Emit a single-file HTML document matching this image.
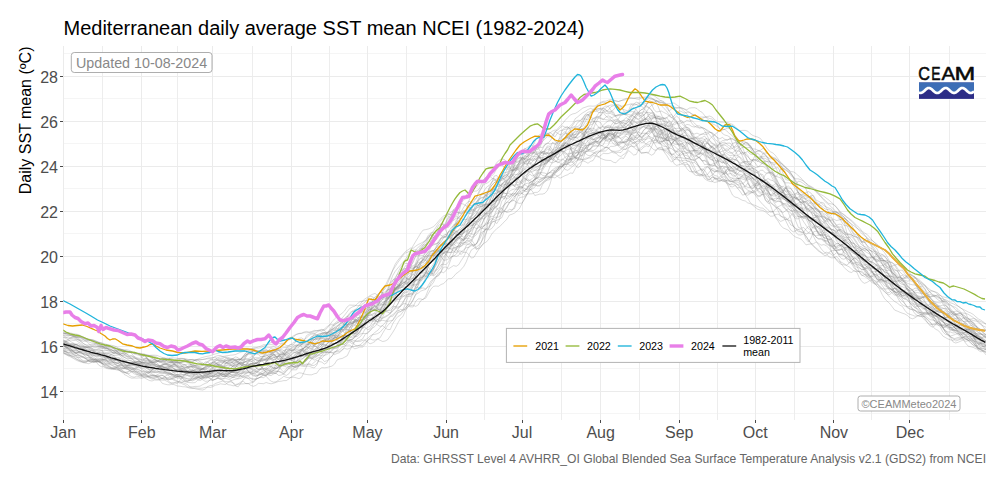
<!DOCTYPE html>
<html><head><meta charset="utf-8"><title>Mediterranean daily average SST mean NCEI (1982-2024)</title>
<style>html,body{margin:0;padding:0;background:#fff}svg{display:block}</style></head>
<body>
<svg width="1000" height="480" viewBox="0 0 1000 480" font-family="'Liberation Sans', Arial, sans-serif">
<rect width="1000" height="480" fill="#fff"/>
<g fill="none" shape-rendering="crispEdges">
<path d="M63.25 413.5H986.0" stroke="#f5f5f5" stroke-width="1"/>
<path d="M63.25 368.5H986.0" stroke="#f5f5f5" stroke-width="1"/>
<path d="M63.25 323.5H986.0" stroke="#f5f5f5" stroke-width="1"/>
<path d="M63.25 278.5H986.0" stroke="#f5f5f5" stroke-width="1"/>
<path d="M63.25 233.5H986.0" stroke="#f5f5f5" stroke-width="1"/>
<path d="M63.25 188.5H986.0" stroke="#f5f5f5" stroke-width="1"/>
<path d="M63.25 143.5H986.0" stroke="#f5f5f5" stroke-width="1"/>
<path d="M63.25 98.5H986.0" stroke="#f5f5f5" stroke-width="1"/>
<path d="M63.25 53.5H986.0" stroke="#f5f5f5" stroke-width="1"/>
<path d="M102.5 46.0V420.0" stroke="#ededed" stroke-width="1"/>
<path d="M177.5 46.0V420.0" stroke="#ededed" stroke-width="1"/>
<path d="M252.5 46.0V420.0" stroke="#ededed" stroke-width="1"/>
<path d="M329.5 46.0V420.0" stroke="#ededed" stroke-width="1"/>
<path d="M406.5 46.0V420.0" stroke="#ededed" stroke-width="1"/>
<path d="M484.5 46.0V420.0" stroke="#ededed" stroke-width="1"/>
<path d="M561.5 46.0V420.0" stroke="#ededed" stroke-width="1"/>
<path d="M639.5 46.0V420.0" stroke="#ededed" stroke-width="1"/>
<path d="M717.5 46.0V420.0" stroke="#ededed" stroke-width="1"/>
<path d="M794.5 46.0V420.0" stroke="#ededed" stroke-width="1"/>
<path d="M871.5 46.0V420.0" stroke="#ededed" stroke-width="1"/>
<path d="M949.5 46.0V420.0" stroke="#ededed" stroke-width="1"/>
<path d="M63.25 391.5H986.0" stroke="#ebebeb" stroke-width="1"/>
<path d="M63.25 346.5H986.0" stroke="#ebebeb" stroke-width="1"/>
<path d="M63.25 301.5H986.0" stroke="#ebebeb" stroke-width="1"/>
<path d="M63.25 256.5H986.0" stroke="#ebebeb" stroke-width="1"/>
<path d="M63.25 211.5H986.0" stroke="#ebebeb" stroke-width="1"/>
<path d="M63.25 166.5H986.0" stroke="#ebebeb" stroke-width="1"/>
<path d="M63.25 121.5H986.0" stroke="#ebebeb" stroke-width="1"/>
<path d="M63.25 76.5H986.0" stroke="#ebebeb" stroke-width="1"/>
<path d="M63.5 46.0V420.0" stroke="#ebebeb" stroke-width="1"/>
<path d="M141.5 46.0V420.0" stroke="#ebebeb" stroke-width="1"/>
<path d="M212.5 46.0V420.0" stroke="#ebebeb" stroke-width="1"/>
<path d="M291.5 46.0V420.0" stroke="#ebebeb" stroke-width="1"/>
<path d="M367.5 46.0V420.0" stroke="#ebebeb" stroke-width="1"/>
<path d="M446.5 46.0V420.0" stroke="#ebebeb" stroke-width="1"/>
<path d="M522.5 46.0V420.0" stroke="#ebebeb" stroke-width="1"/>
<path d="M600.5 46.0V420.0" stroke="#ebebeb" stroke-width="1"/>
<path d="M679.5 46.0V420.0" stroke="#ebebeb" stroke-width="1"/>
<path d="M755.5 46.0V420.0" stroke="#ebebeb" stroke-width="1"/>
<path d="M833.5 46.0V420.0" stroke="#ebebeb" stroke-width="1"/>
<path d="M909.5 46.0V420.0" stroke="#ebebeb" stroke-width="1"/>
</g>
<clipPath id="c"><rect x="63.25" y="46.0" width="922.75" height="374.0"/></clipPath>
<g clip-path="url(#c)" fill="none" stroke-linejoin="round" stroke-linecap="butt">
<g stroke="#7f7f7f" stroke-opacity="0.31" stroke-width="0.95">
<path d="M63.2 350.4 L65.8 351.4 L68.3 352.4 L70.9 352.6 L73.4 353.4 L75.9 353.4 L78.5 352.9 L81 353.8 L83.5 353.7 L86.1 354.3 L88.6 356.4 L91.1 357.9 L93.7 359.2 L96.2 360.2 L98.7 361.4 L101.3 361.3 L103.8 361.9 L106.3 364.1 L108.9 364.5 L111.4 364.9 L114 366.1 L116.5 367.5 L119 369.4 L121.6 370.4 L124.1 371.9 L126.6 372.9 L129.2 375.1 L131.7 376.7 L134.2 377.2 L136.8 376.1 L139.3 376.7 L141.8 376.8 L144.4 376.8 L146.9 377.2 L149.4 376.3 L152 375.1 L154.5 376.1 L157 376.3 L159.6 376.7 L162.1 378.1 L164.7 376.7 L167.2 375 L169.7 374.1 L172.3 373.1 L174.8 372.1 L177.3 372 L179.9 370 L182.4 369.2 L184.9 368.5 L187.5 366.7 L190 364.9 L192.5 364.1 L195.1 365.6 L197.6 367.8 L200.1 368.9 L202.7 370.9 L205.2 371.3 L207.7 371.3 L210.3 371.4 L212.8 371.4 L215.4 369.7 L217.9 370.1 L220.4 370.6 L223 370.2 L225.5 370.1 L228 370.5 L230.6 371.2 L233.1 370.9 L235.6 369.8 L238.2 368.6 L240.7 368.5 L243.2 368.2 L245.8 367.4 L248.3 365.9 L250.8 363.6 L253.4 363.4 L255.9 363.4 L258.4 361.9 L261 359.7 L263.5 360 L266.1 358.6 L268.6 356.8 L271.1 359.4 L273.7 362.2 L276.2 364 L278.7 362.6 L281.3 358.2 L283.8 354.9 L286.3 352.5 L288.9 353.2 L291.4 356.4 L293.9 359.2 L296.5 357.6 L299 356.1 L301.5 356.6 L304.1 356.2 L306.6 355.9 L309.1 354 L311.7 351.9 L314.2 352.4 L316.8 352.2 L319.3 351.4 L321.8 352.4 L324.4 350.3 L326.9 347.9 L329.4 344.7 L332 343.6 L334.5 343.5 L337 343.2 L339.6 342.3 L342.1 343.7 L344.6 344.2 L347.2 342.1 L349.7 339.7 L352.2 339.6 L354.8 336.3 L357.3 334.2 L359.8 332.9 L362.4 327.6 L364.9 321.7 L367.5 319.4 L370 320 L372.5 320.4 L375.1 319.3 L377.6 315.8 L380.1 309.8 L382.7 306.8 L385.2 304.7 L387.7 300.4 L390.3 296.2 L392.8 292 L395.3 288 L397.9 286.7 L400.4 283.3 L402.9 277.7 L405.5 274.3 L408 271.5 L410.5 267.2 L413.1 267.1 L415.6 267.4 L418.2 264.6 L420.7 263.6 L423.2 262.6 L425.8 259.4 L428.3 256.5 L430.8 255.4 L433.4 255.8 L435.9 254.2 L438.4 250.7 L441 250 L443.5 248.9 L446 243 L448.6 238.9 L451.1 230.6 L453.6 224.7 L456.2 223.7 L458.7 224.6 L461.2 221 L463.8 218.1 L466.3 215 L468.9 212.9 L471.4 208.5 L473.9 203.8 L476.5 201.9 L479 200 L481.5 197.9 L484.1 196.4 L486.6 195.4 L489.1 191 L491.7 189.7 L494.2 193.9 L496.7 193.4 L499.3 190.8 L501.8 190.8 L504.3 193.2 L506.9 193.8 L509.4 191.3 L511.9 189.8 L514.5 189 L517 189.4 L519.5 189.1 L522.1 187.7 L524.6 184.2 L527.2 183.3 L529.7 183.1 L532.2 181.6 L534.8 179.1 L537.3 177.5 L539.8 177.3 L542.4 178.6 L544.9 177.8 L547.4 177 L550 178.1 L552.5 174.2 L555 172.7 L557.6 171.2 L560.1 168.2 L562.6 166.7 L565.2 164.3 L567.7 163.9 L570.2 165.6 L572.8 164.5 L575.3 161.5 L577.9 160.2 L580.4 158.4 L582.9 160 L585.5 159.5 L588 158.3 L590.5 156.2 L593.1 153.7 L595.6 153.6 L598.1 156.6 L600.7 158.4 L603.2 159.4 L605.7 160.2 L608.3 160.4 L610.8 160.5 L613.3 162.2 L615.9 162.8 L618.4 159.9 L621 157.9 L623.5 158.5 L626 154.4 L628.6 150.6 L631.1 152.6 L633.6 155 L636.2 154.5 L638.7 149.6 L641.2 147.6 L643.8 145.7 L646.3 143.7 L648.8 141.7 L651.4 140.8 L653.9 142.7 L656.4 142.5 L659 136.8 L661.5 132.6 L664 131.5 L666.6 130.7 L669.1 131.6 L671.7 136.9 L674.2 140.3 L676.7 143.6 L679.3 145.6 L681.8 147.1 L684.3 146.2 L686.9 142.9 L689.4 139.7 L691.9 138.6 L694.5 140 L697 141.9 L699.5 141.1 L702.1 140.4 L704.6 144.7 L707.1 152.8 L709.7 156.2 L712.2 153.5 L714.7 151.8 L717.3 152.6 L719.8 152.1 L722.4 151.2 L724.9 150.4 L727.4 152 L730 153.1 L732.5 153.3 L735 156.7 L737.6 160.5 L740.1 162.9 L742.6 162.1 L745.2 161.5 L747.7 161.6 L750.2 161.5 L752.8 159.8 L755.3 159.9 L757.8 159.4 L760.4 157 L762.9 158.1 L765.4 161.3 L768 161.6 L770.5 161.7 L773.1 163.5 L775.6 167.3 L778.1 172.5 L780.7 176.5 L783.2 178.7 L785.7 184.5 L788.3 192.8 L790.8 198.6 L793.3 205.4 L795.9 210 L798.4 211.7 L800.9 212.8 L803.5 214.1 L806 216.3 L808.5 217.3 L811.1 218.1 L813.6 218.2 L816.1 217 L818.7 216.9 L821.2 216.5 L823.8 216.9 L826.3 217.3 L828.8 219.3 L831.4 222.5 L833.9 225.1 L836.4 227.2 L839 227.1 L841.5 226.8 L844 231.5 L846.6 233.1 L849.1 234.7 L851.6 235.1 L854.2 236.4 L856.7 237.1 L859.2 238.1 L861.8 242.4 L864.3 246.8 L866.8 249.7 L869.4 252.4 L871.9 256.6 L874.5 260.2 L877 261.9 L879.5 260.1 L882.1 260.2 L884.6 260.9 L887.1 261.7 L889.7 266.9 L892.2 273.8 L894.7 277.2 L897.3 278.3 L899.8 276.4 L902.3 275.3 L904.9 277.8 L907.4 276.2 L909.9 274.6 L912.5 275.8 L915 277.3 L917.5 278.6 L920.1 280.4 L922.6 283.1 L925.2 285.7 L927.7 289.8 L930.2 292.2 L932.8 294.6 L935.3 295.5 L937.8 296.4 L940.4 298.9 L942.9 301.8 L945.4 305.5 L948 308.3 L950.5 311.3 L953 313.5 L955.6 316 L958.1 318 L960.6 320.9 L963.2 325 L965.7 327.7 L968.2 329.3 L970.8 331.1 L973.3 336 L975.9 341.1 L978.4 344.1 L980.9 345.8 L983.5 346.9 L986 347.6"/>
<path d="M63.2 344 L65.8 345.4 L68.3 345.6 L70.9 345.4 L73.4 344.9 L75.9 344 L78.5 345.6 L81 347 L83.5 347.6 L86.1 347.3 L88.6 347.9 L91.1 349.3 L93.7 350.4 L96.2 352 L98.7 352.8 L101.3 352.2 L103.8 352.7 L106.3 354.4 L108.9 355.3 L111.4 356.1 L114 357.1 L116.5 359.3 L119 361.2 L121.6 364.3 L124.1 367.5 L126.6 367.5 L129.2 366.6 L131.7 366.4 L134.2 368.8 L136.8 370.6 L139.3 372.2 L141.8 375.1 L144.4 375.3 L146.9 375.9 L149.4 378 L152 379.2 L154.5 378.5 L157 377 L159.6 377 L162.1 378.6 L164.7 379.4 L167.2 378.6 L169.7 378.8 L172.3 379.4 L174.8 380.7 L177.3 381.7 L179.9 381.4 L182.4 382.5 L184.9 383.4 L187.5 384.6 L190 386.8 L192.5 386.8 L195.1 386.4 L197.6 386.4 L200.1 386.1 L202.7 384.6 L205.2 383.4 L207.7 382.4 L210.3 379.6 L212.8 377.6 L215.4 374.2 L217.9 372.9 L220.4 374.1 L223 376.3 L225.5 376.4 L228 374.7 L230.6 372.5 L233.1 370.9 L235.6 369.5 L238.2 369.2 L240.7 370.3 L243.2 371.8 L245.8 372.2 L248.3 370.7 L250.8 371.1 L253.4 371.7 L255.9 372 L258.4 371.9 L261 373 L263.5 375 L266.1 374.9 L268.6 374.7 L271.1 373.3 L273.7 372.6 L276.2 373.7 L278.7 369.6 L281.3 365.5 L283.8 365.5 L286.3 367.2 L288.9 367.1 L291.4 365.4 L293.9 364.6 L296.5 362.1 L299 359.2 L301.5 358.8 L304.1 357.7 L306.6 354.8 L309.1 353 L311.7 350.7 L314.2 346.4 L316.8 343.8 L319.3 342.8 L321.8 341.8 L324.4 341 L326.9 340.3 L329.4 338.7 L332 339.1 L334.5 337 L337 334.3 L339.6 331.7 L342.1 328.5 L344.6 324.4 L347.2 321.5 L349.7 319.1 L352.2 317.5 L354.8 316.5 L357.3 314.8 L359.8 315.3 L362.4 311.2 L364.9 304.8 L367.5 303.9 L370 302.3 L372.5 302.7 L375.1 300 L377.6 295.5 L380.1 291.8 L382.7 292.9 L385.2 295.6 L387.7 295.9 L390.3 293.8 L392.8 292 L395.3 289.5 L397.9 287.9 L400.4 285.8 L402.9 283.1 L405.5 281.9 L408 282.5 L410.5 280.9 L413.1 281.9 L415.6 280.4 L418.2 279.2 L420.7 277.4 L423.2 276.5 L425.8 275.9 L428.3 274.3 L430.8 273.3 L433.4 273.5 L435.9 270.5 L438.4 268.9 L441 264.7 L443.5 264.2 L446 264.7 L448.6 261.9 L451.1 256.7 L453.6 256.2 L456.2 254.3 L458.7 250.8 L461.2 251.2 L463.8 252.4 L466.3 252.3 L468.9 254.6 L471.4 258.1 L473.9 257.3 L476.5 252.9 L479 249.1 L481.5 245.5 L484.1 243.3 L486.6 241.8 L489.1 238.7 L491.7 234.1 L494.2 231.3 L496.7 228.7 L499.3 226.8 L501.8 224.5 L504.3 221.7 L506.9 219.3 L509.4 215 L511.9 214.3 L514.5 213.1 L517 210.9 L519.5 208.5 L522.1 203.3 L524.6 198.3 L527.2 193.6 L529.7 189.1 L532.2 190.9 L534.8 195.5 L537.3 194.8 L539.8 194.1 L542.4 194.1 L544.9 193.3 L547.4 190.4 L550 184.2 L552.5 175.3 L555 169.4 L557.6 167.8 L560.1 166.5 L562.6 166.6 L565.2 162.8 L567.7 159.8 L570.2 159.3 L572.8 156.9 L575.3 156.7 L577.9 154.8 L580.4 148.5 L582.9 138.2 L585.5 131.5 L588 126.9 L590.5 124.8 L593.1 123.9 L595.6 117.7 L598.1 117 L600.7 118.6 L603.2 119.8 L605.7 117.2 L608.3 115.9 L610.8 116.8 L613.3 119.9 L615.9 121 L618.4 121.1 L621 124.8 L623.5 126.9 L626 123.8 L628.6 121.9 L631.1 122.6 L633.6 126.8 L636.2 130.8 L638.7 135 L641.2 136.9 L643.8 135.3 L646.3 133.2 L648.8 135.9 L651.4 139.3 L653.9 142.8 L656.4 147 L659 149.9 L661.5 149.3 L664 149.2 L666.6 149 L669.1 148.4 L671.7 143.9 L674.2 139.9 L676.7 141 L679.3 140.8 L681.8 141.7 L684.3 146.9 L686.9 150.8 L689.4 150.7 L691.9 153.4 L694.5 158.2 L697 163.6 L699.5 168.2 L702.1 169.7 L704.6 174 L707.1 179.3 L709.7 179.8 L712.2 177 L714.7 177.4 L717.3 179.5 L719.8 180.6 L722.4 179.4 L724.9 179.9 L727.4 183.7 L730 186.5 L732.5 186.9 L735 185.5 L737.6 187.9 L740.1 186.9 L742.6 188.8 L745.2 194.1 L747.7 193 L750.2 193 L752.8 192.7 L755.3 191.8 L757.8 189.8 L760.4 187.6 L762.9 185.7 L765.4 187.3 L768 194.1 L770.5 202.3 L773.1 204.4 L775.6 207.5 L778.1 208.2 L780.7 209.8 L783.2 215.1 L785.7 220.7 L788.3 226.1 L790.8 230.2 L793.3 231.9 L795.9 230.5 L798.4 229.7 L800.9 232.7 L803.5 232.4 L806 228.7 L808.5 226.3 L811.1 229.1 L813.6 236.5 L816.1 241.4 L818.7 243.5 L821.2 245.2 L823.8 244.6 L826.3 245.6 L828.8 248.2 L831.4 251.3 L833.9 256.1 L836.4 260.1 L839 262.9 L841.5 264.5 L844 264.8 L846.6 265.5 L849.1 266.8 L851.6 269 L854.2 271.2 L856.7 271.7 L859.2 271.1 L861.8 272.5 L864.3 274.1 L866.8 276.6 L869.4 278.6 L871.9 279.9 L874.5 283.1 L877 285.5 L879.5 288 L882.1 289.4 L884.6 292 L887.1 293.9 L889.7 294.6 L892.2 292.3 L894.7 291.6 L897.3 294.1 L899.8 295.4 L902.3 293.3 L904.9 293.3 L907.4 295 L909.9 297.6 L912.5 299.2 L915 299.6 L917.5 300.8 L920.1 303.2 L922.6 305.7 L925.2 309.2 L927.7 313.8 L930.2 314.8 L932.8 317.3 L935.3 318.4 L937.8 320.1 L940.4 323.4 L942.9 327.7 L945.4 330.3 L948 333.5 L950.5 337.4 L953 341.9 L955.6 343 L958.1 342.3 L960.6 341.2 L963.2 340.1 L965.7 341.4 L968.2 340.6 L970.8 340.2 L973.3 342.9 L975.9 346.4 L978.4 348.6 L980.9 350 L983.5 351.8 L986 354.9"/>
<path d="M63.2 342.4 L65.8 342.8 L68.3 344.1 L70.9 345.4 L73.4 347.6 L75.9 349.6 L78.5 351.3 L81 352.5 L83.5 353.8 L86.1 354.4 L88.6 355.7 L91.1 357.1 L93.7 359 L96.2 360.4 L98.7 361.1 L101.3 360.7 L103.8 359.1 L106.3 357.7 L108.9 358 L111.4 358.8 L114 360.1 L116.5 360.7 L119 362 L121.6 364.5 L124.1 366.1 L126.6 367.3 L129.2 370 L131.7 371.8 L134.2 372.2 L136.8 374.2 L139.3 375.3 L141.8 376.2 L144.4 376 L146.9 376.3 L149.4 377 L152 376.7 L154.5 376.6 L157 374.7 L159.6 373.6 L162.1 373.8 L164.7 373.4 L167.2 374.6 L169.7 376.5 L172.3 377 L174.8 377.5 L177.3 377 L179.9 375.6 L182.4 374.6 L184.9 374.6 L187.5 375.5 L190 376 L192.5 376.2 L195.1 377.4 L197.6 377.8 L200.1 376.2 L202.7 375.2 L205.2 374.1 L207.7 374.7 L210.3 376 L212.8 376.9 L215.4 376.6 L217.9 377.5 L220.4 378.6 L223 378.8 L225.5 377.1 L228 375.4 L230.6 376.8 L233.1 377.6 L235.6 376.2 L238.2 375.5 L240.7 375.7 L243.2 376.1 L245.8 376.5 L248.3 375.7 L250.8 374.2 L253.4 375.9 L255.9 376.2 L258.4 374.9 L261 374.1 L263.5 374.8 L266.1 376.1 L268.6 379.2 L271.1 381.2 L273.7 382.2 L276.2 381.7 L278.7 380 L281.3 378.4 L283.8 376.3 L286.3 377.3 L288.9 377.7 L291.4 377.5 L293.9 377.2 L296.5 377.9 L299 378.7 L301.5 377.3 L304.1 372 L306.6 366.4 L309.1 362.1 L311.7 359.2 L314.2 357.2 L316.8 356.1 L319.3 355.4 L321.8 356 L324.4 355.3 L326.9 354.6 L329.4 353.1 L332 349.3 L334.5 346.9 L337 345.6 L339.6 342.2 L342.1 337.7 L344.6 335.2 L347.2 335.2 L349.7 335.2 L352.2 331.8 L354.8 330.4 L357.3 331.4 L359.8 327.6 L362.4 323.5 L364.9 318.9 L367.5 316.3 L370 315.2 L372.5 313.9 L375.1 313.6 L377.6 312.9 L380.1 310.4 L382.7 305.8 L385.2 301.3 L387.7 299.2 L390.3 295.1 L392.8 292.2 L395.3 289.3 L397.9 286.2 L400.4 285.2 L402.9 283.4 L405.5 281.6 L408 280.8 L410.5 278.3 L413.1 278 L415.6 279.9 L418.2 279.7 L420.7 276.6 L423.2 274.8 L425.8 276.4 L428.3 277.3 L430.8 275.2 L433.4 271.7 L435.9 270 L438.4 266 L441 260.8 L443.5 256.8 L446 253.8 L448.6 249.2 L451.1 244.9 L453.6 238.6 L456.2 234.6 L458.7 234.4 L461.2 234.2 L463.8 233.1 L466.3 231.4 L468.9 232.3 L471.4 231.1 L473.9 227 L476.5 223.7 L479 226.3 L481.5 228.1 L484.1 229 L486.6 229.7 L489.1 228.4 L491.7 223 L494.2 221 L496.7 223.6 L499.3 219.8 L501.8 212.8 L504.3 205.5 L506.9 202 L509.4 202.6 L511.9 200 L514.5 196.5 L517 193.5 L519.5 193.2 L522.1 193.6 L524.6 191.1 L527.2 187.3 L529.7 185.1 L532.2 184.4 L534.8 185 L537.3 183.1 L539.8 182.3 L542.4 180 L544.9 178.2 L547.4 177 L550 176 L552.5 174 L555 172.4 L557.6 170 L560.1 165.8 L562.6 164.7 L565.2 164.1 L567.7 161.2 L570.2 159 L572.8 158.6 L575.3 157.2 L577.9 157.7 L580.4 159.5 L582.9 159.6 L585.5 158.2 L588 157.9 L590.5 158 L593.1 155.6 L595.6 155.9 L598.1 157 L600.7 155.7 L603.2 153.2 L605.7 153.6 L608.3 153.6 L610.8 152.6 L613.3 151.6 L615.9 153 L618.4 155.8 L621 156.5 L623.5 154.5 L626 153 L628.6 148.1 L631.1 145.4 L633.6 146.8 L636.2 145.7 L638.7 142.8 L641.2 140.9 L643.8 138.7 L646.3 137.3 L648.8 135.4 L651.4 132.2 L653.9 128.3 L656.4 128.9 L659 130.3 L661.5 130.3 L664 129.7 L666.6 128.3 L669.1 128.7 L671.7 130.2 L674.2 130.6 L676.7 131.2 L679.3 131.7 L681.8 130 L684.3 130.4 L686.9 135.2 L689.4 138.9 L691.9 143.1 L694.5 149.5 L697 151.3 L699.5 152.1 L702.1 153.5 L704.6 156.1 L707.1 161.5 L709.7 165.9 L712.2 170.2 L714.7 171.7 L717.3 171.1 L719.8 171.7 L722.4 172.5 L724.9 174.7 L727.4 178.2 L730 181 L732.5 181.2 L735 180.7 L737.6 180.6 L740.1 181 L742.6 182.6 L745.2 187.7 L747.7 190.3 L750.2 191.1 L752.8 192.3 L755.3 195.2 L757.8 198.6 L760.4 201.8 L762.9 204.7 L765.4 206.9 L768 209.8 L770.5 212.1 L773.1 212 L775.6 208.9 L778.1 206.7 L780.7 205.5 L783.2 204 L785.7 206 L788.3 208.6 L790.8 210.7 L793.3 210.7 L795.9 210 L798.4 211.1 L800.9 213 L803.5 215.3 L806 217.7 L808.5 220.4 L811.1 221.4 L813.6 224.8 L816.1 229.6 L818.7 233.6 L821.2 234.9 L823.8 235.1 L826.3 236.5 L828.8 236 L831.4 238.6 L833.9 243.8 L836.4 250.3 L839 256 L841.5 258.6 L844 259.3 L846.6 257.5 L849.1 255.6 L851.6 258.5 L854.2 261.2 L856.7 265.2 L859.2 271.7 L861.8 275.1 L864.3 276.4 L866.8 278 L869.4 280.1 L871.9 282.4 L874.5 284 L877 284.2 L879.5 285.8 L882.1 288.4 L884.6 289.1 L887.1 288.8 L889.7 288.1 L892.2 290.2 L894.7 291.8 L897.3 292.8 L899.8 293.8 L902.3 295 L904.9 297.8 L907.4 299.8 L909.9 303 L912.5 305 L915 307.4 L917.5 306 L920.1 304.4 L922.6 304.4 L925.2 304.5 L927.7 305.6 L930.2 304 L932.8 302.9 L935.3 303 L937.8 304.9 L940.4 306.8 L942.9 308 L945.4 309.2 L948 311.6 L950.5 312.2 L953 312.1 L955.6 311.2 L958.1 311.3 L960.6 313.1 L963.2 315.4 L965.7 316.6 L968.2 318.5 L970.8 320.5 L973.3 323 L975.9 326.1 L978.4 327.6 L980.9 330.3 L983.5 333.1 L986 334.7"/>
<path d="M63.2 345.8 L65.8 347.1 L68.3 349.5 L70.9 350.7 L73.4 350.8 L75.9 350.3 L78.5 349.5 L81 349.5 L83.5 349.5 L86.1 350.7 L88.6 352.7 L91.1 355.3 L93.7 357.3 L96.2 359.2 L98.7 361.4 L101.3 362.8 L103.8 362.9 L106.3 363.4 L108.9 363.4 L111.4 362.8 L114 362.8 L116.5 363 L119 364.1 L121.6 365.6 L124.1 366.7 L126.6 367 L129.2 367.6 L131.7 368 L134.2 368.8 L136.8 369.2 L139.3 370.4 L141.8 371.2 L144.4 371.2 L146.9 372.3 L149.4 372.5 L152 371.8 L154.5 372 L157 371.9 L159.6 372.1 L162.1 372.9 L164.7 372.9 L167.2 373.1 L169.7 373.9 L172.3 374.6 L174.8 374.3 L177.3 374.6 L179.9 376 L182.4 377.3 L184.9 374.5 L187.5 373.1 L190 372.6 L192.5 373.8 L195.1 374.4 L197.6 373.6 L200.1 374.8 L202.7 376.5 L205.2 377 L207.7 377.1 L210.3 376.5 L212.8 376.4 L215.4 374.8 L217.9 374.9 L220.4 374.4 L223 371.7 L225.5 370.5 L228 371.7 L230.6 374.7 L233.1 375.8 L235.6 375.6 L238.2 376.5 L240.7 376.9 L243.2 375.7 L245.8 373.3 L248.3 372 L250.8 372.4 L253.4 373.6 L255.9 373.4 L258.4 370.4 L261 369 L263.5 368.7 L266.1 367.8 L268.6 365.8 L271.1 366.5 L273.7 368.1 L276.2 368.6 L278.7 367 L281.3 364 L283.8 363 L286.3 364 L288.9 364 L291.4 365.4 L293.9 366.6 L296.5 366.1 L299 365.4 L301.5 363.9 L304.1 361.4 L306.6 359.4 L309.1 357.9 L311.7 358.4 L314.2 356.9 L316.8 354.1 L319.3 351.3 L321.8 350.8 L324.4 350.1 L326.9 349 L329.4 346.5 L332 341.5 L334.5 336.9 L337 337 L339.6 337.8 L342.1 337.1 L344.6 335.4 L347.2 332.7 L349.7 329 L352.2 331 L354.8 327.9 L357.3 324.2 L359.8 320.4 L362.4 319.6 L364.9 316.6 L367.5 312.1 L370 309.7 L372.5 308.7 L375.1 310 L377.6 309.4 L380.1 309.7 L382.7 310.5 L385.2 311.8 L387.7 310.7 L390.3 310.4 L392.8 308.3 L395.3 306.5 L397.9 307.1 L400.4 306.1 L402.9 303.9 L405.5 303.6 L408 304.9 L410.5 305.7 L413.1 305.1 L415.6 306.4 L418.2 305 L420.7 300.7 L423.2 299 L425.8 298.1 L428.3 293.6 L430.8 289.3 L433.4 286.4 L435.9 286 L438.4 286.3 L441 284.5 L443.5 283.6 L446 281.2 L448.6 278.7 L451.1 278.8 L453.6 276.6 L456.2 273.5 L458.7 271.9 L461.2 269.4 L463.8 266.4 L466.3 261.7 L468.9 255 L471.4 249.9 L473.9 248.4 L476.5 247 L479 245 L481.5 241.5 L484.1 237.1 L486.6 231.9 L489.1 227.4 L491.7 220.9 L494.2 215.4 L496.7 209.4 L499.3 207.7 L501.8 208.7 L504.3 211.2 L506.9 211.6 L509.4 209.3 L511.9 209.7 L514.5 208.5 L517 201.9 L519.5 197.6 L522.1 197.1 L524.6 196.7 L527.2 194.5 L529.7 190.6 L532.2 187.4 L534.8 183.2 L537.3 181 L539.8 182 L542.4 180.5 L544.9 178.2 L547.4 173.2 L550 172.6 L552.5 172.9 L555 171.5 L557.6 169.3 L560.1 168.2 L562.6 166.1 L565.2 161.3 L567.7 157.8 L570.2 153.5 L572.8 152.4 L575.3 149 L577.9 144.5 L580.4 140.2 L582.9 134 L585.5 131.6 L588 132.2 L590.5 133.3 L593.1 132.7 L595.6 131.9 L598.1 131.4 L600.7 133.1 L603.2 135.1 L605.7 136.1 L608.3 133.7 L610.8 129.8 L613.3 126.1 L615.9 121.7 L618.4 118.9 L621 115 L623.5 114.5 L626 114.5 L628.6 117.1 L631.1 116.5 L633.6 114.3 L636.2 113.9 L638.7 115.9 L641.2 117.8 L643.8 120.4 L646.3 123.1 L648.8 124.1 L651.4 123.1 L653.9 121.1 L656.4 121.9 L659 127.5 L661.5 130.8 L664 129.5 L666.6 133.6 L669.1 137.6 L671.7 139.2 L674.2 139.6 L676.7 142.7 L679.3 144.6 L681.8 145.9 L684.3 147.9 L686.9 149.7 L689.4 151.9 L691.9 154.7 L694.5 156.7 L697 155.5 L699.5 153.7 L702.1 149.9 L704.6 147.8 L707.1 149.5 L709.7 149.6 L712.2 146.1 L714.7 145.6 L717.3 148.2 L719.8 152.7 L722.4 155.6 L724.9 159.1 L727.4 163.2 L730 166.8 L732.5 168.4 L735 167.6 L737.6 165.6 L740.1 164.1 L742.6 167.7 L745.2 176.3 L747.7 182.8 L750.2 186.5 L752.8 185.9 L755.3 183.3 L757.8 183.7 L760.4 188.8 L762.9 192.6 L765.4 196.8 L768 200.2 L770.5 205.3 L773.1 212.4 L775.6 217.9 L778.1 221.1 L780.7 225.5 L783.2 227.9 L785.7 229 L788.3 230.1 L790.8 233 L793.3 235.4 L795.9 237.2 L798.4 238 L800.9 239 L803.5 241.7 L806 244.9 L808.5 244.3 L811.1 243.9 L813.6 243.7 L816.1 241.9 L818.7 244.9 L821.2 248.8 L823.8 251.8 L826.3 253.5 L828.8 256.8 L831.4 257.8 L833.9 257.8 L836.4 256.7 L839 259 L841.5 264.2 L844 267.3 L846.6 269.9 L849.1 271.8 L851.6 272.5 L854.2 270.5 L856.7 271.9 L859.2 277.6 L861.8 281.5 L864.3 283.3 L866.8 282.5 L869.4 280.8 L871.9 280.6 L874.5 283.5 L877 286 L879.5 288.9 L882.1 294.4 L884.6 298.7 L887.1 301.2 L889.7 303.5 L892.2 306.8 L894.7 310.1 L897.3 311.1 L899.8 312.2 L902.3 313.2 L904.9 314 L907.4 315.5 L909.9 317.9 L912.5 318.8 L915 317.8 L917.5 316.1 L920.1 314.7 L922.6 314 L925.2 317.4 L927.7 320.3 L930.2 322.7 L932.8 324.8 L935.3 324.5 L937.8 324.9 L940.4 326.9 L942.9 332 L945.4 334.3 L948 334.9 L950.5 335.9 L953 335.3 L955.6 334.3 L958.1 333.6 L960.6 334.7 L963.2 333.1 L965.7 332.8 L968.2 334.2 L970.8 336.1 L973.3 337.9 L975.9 338.4 L978.4 339.1 L980.9 343 L983.5 346.3 L986 346.1"/>
<path d="M63.2 345.3 L65.8 345.6 L68.3 344.9 L70.9 343.5 L73.4 343.5 L75.9 344.5 L78.5 345.7 L81 346.1 L83.5 346.8 L86.1 349.3 L88.6 351.6 L91.1 352.8 L93.7 352.4 L96.2 352.7 L98.7 351.8 L101.3 350.5 L103.8 350.5 L106.3 350.6 L108.9 350.6 L111.4 349.7 L114 350.6 L116.5 350.4 L119 349.2 L121.6 349.8 L124.1 350.6 L126.6 351.6 L129.2 351.5 L131.7 352.3 L134.2 353.1 L136.8 353.6 L139.3 354.6 L141.8 357.3 L144.4 360.2 L146.9 362.1 L149.4 363 L152 361.9 L154.5 363 L157 365.1 L159.6 366.6 L162.1 367.8 L164.7 368 L167.2 368.6 L169.7 366.7 L172.3 365.2 L174.8 363.9 L177.3 363.5 L179.9 363.6 L182.4 366.5 L184.9 367.8 L187.5 367.9 L190 366.6 L192.5 366.2 L195.1 366.5 L197.6 368.1 L200.1 369.5 L202.7 369 L205.2 366.4 L207.7 364.9 L210.3 362.9 L212.8 362.7 L215.4 363.4 L217.9 363.7 L220.4 364.8 L223 366.6 L225.5 367.1 L228 367.4 L230.6 367.9 L233.1 366.2 L235.6 364.8 L238.2 364.6 L240.7 364.8 L243.2 365.9 L245.8 365.1 L248.3 364.1 L250.8 363.6 L253.4 364 L255.9 362.5 L258.4 360.4 L261 360.1 L263.5 357.1 L266.1 353.4 L268.6 351.3 L271.1 351.3 L273.7 350.6 L276.2 348.5 L278.7 346.2 L281.3 344.2 L283.8 343.5 L286.3 345.6 L288.9 345.5 L291.4 344.4 L293.9 345.1 L296.5 345.3 L299 345.1 L301.5 346.2 L304.1 352.2 L306.6 357.3 L309.1 358.1 L311.7 358.4 L314.2 360.1 L316.8 358.7 L319.3 357.3 L321.8 358.7 L324.4 361.5 L326.9 360.8 L329.4 359.1 L332 356 L334.5 351.9 L337 351.8 L339.6 351.6 L342.1 349.8 L344.6 348.4 L347.2 349.2 L349.7 348.3 L352.2 346.6 L354.8 346.4 L357.3 345.8 L359.8 345.1 L362.4 343 L364.9 340.2 L367.5 341.8 L370 343.9 L372.5 342.9 L375.1 341.4 L377.6 338.9 L380.1 340.3 L382.7 341.5 L385.2 341 L387.7 339.7 L390.3 336 L392.8 332.3 L395.3 328.1 L397.9 323 L400.4 318.6 L402.9 316.6 L405.5 310.4 L408 306.3 L410.5 306.8 L413.1 307 L415.6 301.4 L418.2 298.9 L420.7 298.9 L423.2 299.8 L425.8 296 L428.3 289.8 L430.8 283.5 L433.4 279.5 L435.9 276.8 L438.4 273.2 L441 271.8 L443.5 272.7 L446 270.7 L448.6 265.6 L451.1 258.9 L453.6 253.5 L456.2 249 L458.7 244.5 L461.2 241.7 L463.8 238.5 L466.3 234.4 L468.9 233.1 L471.4 229 L473.9 221.9 L476.5 217.4 L479 213.5 L481.5 209.4 L484.1 206.3 L486.6 201.3 L489.1 198.9 L491.7 200.8 L494.2 200.7 L496.7 193.8 L499.3 185 L501.8 177.2 L504.3 172.6 L506.9 172.3 L509.4 170.7 L511.9 170 L514.5 170.4 L517 170.6 L519.5 165.8 L522.1 161.8 L524.6 158.2 L527.2 157 L529.7 154.2 L532.2 152.9 L534.8 152.5 L537.3 155.2 L539.8 156.6 L542.4 155.1 L544.9 152.9 L547.4 156 L550 159.2 L552.5 159.5 L555 156.5 L557.6 154.8 L560.1 149 L562.6 144.8 L565.2 145.3 L567.7 145.1 L570.2 146.1 L572.8 148.5 L575.3 146.7 L577.9 145.6 L580.4 147.7 L582.9 147.5 L585.5 146 L588 145.3 L590.5 144.1 L593.1 143.4 L595.6 141.1 L598.1 141.6 L600.7 137.1 L603.2 130.4 L605.7 126.4 L608.3 125.3 L610.8 126.4 L613.3 127.6 L615.9 126.6 L618.4 128.4 L621 130.4 L623.5 130.9 L626 132 L628.6 128 L631.1 124.8 L633.6 123 L636.2 122.3 L638.7 121.8 L641.2 120.6 L643.8 120.1 L646.3 118.5 L648.8 114.5 L651.4 115.8 L653.9 116.9 L656.4 118.2 L659 116 L661.5 117.4 L664 118.7 L666.6 118.2 L669.1 115.2 L671.7 114.6 L674.2 118 L676.7 121.5 L679.3 127.3 L681.8 132 L684.3 137.9 L686.9 139.6 L689.4 138.2 L691.9 138.9 L694.5 143.5 L697 143.1 L699.5 143.9 L702.1 145.7 L704.6 148.3 L707.1 151.1 L709.7 151.8 L712.2 153.5 L714.7 159 L717.3 161.9 L719.8 159.8 L722.4 156.4 L724.9 152.3 L727.4 154 L730 155.8 L732.5 155.1 L735 155.5 L737.6 155.9 L740.1 153.4 L742.6 152.7 L745.2 152.6 L747.7 155.2 L750.2 160 L752.8 160.1 L755.3 160.5 L757.8 161.1 L760.4 162.6 L762.9 163.7 L765.4 165.2 L768 169.5 L770.5 172.7 L773.1 173.7 L775.6 179.2 L778.1 185.7 L780.7 188.3 L783.2 191.2 L785.7 195.6 L788.3 201.3 L790.8 203.8 L793.3 206.9 L795.9 209.3 L798.4 213.6 L800.9 216.1 L803.5 217.1 L806 216.2 L808.5 220.3 L811.1 226.9 L813.6 228 L816.1 229.5 L818.7 233.9 L821.2 235.8 L823.8 234.7 L826.3 234.5 L828.8 237.1 L831.4 241.4 L833.9 246 L836.4 246.2 L839 245.1 L841.5 245.5 L844 247.6 L846.6 252.2 L849.1 256.4 L851.6 261.3 L854.2 266.1 L856.7 270.9 L859.2 271.5 L861.8 271.3 L864.3 273.6 L866.8 276.6 L869.4 274 L871.9 271.6 L874.5 274.4 L877 279.9 L879.5 279.7 L882.1 279.4 L884.6 281.7 L887.1 280.6 L889.7 283.1 L892.2 287.7 L894.7 291.5 L897.3 292.7 L899.8 293 L902.3 292.4 L904.9 294 L907.4 295.7 L909.9 296.3 L912.5 298.8 L915 302.2 L917.5 304 L920.1 303.8 L922.6 303.9 L925.2 307 L927.7 312.6 L930.2 316.8 L932.8 319.2 L935.3 321.5 L937.8 325 L940.4 325.5 L942.9 325.2 L945.4 326.4 L948 328.7 L950.5 329.6 L953 330.2 L955.6 328.4 L958.1 327.6 L960.6 331.5 L963.2 332.7 L965.7 332.1 L968.2 334.1 L970.8 337.2 L973.3 340.4 L975.9 344 L978.4 347.5 L980.9 348.4 L983.5 348.5 L986 349.2"/>
<path d="M63.2 351.4 L65.8 351.8 L68.3 353.3 L70.9 353.6 L73.4 354 L75.9 355.9 L78.5 358.9 L81 360.6 L83.5 361.2 L86.1 361 L88.6 360.7 L91.1 360.5 L93.7 360.3 L96.2 359.6 L98.7 359.6 L101.3 359.3 L103.8 359.6 L106.3 360.8 L108.9 360.9 L111.4 359.3 L114 357.7 L116.5 357.3 L119 357.6 L121.6 359 L124.1 360.7 L126.6 362.5 L129.2 363.2 L131.7 363.6 L134.2 364.7 L136.8 365.2 L139.3 367.1 L141.8 369.4 L144.4 371 L146.9 371.6 L149.4 371.8 L152 370 L154.5 368.4 L157 368.5 L159.6 369.2 L162.1 369.6 L164.7 371.1 L167.2 372.9 L169.7 374.3 L172.3 375 L174.8 376.8 L177.3 378.2 L179.9 378.1 L182.4 378.2 L184.9 379.4 L187.5 380.7 L190 380.7 L192.5 379.7 L195.1 378.6 L197.6 379.5 L200.1 380.6 L202.7 379 L205.2 376.5 L207.7 375.3 L210.3 373.9 L212.8 371.9 L215.4 367.8 L217.9 366 L220.4 366.6 L223 367.5 L225.5 369 L228 370.4 L230.6 372.1 L233.1 372.6 L235.6 372.2 L238.2 372.2 L240.7 373.3 L243.2 373.7 L245.8 373.7 L248.3 372.8 L250.8 372.9 L253.4 372.9 L255.9 371.6 L258.4 369.1 L261 368.4 L263.5 365.3 L266.1 361.2 L268.6 358.8 L271.1 356.2 L273.7 355 L276.2 356.4 L278.7 356.9 L281.3 356.6 L283.8 354.7 L286.3 354 L288.9 353.2 L291.4 351.9 L293.9 352 L296.5 353.1 L299 352.9 L301.5 353 L304.1 354.7 L306.6 355.2 L309.1 355.5 L311.7 356.2 L314.2 356 L316.8 355.6 L319.3 354.4 L321.8 353.3 L324.4 352 L326.9 353 L329.4 352.2 L332 352.4 L334.5 354.6 L337 353.5 L339.6 352.7 L342.1 350.2 L344.6 346.9 L347.2 343.3 L349.7 342 L352.2 343.8 L354.8 341.1 L357.3 338.6 L359.8 337.2 L362.4 334.1 L364.9 329.1 L367.5 327.6 L370 326.3 L372.5 321.6 L375.1 321 L377.6 322.3 L380.1 321.7 L382.7 317.8 L385.2 316.3 L387.7 315.1 L390.3 312.9 L392.8 311.3 L395.3 308.7 L397.9 303.4 L400.4 299.1 L402.9 294.6 L405.5 292.8 L408 290.9 L410.5 288.9 L413.1 284.5 L415.6 284.3 L418.2 284.4 L420.7 281.5 L423.2 276.5 L425.8 272.3 L428.3 273.6 L430.8 275.2 L433.4 275.1 L435.9 269.9 L438.4 265.1 L441 258.4 L443.5 253 L446 252.2 L448.6 249.8 L451.1 245.6 L453.6 243.6 L456.2 246.6 L458.7 246.3 L461.2 245.9 L463.8 244.4 L466.3 243.9 L468.9 244.3 L471.4 244 L473.9 245.6 L476.5 243.7 L479 240.5 L481.5 235.3 L484.1 230.4 L486.6 228.7 L489.1 230 L491.7 228.5 L494.2 225.4 L496.7 217.8 L499.3 211.6 L501.8 207.4 L504.3 204.6 L506.9 202.3 L509.4 200 L511.9 196.9 L514.5 193.4 L517 194.4 L519.5 195.8 L522.1 192.7 L524.6 190.1 L527.2 189.1 L529.7 185 L532.2 183.5 L534.8 183.6 L537.3 186 L539.8 186.1 L542.4 183.4 L544.9 181.3 L547.4 180.2 L550 179.5 L552.5 175.3 L555 174.6 L557.6 176.5 L560.1 178.2 L562.6 176.9 L565.2 175.6 L567.7 174.7 L570.2 173 L572.8 173.3 L575.3 168.7 L577.9 164.7 L580.4 162.1 L582.9 160.8 L585.5 161.8 L588 163.3 L590.5 161.4 L593.1 160.5 L595.6 156.2 L598.1 152.6 L600.7 150.2 L603.2 150.1 L605.7 147.2 L608.3 148 L610.8 150.6 L613.3 151.2 L615.9 151.4 L618.4 150.9 L621 149.8 L623.5 146.9 L626 143.2 L628.6 138.2 L631.1 135 L633.6 133 L636.2 132.5 L638.7 135.1 L641.2 137.5 L643.8 139.8 L646.3 139.4 L648.8 137.9 L651.4 139.6 L653.9 140.8 L656.4 139.9 L659 141.1 L661.5 141.5 L664 140.5 L666.6 140.5 L669.1 140.2 L671.7 140.3 L674.2 138.9 L676.7 137.2 L679.3 137 L681.8 137.2 L684.3 138.3 L686.9 139.8 L689.4 140.9 L691.9 145.6 L694.5 152.1 L697 156.4 L699.5 158.2 L702.1 161.1 L704.6 160.7 L707.1 162.9 L709.7 168.3 L712.2 174.4 L714.7 179.2 L717.3 180.1 L719.8 181.5 L722.4 180.2 L724.9 180.7 L727.4 183.1 L730 184.6 L732.5 182.9 L735 182.6 L737.6 184.5 L740.1 188 L742.6 190.5 L745.2 194.4 L747.7 198.3 L750.2 202.5 L752.8 204.6 L755.3 205.5 L757.8 206.6 L760.4 207.9 L762.9 208.2 L765.4 210.2 L768 212.6 L770.5 211.2 L773.1 211.6 L775.6 216.5 L778.1 219.7 L780.7 221.4 L783.2 220.4 L785.7 219 L788.3 220.1 L790.8 220.8 L793.3 225.7 L795.9 232.5 L798.4 234.8 L800.9 235 L803.5 233.8 L806 236.1 L808.5 240.2 L811.1 244.1 L813.6 246.7 L816.1 248.9 L818.7 251.3 L821.2 252.6 L823.8 253.8 L826.3 252.2 L828.8 253 L831.4 254.2 L833.9 257.3 L836.4 258.9 L839 261.7 L841.5 262.3 L844 263.7 L846.6 265.1 L849.1 263.3 L851.6 260.2 L854.2 258.2 L856.7 257.8 L859.2 258.4 L861.8 261.8 L864.3 264.8 L866.8 266.7 L869.4 269.4 L871.9 272.9 L874.5 274.8 L877 274.1 L879.5 274.2 L882.1 277.3 L884.6 282.5 L887.1 287.3 L889.7 290.6 L892.2 293.2 L894.7 295.1 L897.3 294.7 L899.8 294 L902.3 295.6 L904.9 295.9 L907.4 297.1 L909.9 298.5 L912.5 299.5 L915 302 L917.5 303.9 L920.1 305.3 L922.6 307.9 L925.2 309.1 L927.7 310.8 L930.2 312.3 L932.8 313.2 L935.3 314.9 L937.8 317.5 L940.4 320.2 L942.9 322.3 L945.4 323.1 L948 324.1 L950.5 327.4 L953 330.9 L955.6 330.7 L958.1 331.3 L960.6 333.9 L963.2 336 L965.7 338 L968.2 340.7 L970.8 343.3 L973.3 344.9 L975.9 345.5 L978.4 345.2 L980.9 342.7 L983.5 341.5 L986 342.2"/>
<path d="M63.2 344.7 L65.8 346.7 L68.3 348.4 L70.9 350.8 L73.4 350.7 L75.9 351.2 L78.5 352.1 L81 351.6 L83.5 352.6 L86.1 351.8 L88.6 351.6 L91.1 352.9 L93.7 354.4 L96.2 354.4 L98.7 354.7 L101.3 355.3 L103.8 356.4 L106.3 359.8 L108.9 363.3 L111.4 365.2 L114 366.6 L116.5 367.4 L119 365.9 L121.6 365.1 L124.1 365.2 L126.6 366.2 L129.2 365.7 L131.7 365.1 L134.2 364.5 L136.8 364 L139.3 363.5 L141.8 362.9 L144.4 363.7 L146.9 364.8 L149.4 364.4 L152 364.7 L154.5 364.5 L157 364.5 L159.6 365.8 L162.1 366.4 L164.7 367.3 L167.2 368.2 L169.7 370.6 L172.3 370.9 L174.8 369.5 L177.3 369.6 L179.9 369.2 L182.4 371 L184.9 373.1 L187.5 373.6 L190 372.4 L192.5 371.2 L195.1 369.9 L197.6 368.5 L200.1 368.6 L202.7 368.2 L205.2 367.4 L207.7 366.4 L210.3 366.1 L212.8 368.4 L215.4 369.8 L217.9 371.3 L220.4 371.9 L223 368.4 L225.5 364 L228 361.5 L230.6 360.5 L233.1 360.5 L235.6 361.4 L238.2 361.3 L240.7 363 L243.2 362.5 L245.8 361.7 L248.3 364 L250.8 365.1 L253.4 364.9 L255.9 367.7 L258.4 369.6 L261 369.6 L263.5 370 L266.1 372.1 L268.6 375.1 L271.1 375.6 L273.7 373.8 L276.2 372.4 L278.7 370 L281.3 366.6 L283.8 363.6 L286.3 364.9 L288.9 366.8 L291.4 366.8 L293.9 366.3 L296.5 364.6 L299 363.7 L301.5 364.1 L304.1 363.3 L306.6 360.1 L309.1 356.9 L311.7 355.1 L314.2 352.6 L316.8 352.9 L319.3 351.1 L321.8 347.7 L324.4 346 L326.9 344.2 L329.4 341.8 L332 339.2 L334.5 337.8 L337 337.9 L339.6 336.8 L342.1 336.4 L344.6 338.2 L347.2 339.6 L349.7 340.7 L352.2 341.1 L354.8 340.4 L357.3 341.3 L359.8 340.2 L362.4 339.2 L364.9 334.8 L367.5 332.2 L370 330.6 L372.5 328.2 L375.1 326.3 L377.6 322.8 L380.1 316.5 L382.7 311.9 L385.2 311.6 L387.7 312.1 L390.3 313.2 L392.8 310.2 L395.3 307.8 L397.9 308.2 L400.4 306.7 L402.9 303.7 L405.5 296.9 L408 293.6 L410.5 294.9 L413.1 293.1 L415.6 287.6 L418.2 282.2 L420.7 278.7 L423.2 277.1 L425.8 273.8 L428.3 266.1 L430.8 262.1 L433.4 261.2 L435.9 258.9 L438.4 255.4 L441 253.3 L443.5 249.2 L446 246.2 L448.6 245.5 L451.1 243.1 L453.6 239 L456.2 234.1 L458.7 229.7 L461.2 226.7 L463.8 222.5 L466.3 219.1 L468.9 214.7 L471.4 210.1 L473.9 203.8 L476.5 204.6 L479 206.2 L481.5 206.2 L484.1 205.1 L486.6 204.1 L489.1 204.9 L491.7 200.7 L494.2 195.3 L496.7 192.8 L499.3 192 L501.8 189.6 L504.3 185.7 L506.9 179.9 L509.4 178.1 L511.9 176.3 L514.5 174.4 L517 174.9 L519.5 170.9 L522.1 166.1 L524.6 161.4 L527.2 160.1 L529.7 159 L532.2 156.3 L534.8 156.5 L537.3 156.3 L539.8 157.8 L542.4 157.7 L544.9 158.5 L547.4 160.1 L550 162.1 L552.5 162.9 L555 161.8 L557.6 160.1 L560.1 153 L562.6 148.9 L565.2 148.1 L567.7 146.1 L570.2 143.8 L572.8 140.6 L575.3 137.1 L577.9 137.4 L580.4 136.4 L582.9 132.4 L585.5 131.4 L588 134.5 L590.5 136.9 L593.1 139.2 L595.6 139.3 L598.1 137.9 L600.7 135.8 L603.2 134.9 L605.7 136.4 L608.3 138.4 L610.8 140.1 L613.3 143.8 L615.9 145.1 L618.4 145.6 L621 143.6 L623.5 142.2 L626 139.2 L628.6 139.3 L631.1 138.3 L633.6 137.9 L636.2 137.5 L638.7 139.8 L641.2 142.6 L643.8 142.2 L646.3 138.7 L648.8 136.1 L651.4 137.4 L653.9 138.7 L656.4 141.2 L659 142.8 L661.5 144.5 L664 146.4 L666.6 146.6 L669.1 150.2 L671.7 156 L674.2 159.8 L676.7 159.1 L679.3 160.8 L681.8 163.7 L684.3 165.2 L686.9 164.2 L689.4 165.1 L691.9 172 L694.5 174.7 L697 175.7 L699.5 174.9 L702.1 174.7 L704.6 176 L707.1 178.7 L709.7 179.4 L712.2 177 L714.7 178.2 L717.3 179 L719.8 176.8 L722.4 175.1 L724.9 174 L727.4 171.5 L730 169.3 L732.5 166.4 L735 167.2 L737.6 169.7 L740.1 170.8 L742.6 168.3 L745.2 168.4 L747.7 171.6 L750.2 175.2 L752.8 178 L755.3 177.9 L757.8 178.1 L760.4 179.2 L762.9 181.5 L765.4 182.4 L768 185.9 L770.5 189.4 L773.1 193.4 L775.6 194.6 L778.1 196.5 L780.7 197 L783.2 199.2 L785.7 199.8 L788.3 201.7 L790.8 204.9 L793.3 209.3 L795.9 214.5 L798.4 216.5 L800.9 217.1 L803.5 221.5 L806 225.3 L808.5 228.8 L811.1 229.7 L813.6 233.7 L816.1 237.2 L818.7 239.1 L821.2 238.9 L823.8 240.2 L826.3 241.3 L828.8 242 L831.4 244.1 L833.9 248.6 L836.4 248.2 L839 247.1 L841.5 244.8 L844 245.2 L846.6 249.6 L849.1 250.1 L851.6 250 L854.2 250.7 L856.7 250.3 L859.2 250.9 L861.8 255.3 L864.3 261.2 L866.8 265.3 L869.4 266.9 L871.9 271.4 L874.5 276.1 L877 279.1 L879.5 281.8 L882.1 285.5 L884.6 288.9 L887.1 292.8 L889.7 292.3 L892.2 289.9 L894.7 288.2 L897.3 290.9 L899.8 296 L902.3 299.2 L904.9 303.6 L907.4 306.8 L909.9 308.8 L912.5 309.9 L915 310.1 L917.5 312.7 L920.1 314.5 L922.6 314.6 L925.2 314.1 L927.7 313.2 L930.2 312.7 L932.8 315.2 L935.3 318.9 L937.8 322.4 L940.4 325.1 L942.9 327.7 L945.4 331.9 L948 335.6 L950.5 336.9 L953 337.9 L955.6 339.3 L958.1 338.9 L960.6 338.8 L963.2 339.3 L965.7 339 L968.2 340 L970.8 342.7 L973.3 345.4 L975.9 347.1 L978.4 348.5 L980.9 349.1 L983.5 348.8 L986 349.6"/>
<path d="M63.2 350.4 L65.8 350.7 L68.3 350.4 L70.9 351.1 L73.4 352.1 L75.9 352.5 L78.5 352.6 L81 352.3 L83.5 354.3 L86.1 357.3 L88.6 357.6 L91.1 357.5 L93.7 358.8 L96.2 359.3 L98.7 359 L101.3 359 L103.8 359.9 L106.3 358.8 L108.9 356.8 L111.4 357.2 L114 358.5 L116.5 358.7 L119 358.2 L121.6 360.1 L124.1 363.4 L126.6 366 L129.2 367.8 L131.7 369.6 L134.2 370.5 L136.8 372 L139.3 373.5 L141.8 374 L144.4 372.8 L146.9 374.9 L149.4 376.8 L152 378.1 L154.5 379.1 L157 379.3 L159.6 379.7 L162.1 378.4 L164.7 378.7 L167.2 379.8 L169.7 379.5 L172.3 378.1 L174.8 375.9 L177.3 374.6 L179.9 374.4 L182.4 372.4 L184.9 371.6 L187.5 370.9 L190 369.6 L192.5 370.6 L195.1 372.6 L197.6 373.3 L200.1 371.9 L202.7 373.5 L205.2 375.5 L207.7 375.3 L210.3 372 L212.8 370.4 L215.4 370.8 L217.9 371 L220.4 368.6 L223 368 L225.5 368.3 L228 367.8 L230.6 365 L233.1 365.2 L235.6 367.1 L238.2 365.7 L240.7 364.7 L243.2 365.4 L245.8 367.8 L248.3 371.5 L250.8 372.6 L253.4 370 L255.9 369.5 L258.4 365.4 L261 359.4 L263.5 355.1 L266.1 352.9 L268.6 350.2 L271.1 348.2 L273.7 349.5 L276.2 350.5 L278.7 353.7 L281.3 357.6 L283.8 358.5 L286.3 358.6 L288.9 358.9 L291.4 358 L293.9 355.4 L296.5 352.9 L299 353 L301.5 355.4 L304.1 355.4 L306.6 354.9 L309.1 354.7 L311.7 354.5 L314.2 352.9 L316.8 352.6 L319.3 350 L321.8 347.9 L324.4 349.2 L326.9 349 L329.4 348.5 L332 349 L334.5 348.6 L337 347.9 L339.6 345.1 L342.1 342.5 L344.6 339.9 L347.2 338.1 L349.7 333.5 L352.2 326.5 L354.8 320.1 L357.3 319.9 L359.8 325.2 L362.4 328.1 L364.9 324.2 L367.5 316 L370 311.3 L372.5 307.5 L375.1 306.9 L377.6 306.2 L380.1 300.6 L382.7 295.8 L385.2 293.3 L387.7 289.8 L390.3 288.8 L392.8 289.6 L395.3 288.1 L397.9 286.6 L400.4 287.9 L402.9 287 L405.5 283.3 L408 283.2 L410.5 282.9 L413.1 281.3 L415.6 276.6 L418.2 271.9 L420.7 268.6 L423.2 266.3 L425.8 266.8 L428.3 271.1 L430.8 272.4 L433.4 270.6 L435.9 264.9 L438.4 260.9 L441 256.6 L443.5 253 L446 254.3 L448.6 257.9 L451.1 253.1 L453.6 246.7 L456.2 248.4 L458.7 245.3 L461.2 239.7 L463.8 238.9 L466.3 238.4 L468.9 238.4 L471.4 239.9 L473.9 243.2 L476.5 248.5 L479 248.8 L481.5 246.3 L484.1 242.4 L486.6 231.1 L489.1 216.7 L491.7 208.3 L494.2 205.9 L496.7 206.5 L499.3 202.3 L501.8 195.7 L504.3 190.6 L506.9 185.1 L509.4 181.7 L511.9 183.9 L514.5 186.7 L517 181.5 L519.5 176.2 L522.1 171.1 L524.6 169.3 L527.2 170.9 L529.7 167.1 L532.2 165.5 L534.8 163.8 L537.3 160.2 L539.8 157.3 L542.4 158.1 L544.9 156.5 L547.4 157.3 L550 157.1 L552.5 156.4 L555 152.7 L557.6 150.6 L560.1 150 L562.6 150.8 L565.2 154.1 L567.7 154 L570.2 153.1 L572.8 154.2 L575.3 153.4 L577.9 151 L580.4 147.6 L582.9 144.9 L585.5 139.5 L588 133.9 L590.5 133.7 L593.1 133.3 L595.6 132.9 L598.1 135 L600.7 136.8 L603.2 138.2 L605.7 136.3 L608.3 133.5 L610.8 133.9 L613.3 136.8 L615.9 141.1 L618.4 146 L621 148.8 L623.5 149.1 L626 149.4 L628.6 144.3 L631.1 139.9 L633.6 139.1 L636.2 139.7 L638.7 137 L641.2 134 L643.8 129.8 L646.3 127.9 L648.8 128 L651.4 130 L653.9 130 L656.4 128.9 L659 126.9 L661.5 124.5 L664 128.8 L666.6 139.3 L669.1 150.3 L671.7 154.9 L674.2 157.3 L676.7 157.8 L679.3 154.4 L681.8 152.1 L684.3 155.2 L686.9 155.6 L689.4 157.9 L691.9 159.9 L694.5 159.9 L697 158 L699.5 157.1 L702.1 160.9 L704.6 160.3 L707.1 161.4 L709.7 164.8 L712.2 165.4 L714.7 165.5 L717.3 166.9 L719.8 168 L722.4 166.1 L724.9 166.6 L727.4 166.9 L730 168.5 L732.5 170.8 L735 174.1 L737.6 169.2 L740.1 163.9 L742.6 162.8 L745.2 161.5 L747.7 162.8 L750.2 164 L752.8 167.6 L755.3 174.8 L757.8 180 L760.4 185 L762.9 192.3 L765.4 200.3 L768 202.1 L770.5 198.9 L773.1 199.4 L775.6 202.6 L778.1 200.9 L780.7 202.1 L783.2 203.9 L785.7 203.5 L788.3 205 L790.8 208.4 L793.3 214.2 L795.9 221.4 L798.4 227.4 L800.9 228.3 L803.5 227.5 L806 230.1 L808.5 233 L811.1 233.8 L813.6 234 L816.1 237.3 L818.7 238.7 L821.2 238.8 L823.8 241.3 L826.3 240.4 L828.8 239.8 L831.4 238.8 L833.9 236.3 L836.4 238.5 L839 241.6 L841.5 244 L844 247.9 L846.6 252.6 L849.1 256.2 L851.6 261.6 L854.2 265.1 L856.7 267.1 L859.2 268 L861.8 269.4 L864.3 269.4 L866.8 266.5 L869.4 265.6 L871.9 265.1 L874.5 268.2 L877 268.6 L879.5 267.8 L882.1 272.8 L884.6 277.7 L887.1 277.5 L889.7 276.3 L892.2 276.4 L894.7 277.5 L897.3 280.1 L899.8 281.2 L902.3 282.2 L904.9 285.6 L907.4 290 L909.9 291.1 L912.5 296.5 L915 302.6 L917.5 306.2 L920.1 306.6 L922.6 308.9 L925.2 308.9 L927.7 307.1 L930.2 307 L932.8 309.5 L935.3 313 L937.8 317.4 L940.4 318.7 L942.9 321.5 L945.4 323.2 L948 324.3 L950.5 327.5 L953 328.4 L955.6 327 L958.1 326.5 L960.6 324.9 L963.2 323.5 L965.7 323.1 L968.2 326.2 L970.8 329.1 L973.3 332.1 L975.9 335.4 L978.4 339.5 L980.9 341.2 L983.5 341.3 L986 340.6"/>
<path d="M63.2 345.1 L65.8 346.2 L68.3 348.7 L70.9 350.2 L73.4 351.3 L75.9 352.9 L78.5 355.2 L81 356.2 L83.5 357.4 L86.1 358.9 L88.6 359.9 L91.1 360.5 L93.7 361.8 L96.2 361.6 L98.7 361.9 L101.3 363 L103.8 363.4 L106.3 364.8 L108.9 366.7 L111.4 368.1 L114 368.4 L116.5 368.7 L119 369.9 L121.6 371.9 L124.1 374.4 L126.6 375.6 L129.2 377.2 L131.7 378.2 L134.2 378 L136.8 378.1 L139.3 377.9 L141.8 378.3 L144.4 377.4 L146.9 376.8 L149.4 377.1 L152 377.6 L154.5 377.5 L157 376.4 L159.6 376.1 L162.1 375.4 L164.7 376.2 L167.2 379.3 L169.7 382.3 L172.3 384 L174.8 382.6 L177.3 382.1 L179.9 383.1 L182.4 382.2 L184.9 380.5 L187.5 381.6 L190 380.2 L192.5 377.2 L195.1 372.7 L197.6 371.1 L200.1 372.2 L202.7 372.4 L205.2 372 L207.7 372.3 L210.3 372.6 L212.8 372.2 L215.4 371.1 L217.9 370.9 L220.4 369.5 L223 370.2 L225.5 372.4 L228 370.5 L230.6 368.9 L233.1 365.8 L235.6 364.1 L238.2 363.7 L240.7 362.7 L243.2 364 L245.8 365.2 L248.3 367.4 L250.8 368.3 L253.4 367.4 L255.9 366.2 L258.4 363.5 L261 361 L263.5 359.3 L266.1 359.1 L268.6 358.9 L271.1 359.6 L273.7 360.3 L276.2 363.4 L278.7 365.2 L281.3 363.5 L283.8 361.6 L286.3 360.7 L288.9 358.9 L291.4 358.1 L293.9 357.5 L296.5 357.1 L299 356.7 L301.5 355.3 L304.1 354 L306.6 352.5 L309.1 350.1 L311.7 348 L314.2 344.7 L316.8 341.3 L319.3 339.9 L321.8 341.1 L324.4 339.9 L326.9 341.5 L329.4 342.7 L332 340.9 L334.5 337.3 L337 334.9 L339.6 336.4 L342.1 336.9 L344.6 335.3 L347.2 332.7 L349.7 328.4 L352.2 324.1 L354.8 320.5 L357.3 319.1 L359.8 316.2 L362.4 315.3 L364.9 317 L367.5 314.3 L370 313.6 L372.5 315.5 L375.1 320.5 L377.6 321.5 L380.1 318.4 L382.7 313.5 L385.2 310.6 L387.7 310.7 L390.3 308.6 L392.8 306 L395.3 306.8 L397.9 304.4 L400.4 297.9 L402.9 292.6 L405.5 292 L408 292.3 L410.5 290.1 L413.1 286.6 L415.6 280.5 L418.2 274.4 L420.7 272.6 L423.2 273.3 L425.8 271.9 L428.3 271.9 L430.8 272.8 L433.4 269.2 L435.9 260.1 L438.4 250.3 L441 245.5 L443.5 244.8 L446 243.9 L448.6 244.4 L451.1 240 L453.6 234.2 L456.2 231 L458.7 232.3 L461.2 232.4 L463.8 230 L466.3 226.8 L468.9 226.1 L471.4 225.5 L473.9 224.1 L476.5 222.4 L479 218.2 L481.5 211.3 L484.1 207 L486.6 205.2 L489.1 202.9 L491.7 202.1 L494.2 201.3 L496.7 199 L499.3 197 L501.8 195.5 L504.3 190.7 L506.9 184.8 L509.4 183.2 L511.9 183.6 L514.5 180.4 L517 176.5 L519.5 173.4 L522.1 171.9 L524.6 168.9 L527.2 167.6 L529.7 167.8 L532.2 168.2 L534.8 168.1 L537.3 166.7 L539.8 165.4 L542.4 165 L544.9 163.4 L547.4 162.9 L550 159.8 L552.5 155.6 L555 156.7 L557.6 157.6 L560.1 155.9 L562.6 153.8 L565.2 150.9 L567.7 149.3 L570.2 149 L572.8 148.8 L575.3 149.1 L577.9 146.4 L580.4 141.1 L582.9 136.2 L585.5 134.6 L588 131.6 L590.5 131.2 L593.1 129.8 L595.6 123 L598.1 118.4 L600.7 117.8 L603.2 119 L605.7 119.7 L608.3 120 L610.8 119.6 L613.3 122.2 L615.9 124 L618.4 122.9 L621 122.9 L623.5 122.5 L626 123.8 L628.6 125.6 L631.1 127.2 L633.6 131.1 L636.2 129.5 L638.7 128.1 L641.2 126.9 L643.8 126.5 L646.3 128.2 L648.8 129.4 L651.4 130.9 L653.9 135 L656.4 139.6 L659 142.6 L661.5 141.4 L664 141.2 L666.6 144.4 L669.1 148 L671.7 148.6 L674.2 151.2 L676.7 151.1 L679.3 148.2 L681.8 150 L684.3 156.2 L686.9 161.2 L689.4 161.4 L691.9 165.7 L694.5 170.9 L697 172.6 L699.5 173.7 L702.1 174.9 L704.6 178.7 L707.1 180.4 L709.7 181.4 L712.2 181.8 L714.7 178.2 L717.3 178.3 L719.8 179 L722.4 176.8 L724.9 176.8 L727.4 182.9 L730 184.9 L732.5 184.5 L735 184.9 L737.6 188.3 L740.1 191.4 L742.6 195.2 L745.2 194.2 L747.7 191.7 L750.2 191.7 L752.8 192.6 L755.3 189.8 L757.8 184.9 L760.4 184.3 L762.9 186 L765.4 186.4 L768 187.5 L770.5 187.9 L773.1 189.4 L775.6 192.8 L778.1 194.3 L780.7 195.6 L783.2 197.1 L785.7 200.6 L788.3 204.5 L790.8 206.7 L793.3 209.4 L795.9 211.6 L798.4 212.6 L800.9 216.1 L803.5 218 L806 216.7 L808.5 219.4 L811.1 222.1 L813.6 224.2 L816.1 229.4 L818.7 235.4 L821.2 235.4 L823.8 232.2 L826.3 232.3 L828.8 235.4 L831.4 239.5 L833.9 244.6 L836.4 248.1 L839 250.4 L841.5 249.4 L844 250.1 L846.6 251.8 L849.1 253.2 L851.6 256.8 L854.2 260 L856.7 262.3 L859.2 265.1 L861.8 266.6 L864.3 267.6 L866.8 271.2 L869.4 277.1 L871.9 279.2 L874.5 280.9 L877 282.8 L879.5 286.6 L882.1 288.8 L884.6 291.3 L887.1 294 L889.7 297.1 L892.2 299.3 L894.7 301.5 L897.3 303.1 L899.8 305.1 L902.3 306.3 L904.9 310.4 L907.4 313.3 L909.9 314.3 L912.5 315.2 L915 316.3 L917.5 315.7 L920.1 316.1 L922.6 316 L925.2 317.4 L927.7 319.6 L930.2 321.9 L932.8 326.4 L935.3 329.1 L937.8 330.3 L940.4 332.7 L942.9 336.1 L945.4 337.5 L948 339 L950.5 339.8 L953 340.5 L955.6 338.3 L958.1 337.4 L960.6 337.9 L963.2 337.1 L965.7 337.1 L968.2 338.5 L970.8 339.2 L973.3 340.7 L975.9 341.9 L978.4 344.2 L980.9 348.5 L983.5 351.3 L986 352.7"/>
<path d="M63.2 348.6 L65.8 349.3 L68.3 346.9 L70.9 344.1 L73.4 344 L75.9 346.4 L78.5 347.8 L81 348.8 L83.5 350.9 L86.1 352.4 L88.6 354.3 L91.1 354.4 L93.7 355.1 L96.2 356.1 L98.7 355.5 L101.3 354.7 L103.8 354 L106.3 356.5 L108.9 358.4 L111.4 359.3 L114 361.2 L116.5 362.8 L119 363.9 L121.6 365.4 L124.1 366.9 L126.6 369.1 L129.2 368.7 L131.7 368.1 L134.2 370.3 L136.8 372.2 L139.3 373.7 L141.8 375.7 L144.4 377.7 L146.9 379.2 L149.4 380.5 L152 381 L154.5 380 L157 380.1 L159.6 379.9 L162.1 380.1 L164.7 380.2 L167.2 381.4 L169.7 383.1 L172.3 382.7 L174.8 382.9 L177.3 383.5 L179.9 380.4 L182.4 377.3 L184.9 377.8 L187.5 379.1 L190 380.1 L192.5 380.9 L195.1 379.7 L197.6 377.7 L200.1 376.6 L202.7 377 L205.2 377.4 L207.7 377.4 L210.3 378.8 L212.8 380.4 L215.4 379 L217.9 378.3 L220.4 379.3 L223 379 L225.5 378.4 L228 379.1 L230.6 380 L233.1 383.1 L235.6 386.1 L238.2 386.8 L240.7 383.4 L243.2 379.8 L245.8 377.7 L248.3 378.6 L250.8 381 L253.4 381.8 L255.9 379.8 L258.4 377.7 L261 377.4 L263.5 377.7 L266.1 375.8 L268.6 372.8 L271.1 369.4 L273.7 368.7 L276.2 368.6 L278.7 367.9 L281.3 366.2 L283.8 365.2 L286.3 364.1 L288.9 364 L291.4 365.4 L293.9 361.2 L296.5 355.8 L299 354.3 L301.5 354 L304.1 351.7 L306.6 347.6 L309.1 347.4 L311.7 343 L314.2 339.2 L316.8 337.2 L319.3 337.1 L321.8 338.6 L324.4 339.2 L326.9 338.9 L329.4 338.3 L332 336.9 L334.5 336.4 L337 331 L339.6 325.4 L342.1 325 L344.6 324.4 L347.2 324.6 L349.7 324 L352.2 322.1 L354.8 321.2 L357.3 321.2 L359.8 320.4 L362.4 320.5 L364.9 318.9 L367.5 315.4 L370 310.4 L372.5 305.8 L375.1 300.6 L377.6 297.1 L380.1 296.2 L382.7 295.3 L385.2 296.5 L387.7 294.6 L390.3 288.4 L392.8 285.2 L395.3 278.7 L397.9 272.5 L400.4 267.5 L402.9 264.4 L405.5 263.4 L408 263.7 L410.5 260.9 L413.1 254.1 L415.6 251.5 L418.2 251.1 L420.7 249.2 L423.2 244.8 L425.8 245 L428.3 242.1 L430.8 238.8 L433.4 237.4 L435.9 234.2 L438.4 233.8 L441 235.1 L443.5 237.1 L446 237 L448.6 236.9 L451.1 236.3 L453.6 234.5 L456.2 232.2 L458.7 234.5 L461.2 234.6 L463.8 230.8 L466.3 225.2 L468.9 221.5 L471.4 216.6 L473.9 214 L476.5 212 L479 208.8 L481.5 204.3 L484.1 201.1 L486.6 196.5 L489.1 188.1 L491.7 181.8 L494.2 180.3 L496.7 180.3 L499.3 176.7 L501.8 176.6 L504.3 180.1 L506.9 180.7 L509.4 179.1 L511.9 175.3 L514.5 169.2 L517 165.7 L519.5 161.6 L522.1 157.6 L524.6 159.4 L527.2 163.3 L529.7 163.9 L532.2 162.1 L534.8 158 L537.3 158.1 L539.8 155.4 L542.4 151.5 L544.9 151.8 L547.4 152.9 L550 155.8 L552.5 159.8 L555 161.4 L557.6 161.8 L560.1 162.9 L562.6 165.1 L565.2 162.9 L567.7 156.8 L570.2 149.8 L572.8 145.3 L575.3 145 L577.9 144 L580.4 145.1 L582.9 145 L585.5 145.1 L588 145 L590.5 144.8 L593.1 144.4 L595.6 142 L598.1 143.1 L600.7 141.5 L603.2 139.4 L605.7 136.9 L608.3 134.4 L610.8 134 L613.3 134.6 L615.9 132 L618.4 126.7 L621 124.7 L623.5 128 L626 130.1 L628.6 128.4 L631.1 124.6 L633.6 121.6 L636.2 117.1 L638.7 113.3 L641.2 113.5 L643.8 114.5 L646.3 122.9 L648.8 126.1 L651.4 127.6 L653.9 132 L656.4 139.9 L659 144 L661.5 142.7 L664 140.1 L666.6 137.8 L669.1 136.5 L671.7 135.9 L674.2 137.8 L676.7 139.5 L679.3 137.3 L681.8 133.7 L684.3 138.1 L686.9 144.9 L689.4 150.6 L691.9 157 L694.5 160.7 L697 158.8 L699.5 157.2 L702.1 154.6 L704.6 151.9 L707.1 154.5 L709.7 159.2 L712.2 160 L714.7 157.3 L717.3 159 L719.8 165.2 L722.4 169.1 L724.9 167.2 L727.4 167.6 L730 171.1 L732.5 171.9 L735 172.2 L737.6 176.6 L740.1 183.1 L742.6 189.4 L745.2 194.5 L747.7 195.2 L750.2 193.6 L752.8 190.2 L755.3 191.8 L757.8 196.7 L760.4 196.5 L762.9 192.6 L765.4 189.6 L768 191.6 L770.5 195 L773.1 196 L775.6 195.9 L778.1 194 L780.7 193 L783.2 192.5 L785.7 196.9 L788.3 202.2 L790.8 204.4 L793.3 205.5 L795.9 205.4 L798.4 206 L800.9 207.2 L803.5 210.7 L806 210 L808.5 208.7 L811.1 207 L813.6 210.2 L816.1 212.5 L818.7 214.2 L821.2 216.3 L823.8 219.7 L826.3 221.3 L828.8 220.9 L831.4 220.3 L833.9 221.2 L836.4 225.3 L839 227.2 L841.5 231 L844 233.8 L846.6 236.9 L849.1 239.5 L851.6 243 L854.2 243.7 L856.7 247.5 L859.2 250.2 L861.8 250.6 L864.3 253.5 L866.8 257.5 L869.4 257.4 L871.9 257.8 L874.5 257.1 L877 256.7 L879.5 259.6 L882.1 263.2 L884.6 267.2 L887.1 271 L889.7 276.8 L892.2 280.9 L894.7 281.4 L897.3 284.7 L899.8 285.6 L902.3 286.6 L904.9 288 L907.4 288.7 L909.9 290.7 L912.5 290 L915 288.1 L917.5 288.3 L920.1 292 L922.6 296.3 L925.2 301.7 L927.7 304.6 L930.2 306.9 L932.8 307.1 L935.3 310.8 L937.8 315.2 L940.4 317.8 L942.9 320.2 L945.4 325.4 L948 327.9 L950.5 327.4 L953 327.6 L955.6 326.1 L958.1 326.2 L960.6 329.2 L963.2 330.2 L965.7 331 L968.2 331.8 L970.8 334.1 L973.3 336.5 L975.9 340.1 L978.4 342.6 L980.9 344.1 L983.5 344.1 L986 345.5"/>
<path d="M63.2 340.7 L65.8 341.4 L68.3 342.3 L70.9 344.2 L73.4 345.2 L75.9 346.5 L78.5 347.2 L81 347.6 L83.5 349.2 L86.1 351.7 L88.6 353.7 L91.1 352.8 L93.7 353.4 L96.2 353.7 L98.7 354.2 L101.3 355 L103.8 356.2 L106.3 355.6 L108.9 357.1 L111.4 358.9 L114 360.1 L116.5 360.4 L119 360.9 L121.6 363 L124.1 364 L126.6 364.6 L129.2 365.4 L131.7 365.1 L134.2 365.9 L136.8 366.6 L139.3 367.3 L141.8 368.4 L144.4 368.9 L146.9 370.7 L149.4 372.1 L152 374 L154.5 375.4 L157 377.6 L159.6 378.4 L162.1 378.4 L164.7 377.6 L167.2 377.6 L169.7 377.4 L172.3 378.4 L174.8 379.7 L177.3 381 L179.9 382.3 L182.4 383.9 L184.9 384.9 L187.5 386.8 L190 387.2 L192.5 388 L195.1 388.7 L197.6 389.3 L200.1 389.7 L202.7 390 L205.2 389 L207.7 386.6 L210.3 385.5 L212.8 385.4 L215.4 383.5 L217.9 382.6 L220.4 381.8 L223 380.9 L225.5 382.8 L228 384.7 L230.6 385 L233.1 385.8 L235.6 385.5 L238.2 384.2 L240.7 383.9 L243.2 383.9 L245.8 383.5 L248.3 383.6 L250.8 385.4 L253.4 386.3 L255.9 385.4 L258.4 383.3 L261 383.5 L263.5 383.7 L266.1 382.5 L268.6 383.3 L271.1 383.8 L273.7 383.2 L276.2 382.3 L278.7 381.4 L281.3 381.2 L283.8 380.6 L286.3 380.6 L288.9 378.9 L291.4 376.8 L293.9 375.7 L296.5 374 L299 372.8 L301.5 373.1 L304.1 374 L306.6 374.5 L309.1 374.8 L311.7 374.8 L314.2 373.8 L316.8 373.2 L319.3 369.6 L321.8 367.6 L324.4 367.8 L326.9 367.5 L329.4 366.8 L332 366.1 L334.5 364.1 L337 360 L339.6 358.9 L342.1 358.5 L344.6 357.2 L347.2 355.8 L349.7 350.6 L352.2 346.1 L354.8 341.6 L357.3 341.1 L359.8 341.5 L362.4 340.5 L364.9 339.9 L367.5 338.6 L370 336.1 L372.5 334.7 L375.1 334.3 L377.6 333.6 L380.1 332.2 L382.7 329.2 L385.2 326.6 L387.7 320.2 L390.3 316.6 L392.8 316.2 L395.3 313 L397.9 310.3 L400.4 311.5 L402.9 309.9 L405.5 303.8 L408 296.7 L410.5 294.1 L413.1 291.2 L415.6 287.6 L418.2 287.3 L420.7 288.2 L423.2 288 L425.8 288.7 L428.3 286.8 L430.8 285.9 L433.4 282.5 L435.9 277.3 L438.4 275.2 L441 271.8 L443.5 267.2 L446 267 L448.6 268.9 L451.1 267.2 L453.6 265.6 L456.2 266.3 L458.7 264.7 L461.2 260.6 L463.8 256.7 L466.3 251.3 L468.9 246.5 L471.4 244.9 L473.9 244.8 L476.5 243.8 L479 237.7 L481.5 229.1 L484.1 225.8 L486.6 221.9 L489.1 214.5 L491.7 202.8 L494.2 194.7 L496.7 191 L499.3 187.7 L501.8 183.7 L504.3 184.4 L506.9 184.2 L509.4 181.5 L511.9 176.6 L514.5 172.8 L517 167.6 L519.5 161.6 L522.1 157.5 L524.6 157.1 L527.2 156.3 L529.7 153.6 L532.2 152.2 L534.8 151 L537.3 147.7 L539.8 147.1 L542.4 147.6 L544.9 144.4 L547.4 143 L550 144.2 L552.5 143.1 L555 144.3 L557.6 145.4 L560.1 142.7 L562.6 139.9 L565.2 136.9 L567.7 133 L570.2 129.9 L572.8 128.1 L575.3 128.2 L577.9 128.2 L580.4 127.8 L582.9 123 L585.5 117 L588 114.9 L590.5 113.2 L593.1 111.6 L595.6 111.5 L598.1 110.5 L600.7 109.2 L603.2 110.2 L605.7 113.3 L608.3 113.9 L610.8 112.1 L613.3 111.8 L615.9 117 L618.4 119.7 L621 122.3 L623.5 124.8 L626 126.8 L628.6 129.8 L631.1 133.2 L633.6 132.5 L636.2 130.8 L638.7 129.3 L641.2 127.9 L643.8 126.1 L646.3 125.9 L648.8 126.7 L651.4 129.1 L653.9 129 L656.4 133.6 L659 140.5 L661.5 145.7 L664 150.7 L666.6 152.6 L669.1 154.5 L671.7 158.3 L674.2 163.8 L676.7 165.4 L679.3 164.6 L681.8 164.1 L684.3 162.5 L686.9 162.7 L689.4 167.2 L691.9 171.3 L694.5 173.1 L697 171.4 L699.5 170.1 L702.1 168.8 L704.6 170.2 L707.1 174.2 L709.7 177.8 L712.2 181.4 L714.7 182.5 L717.3 181.8 L719.8 180.7 L722.4 180.1 L724.9 181.7 L727.4 184.5 L730 189.9 L732.5 195.1 L735 197.1 L737.6 197.6 L740.1 199.1 L742.6 200.4 L745.2 200.9 L747.7 202.9 L750.2 203.6 L752.8 205.3 L755.3 207.4 L757.8 209.3 L760.4 210.1 L762.9 210.4 L765.4 211.9 L768 214.1 L770.5 216.2 L773.1 216.1 L775.6 214.5 L778.1 214.1 L780.7 216 L783.2 217.1 L785.7 217.4 L788.3 220.7 L790.8 225 L793.3 226 L795.9 228.7 L798.4 229.5 L800.9 229 L803.5 231.3 L806 234.1 L808.5 233.2 L811.1 229.8 L813.6 226.5 L816.1 226.1 L818.7 228.6 L821.2 233 L823.8 237.6 L826.3 238 L828.8 239 L831.4 243.1 L833.9 246.6 L836.4 247.3 L839 245.3 L841.5 244.6 L844 243.8 L846.6 243.9 L849.1 247.5 L851.6 249.1 L854.2 252.4 L856.7 256.2 L859.2 257.5 L861.8 257.7 L864.3 260.3 L866.8 260.7 L869.4 259.6 L871.9 256 L874.5 258.6 L877 262.5 L879.5 265.9 L882.1 269.5 L884.6 272.1 L887.1 272.3 L889.7 276.1 L892.2 279 L894.7 281 L897.3 284 L899.8 286.5 L902.3 288.9 L904.9 291.8 L907.4 294.5 L909.9 296.1 L912.5 296 L915 299.5 L917.5 299.5 L920.1 298.9 L922.6 297.4 L925.2 296.8 L927.7 297.1 L930.2 300.2 L932.8 304.1 L935.3 305.1 L937.8 306.1 L940.4 307.6 L942.9 312.6 L945.4 317.4 L948 321.3 L950.5 322 L953 325 L955.6 328.7 L958.1 328.4 L960.6 328.9 L963.2 332.9 L965.7 336.4 L968.2 338 L970.8 338.1 L973.3 338.9 L975.9 339.8 L978.4 339.4 L980.9 340.5 L983.5 343.1 L986 344.5"/>
<path d="M63.2 351 L65.8 351.3 L68.3 353.5 L70.9 356.1 L73.4 356.7 L75.9 355.6 L78.5 355.2 L81 356.7 L83.5 357.8 L86.1 358.3 L88.6 358.2 L91.1 358.8 L93.7 361.1 L96.2 361.6 L98.7 360.3 L101.3 359.8 L103.8 360.5 L106.3 362.2 L108.9 363.4 L111.4 362.3 L114 362.6 L116.5 365.2 L119 365.9 L121.6 363.4 L124.1 362.1 L126.6 362.7 L129.2 363.4 L131.7 362.9 L134.2 362.1 L136.8 362.9 L139.3 364 L141.8 364.9 L144.4 364.9 L146.9 366.4 L149.4 369.5 L152 369.3 L154.5 368.3 L157 368.8 L159.6 369 L162.1 368.4 L164.7 367.5 L167.2 367.2 L169.7 367.8 L172.3 368 L174.8 368.3 L177.3 371.2 L179.9 371.7 L182.4 372 L184.9 372.5 L187.5 374.4 L190 375.8 L192.5 375.9 L195.1 375.9 L197.6 376.2 L200.1 374.7 L202.7 373.4 L205.2 373.3 L207.7 373.4 L210.3 373.6 L212.8 372 L215.4 370.7 L217.9 370.9 L220.4 373 L223 374.2 L225.5 373.8 L228 372 L230.6 371.2 L233.1 371 L235.6 372 L238.2 373.9 L240.7 375.9 L243.2 377.3 L245.8 377.5 L248.3 378.2 L250.8 378.2 L253.4 378.7 L255.9 378.9 L258.4 378.3 L261 376.5 L263.5 375 L266.1 375.3 L268.6 373.6 L271.1 373.2 L273.7 373.7 L276.2 373.4 L278.7 375.5 L281.3 375 L283.8 373.9 L286.3 370.6 L288.9 368.5 L291.4 369.1 L293.9 368.5 L296.5 365.9 L299 365.2 L301.5 366.1 L304.1 366.5 L306.6 366.2 L309.1 366.1 L311.7 367.3 L314.2 368 L316.8 365.2 L319.3 358.7 L321.8 354.9 L324.4 353.2 L326.9 350.4 L329.4 347.4 L332 348.1 L334.5 348 L337 347 L339.6 345.6 L342.1 344.2 L344.6 342.1 L347.2 340.4 L349.7 340.3 L352.2 339.7 L354.8 337.4 L357.3 335.2 L359.8 331.4 L362.4 326.7 L364.9 322.1 L367.5 317.2 L370 313.3 L372.5 310.5 L375.1 310.2 L377.6 307.8 L380.1 305.3 L382.7 302.8 L385.2 301.1 L387.7 294.8 L390.3 294.1 L392.8 292.4 L395.3 289.3 L397.9 289.1 L400.4 288 L402.9 285.2 L405.5 282.8 L408 276.9 L410.5 274.5 L413.1 271.1 L415.6 266.3 L418.2 262.8 L420.7 261.9 L423.2 262.3 L425.8 260.2 L428.3 255.8 L430.8 254.9 L433.4 255.6 L435.9 251.3 L438.4 246.5 L441 243.8 L443.5 241.7 L446 241.4 L448.6 237.9 L451.1 235 L453.6 234.8 L456.2 231 L458.7 230.2 L461.2 229.1 L463.8 225.5 L466.3 219.8 L468.9 216.5 L471.4 219 L473.9 217.1 L476.5 213.5 L479 212.5 L481.5 210.9 L484.1 209.4 L486.6 203.3 L489.1 196.5 L491.7 191.3 L494.2 188.5 L496.7 189.5 L499.3 191.7 L501.8 191.3 L504.3 186.7 L506.9 182.6 L509.4 180.8 L511.9 179.1 L514.5 177 L517 177.5 L519.5 173.6 L522.1 168.9 L524.6 167.8 L527.2 165.6 L529.7 159.8 L532.2 154.6 L534.8 152.2 L537.3 152 L539.8 152.1 L542.4 152.2 L544.9 150 L547.4 147.3 L550 148.7 L552.5 153.1 L555 151.5 L557.6 148.4 L560.1 147.1 L562.6 145.5 L565.2 145 L567.7 147.1 L570.2 148.4 L572.8 151.8 L575.3 152.8 L577.9 152 L580.4 149.8 L582.9 150 L585.5 152 L588 151.2 L590.5 151.4 L593.1 152.3 L595.6 152.8 L598.1 152.9 L600.7 150.7 L603.2 148.4 L605.7 147.2 L608.3 147.7 L610.8 150.5 L613.3 152.8 L615.9 153 L618.4 152.3 L621 152.5 L623.5 149.4 L626 149.1 L628.6 147.4 L631.1 146.2 L633.6 146.8 L636.2 149.6 L638.7 150.3 L641.2 149.9 L643.8 147.1 L646.3 145.8 L648.8 146.7 L651.4 141.6 L653.9 136.1 L656.4 136.1 L659 136 L661.5 141 L664 144.5 L666.6 146.5 L669.1 152.5 L671.7 154.9 L674.2 153.3 L676.7 151.7 L679.3 150.9 L681.8 152.2 L684.3 156.5 L686.9 158.7 L689.4 158.4 L691.9 152.4 L694.5 150.3 L697 152.6 L699.5 153 L702.1 154.2 L704.6 155.1 L707.1 156.9 L709.7 158.1 L712.2 155.9 L714.7 153.3 L717.3 153.4 L719.8 155 L722.4 155.8 L724.9 156.1 L727.4 158.2 L730 159.9 L732.5 159.5 L735 159.4 L737.6 160.6 L740.1 164.6 L742.6 169 L745.2 172 L747.7 173.4 L750.2 175.1 L752.8 173.9 L755.3 174.7 L757.8 177.7 L760.4 179.7 L762.9 181 L765.4 183.3 L768 182.3 L770.5 185.1 L773.1 189.6 L775.6 195.9 L778.1 199 L780.7 197.8 L783.2 196.8 L785.7 196.4 L788.3 198.6 L790.8 201.6 L793.3 202.2 L795.9 198.4 L798.4 197 L800.9 196.8 L803.5 198.6 L806 199.2 L808.5 201 L811.1 204.1 L813.6 206.9 L816.1 208.4 L818.7 210.9 L821.2 214.9 L823.8 216.3 L826.3 219.2 L828.8 219.3 L831.4 219.1 L833.9 219.3 L836.4 220.5 L839 220 L841.5 219.5 L844 222.1 L846.6 225.1 L849.1 230.1 L851.6 234.1 L854.2 238.4 L856.7 241.9 L859.2 246.6 L861.8 250.3 L864.3 254.6 L866.8 258.7 L869.4 261.6 L871.9 261.8 L874.5 263.4 L877 264.9 L879.5 266.8 L882.1 268.7 L884.6 271.8 L887.1 273.1 L889.7 273.9 L892.2 277.4 L894.7 280.3 L897.3 282 L899.8 279.7 L902.3 278.7 L904.9 277.3 L907.4 274.9 L909.9 274.4 L912.5 275.2 L915 277 L917.5 280.7 L920.1 286 L922.6 289.4 L925.2 292.1 L927.7 294.8 L930.2 298.6 L932.8 300.9 L935.3 303.9 L937.8 306.1 L940.4 310.8 L942.9 314.4 L945.4 318.6 L948 321.4 L950.5 322.5 L953 326.2 L955.6 328.6 L958.1 331.9 L960.6 332.5 L963.2 333.2 L965.7 332.3 L968.2 331.2 L970.8 332.8 L973.3 337 L975.9 344.2 L978.4 348.8 L980.9 349.7 L983.5 350.9 L986 351.2"/>
<path d="M63.2 349.5 L65.8 348 L68.3 347.3 L70.9 348.9 L73.4 351.8 L75.9 353.2 L78.5 351.9 L81 349.6 L83.5 348.2 L86.1 348.1 L88.6 346.9 L91.1 348 L93.7 349.2 L96.2 349.3 L98.7 349.4 L101.3 350.4 L103.8 353.1 L106.3 356.7 L108.9 358.8 L111.4 359.7 L114 359.2 L116.5 359.3 L119 361.3 L121.6 361.8 L124.1 363.4 L126.6 365.8 L129.2 364.5 L131.7 364.1 L134.2 365.3 L136.8 365.9 L139.3 363.9 L141.8 362.3 L144.4 358.8 L146.9 358.2 L149.4 360.2 L152 361.1 L154.5 360.3 L157 360 L159.6 361.4 L162.1 363.2 L164.7 362.1 L167.2 359.7 L169.7 358.2 L172.3 358.9 L174.8 361 L177.3 362.1 L179.9 363.3 L182.4 364.3 L184.9 364.5 L187.5 366.8 L190 370.1 L192.5 370.1 L195.1 371.3 L197.6 372.2 L200.1 370.3 L202.7 369 L205.2 369.2 L207.7 367.7 L210.3 366.5 L212.8 365.4 L215.4 363.5 L217.9 362.2 L220.4 360.8 L223 361.3 L225.5 361 L228 359.3 L230.6 360.1 L233.1 363 L235.6 365.5 L238.2 367.1 L240.7 366.9 L243.2 363.4 L245.8 357.2 L248.3 354 L250.8 354.1 L253.4 357.2 L255.9 360.2 L258.4 360.6 L261 358.3 L263.5 358.7 L266.1 359.8 L268.6 356.3 L271.1 354.3 L273.7 353 L276.2 351 L278.7 350.1 L281.3 350.5 L283.8 353.7 L286.3 357.2 L288.9 357.5 L291.4 355 L293.9 353.2 L296.5 351.5 L299 353.1 L301.5 349.3 L304.1 347.7 L306.6 346.3 L309.1 342.3 L311.7 342.5 L314.2 346.1 L316.8 347 L319.3 349.3 L321.8 349.7 L324.4 348.4 L326.9 343.4 L329.4 337.5 L332 331.5 L334.5 329.5 L337 330.3 L339.6 330.3 L342.1 329.7 L344.6 329.6 L347.2 329.7 L349.7 330.8 L352.2 331.7 L354.8 333.8 L357.3 332.5 L359.8 327 L362.4 320.3 L364.9 316.2 L367.5 314 L370 310.9 L372.5 307.4 L375.1 305.9 L377.6 308.5 L380.1 311.6 L382.7 311.1 L385.2 305 L387.7 296.6 L390.3 289.3 L392.8 283.5 L395.3 279.1 L397.9 277.6 L400.4 271.6 L402.9 269 L405.5 268.6 L408 267.7 L410.5 266.1 L413.1 265.9 L415.6 264.3 L418.2 260.3 L420.7 257.8 L423.2 259.7 L425.8 260.2 L428.3 263 L430.8 263.4 L433.4 257.9 L435.9 253.4 L438.4 255.5 L441 254 L443.5 248 L446 245 L448.6 243.6 L451.1 238.7 L453.6 233.1 L456.2 225.1 L458.7 213 L461.2 203.4 L463.8 204.3 L466.3 206 L468.9 206.7 L471.4 209.9 L473.9 210 L476.5 211.8 L479 214.3 L481.5 215.6 L484.1 212.5 L486.6 213.9 L489.1 217.1 L491.7 216.6 L494.2 216 L496.7 212.9 L499.3 213.2 L501.8 210.3 L504.3 204.2 L506.9 197.5 L509.4 194.8 L511.9 194.3 L514.5 190.9 L517 188 L519.5 186.8 L522.1 187 L524.6 188.4 L527.2 189.9 L529.7 188.2 L532.2 186 L534.8 181.2 L537.3 175.6 L539.8 168.7 L542.4 158.3 L544.9 150 L547.4 145.9 L550 146.3 L552.5 150 L555 150.1 L557.6 150 L560.1 147.7 L562.6 143.5 L565.2 142.7 L567.7 143.2 L570.2 147.2 L572.8 155.3 L575.3 158.8 L577.9 158.1 L580.4 156.7 L582.9 153.6 L585.5 151.3 L588 151.2 L590.5 149 L593.1 146.6 L595.6 146.1 L598.1 146.4 L600.7 141.7 L603.2 138 L605.7 135.9 L608.3 133.5 L610.8 133.8 L613.3 134.8 L615.9 135.6 L618.4 136.8 L621 135 L623.5 133.8 L626 134.2 L628.6 134.6 L631.1 139.5 L633.6 140.4 L636.2 135.7 L638.7 131.3 L641.2 128 L643.8 126.7 L646.3 127.5 L648.8 128.4 L651.4 128.5 L653.9 127 L656.4 128.8 L659 132.2 L661.5 136.8 L664 141.5 L666.6 137.8 L669.1 133.6 L671.7 132.5 L674.2 133.7 L676.7 133.6 L679.3 137.7 L681.8 137.2 L684.3 135.6 L686.9 139.7 L689.4 143.6 L691.9 147.3 L694.5 151.6 L697 154.4 L699.5 153.8 L702.1 148.9 L704.6 145.4 L707.1 148.7 L709.7 149.9 L712.2 150.8 L714.7 152.9 L717.3 158.6 L719.8 167.5 L722.4 173.2 L724.9 172.9 L727.4 174.4 L730 173.5 L732.5 174.1 L735 175.8 L737.6 178.5 L740.1 178.2 L742.6 177.1 L745.2 178.9 L747.7 178.2 L750.2 179.8 L752.8 184.1 L755.3 187.9 L757.8 188.5 L760.4 188.9 L762.9 192 L765.4 193.9 L768 197.2 L770.5 199 L773.1 200.2 L775.6 201.2 L778.1 201.2 L780.7 201.3 L783.2 203.3 L785.7 204.8 L788.3 206.8 L790.8 206 L793.3 205.7 L795.9 207.5 L798.4 209 L800.9 207.2 L803.5 210 L806 207.6 L808.5 204.9 L811.1 206.2 L813.6 210.2 L816.1 218 L818.7 219.9 L821.2 223.3 L823.8 229.8 L826.3 236.5 L828.8 243 L831.4 245.1 L833.9 248.7 L836.4 250.7 L839 250.3 L841.5 249.1 L844 248.6 L846.6 249.9 L849.1 251.9 L851.6 255.5 L854.2 260.1 L856.7 264.3 L859.2 267.2 L861.8 269.8 L864.3 269.4 L866.8 268.3 L869.4 270.4 L871.9 271.9 L874.5 271.6 L877 271.2 L879.5 269.4 L882.1 269.5 L884.6 269.9 L887.1 270.6 L889.7 269.9 L892.2 271.7 L894.7 274.8 L897.3 276.7 L899.8 278 L902.3 278.1 L904.9 278.6 L907.4 277.6 L909.9 278.2 L912.5 278.5 L915 280.6 L917.5 281.5 L920.1 283.6 L922.6 284.4 L925.2 286.2 L927.7 288.9 L930.2 292.8 L932.8 295.2 L935.3 297.5 L937.8 299.7 L940.4 301.2 L942.9 300.4 L945.4 299.7 L948 300.9 L950.5 302.8 L953 303.6 L955.6 305.1 L958.1 306.3 L960.6 307.7 L963.2 310 L965.7 313.3 L968.2 318.7 L970.8 321.1 L973.3 323.5 L975.9 326.8 L978.4 328.5 L980.9 329.3 L983.5 330.1 L986 331"/>
<path d="M63.2 352.9 L65.8 353.5 L68.3 354.4 L70.9 356.4 L73.4 357.7 L75.9 358.8 L78.5 360.1 L81 361.2 L83.5 362 L86.1 361.9 L88.6 359.9 L91.1 359.2 L93.7 359.6 L96.2 359.9 L98.7 359.6 L101.3 362.4 L103.8 365 L106.3 365.8 L108.9 366.7 L111.4 367.9 L114 367.7 L116.5 366.3 L119 365.7 L121.6 367.2 L124.1 368.1 L126.6 368.5 L129.2 370.4 L131.7 372 L134.2 373.8 L136.8 374.7 L139.3 375.3 L141.8 375.3 L144.4 374.1 L146.9 372.4 L149.4 372.2 L152 371.5 L154.5 371.9 L157 371.7 L159.6 371.2 L162.1 371.6 L164.7 372.2 L167.2 371.8 L169.7 373.1 L172.3 374.7 L174.8 375.1 L177.3 375.2 L179.9 374 L182.4 374.5 L184.9 374.2 L187.5 372.8 L190 371.9 L192.5 371.5 L195.1 372 L197.6 371.9 L200.1 374.2 L202.7 377.5 L205.2 377.9 L207.7 376.9 L210.3 377 L212.8 375.3 L215.4 374.1 L217.9 373.2 L220.4 371.5 L223 373.1 L225.5 375.7 L228 374.2 L230.6 373.1 L233.1 370.4 L235.6 367.2 L238.2 364 L240.7 362.9 L243.2 361.8 L245.8 361.7 L248.3 359.2 L250.8 357.1 L253.4 355.6 L255.9 353.8 L258.4 354.6 L261 356.9 L263.5 356.2 L266.1 355.7 L268.6 355.1 L271.1 354.2 L273.7 355.9 L276.2 360.3 L278.7 363.6 L281.3 365.4 L283.8 366.2 L286.3 364.8 L288.9 363 L291.4 363.6 L293.9 364.2 L296.5 365.9 L299 366.8 L301.5 364 L304.1 362.4 L306.6 359.8 L309.1 357.7 L311.7 357.6 L314.2 355.5 L316.8 349.6 L319.3 345.1 L321.8 343 L324.4 341.5 L326.9 338.6 L329.4 336 L332 335.2 L334.5 335.4 L337 335.6 L339.6 333.5 L342.1 331.9 L344.6 328.9 L347.2 324.9 L349.7 321.9 L352.2 323.6 L354.8 322.7 L357.3 320.2 L359.8 319.1 L362.4 314.9 L364.9 311 L367.5 307.5 L370 307.8 L372.5 310.4 L375.1 309.5 L377.6 307.9 L380.1 308 L382.7 306 L385.2 302.4 L387.7 298.8 L390.3 295.5 L392.8 293.1 L395.3 291.2 L397.9 286.7 L400.4 282.7 L402.9 281.6 L405.5 283.4 L408 282.9 L410.5 279.6 L413.1 278.4 L415.6 272.9 L418.2 268.1 L420.7 264.6 L423.2 267 L425.8 270.5 L428.3 273.8 L430.8 274.1 L433.4 269.7 L435.9 262.8 L438.4 256 L441 256.1 L443.5 260.2 L446 260.1 L448.6 258.8 L451.1 257.5 L453.6 255.7 L456.2 256.4 L458.7 255.3 L461.2 251.8 L463.8 249.8 L466.3 247.6 L468.9 247.4 L471.4 245.7 L473.9 246.2 L476.5 243.8 L479 238.4 L481.5 232.3 L484.1 231.3 L486.6 228.9 L489.1 226.4 L491.7 221.8 L494.2 221.2 L496.7 220.3 L499.3 219.1 L501.8 217.7 L504.3 211.3 L506.9 206.4 L509.4 202.9 L511.9 200 L514.5 200.7 L517 202.7 L519.5 203.4 L522.1 203 L524.6 199.4 L527.2 194.3 L529.7 189.7 L532.2 189 L534.8 187.2 L537.3 183.3 L539.8 180.3 L542.4 178.8 L544.9 177.1 L547.4 175.9 L550 176.9 L552.5 177.3 L555 178 L557.6 175.8 L560.1 174.8 L562.6 171.3 L565.2 167.5 L567.7 163.3 L570.2 157.7 L572.8 153.8 L575.3 150.8 L577.9 150.2 L580.4 144.2 L582.9 136 L585.5 130.8 L588 128.5 L590.5 130.3 L593.1 133.4 L595.6 132 L598.1 129 L600.7 127.8 L603.2 125.4 L605.7 122.7 L608.3 121 L610.8 120.4 L613.3 121 L615.9 119.2 L618.4 120.3 L621 122.1 L623.5 120.5 L626 117.5 L628.6 119.3 L631.1 123.3 L633.6 125.2 L636.2 127.6 L638.7 126.2 L641.2 121.8 L643.8 118.9 L646.3 119.1 L648.8 118.6 L651.4 116.1 L653.9 115.1 L656.4 117.2 L659 119.1 L661.5 119.7 L664 122.2 L666.6 129.7 L669.1 139.9 L671.7 145.6 L674.2 150.1 L676.7 151.6 L679.3 153.7 L681.8 160.1 L684.3 164 L686.9 168.7 L689.4 171.4 L691.9 171.9 L694.5 171.2 L697 174 L699.5 175.9 L702.1 175.8 L704.6 174.8 L707.1 175.1 L709.7 171.6 L712.2 168.5 L714.7 169.3 L717.3 171.5 L719.8 174.3 L722.4 177.8 L724.9 180.1 L727.4 180.8 L730 181.6 L732.5 181.6 L735 181.8 L737.6 182.2 L740.1 183.7 L742.6 183.8 L745.2 181.7 L747.7 176.9 L750.2 175 L752.8 178.5 L755.3 184.6 L757.8 190.3 L760.4 192.2 L762.9 192.2 L765.4 187.5 L768 190.8 L770.5 197.1 L773.1 200.9 L775.6 205.1 L778.1 207.9 L780.7 211.6 L783.2 212.6 L785.7 210.5 L788.3 208.7 L790.8 210.7 L793.3 211.8 L795.9 212.4 L798.4 216.4 L800.9 226.1 L803.5 232.4 L806 236.1 L808.5 240.1 L811.1 243.1 L813.6 245.6 L816.1 248 L818.7 250.2 L821.2 252.7 L823.8 255.3 L826.3 255.5 L828.8 252.6 L831.4 250.8 L833.9 250.6 L836.4 250.3 L839 249.3 L841.5 248.9 L844 252.5 L846.6 254 L849.1 258.7 L851.6 264.1 L854.2 263 L856.7 262.3 L859.2 263 L861.8 264.9 L864.3 265.2 L866.8 264.1 L869.4 265 L871.9 267.6 L874.5 269.4 L877 270.4 L879.5 272.7 L882.1 275.2 L884.6 277.3 L887.1 279.8 L889.7 282.2 L892.2 284.5 L894.7 285 L897.3 287.5 L899.8 289.2 L902.3 290.3 L904.9 292.6 L907.4 294.3 L909.9 293.8 L912.5 295.7 L915 299.2 L917.5 305.4 L920.1 310.1 L922.6 313.3 L925.2 312.9 L927.7 313.1 L930.2 313 L932.8 312.5 L935.3 311 L937.8 310.9 L940.4 310.7 L942.9 312.1 L945.4 313.7 L948 315.1 L950.5 316.8 L953 320.3 L955.6 324.2 L958.1 327.3 L960.6 329.2 L963.2 330.1 L965.7 330 L968.2 329.4 L970.8 328.3 L973.3 329.1 L975.9 333 L978.4 336.5 L980.9 338.3 L983.5 337.8 L986 337.8"/>
<path d="M63.2 333.5 L65.8 333.4 L68.3 333.4 L70.9 334.2 L73.4 335 L75.9 335.2 L78.5 335.6 L81 336.3 L83.5 337.2 L86.1 338.7 L88.6 339.9 L91.1 341.2 L93.7 342.7 L96.2 344.5 L98.7 346.3 L101.3 347.9 L103.8 348.3 L106.3 348.5 L108.9 347.9 L111.4 348.1 L114 349.1 L116.5 348.4 L119 349.1 L121.6 349.6 L124.1 350.3 L126.6 351.1 L129.2 351.7 L131.7 352.2 L134.2 352.8 L136.8 353.4 L139.3 354 L141.8 354.8 L144.4 355 L146.9 355.3 L149.4 355.6 L152 355.9 L154.5 356.3 L157 357.1 L159.6 359.2 L162.1 360.3 L164.7 361.8 L167.2 364.7 L169.7 366.5 L172.3 366.4 L174.8 366.6 L177.3 367.7 L179.9 369.5 L182.4 371.3 L184.9 372.8 L187.5 372.9 L190 372.7 L192.5 373.2 L195.1 373.8 L197.6 373.9 L200.1 371.6 L202.7 371.8 L205.2 372.4 L207.7 370.4 L210.3 368.8 L212.8 367.4 L215.4 365.1 L217.9 365.5 L220.4 366 L223 366.9 L225.5 369.1 L228 370.3 L230.6 370.9 L233.1 372.4 L235.6 373.3 L238.2 372.3 L240.7 369.7 L243.2 367 L245.8 367 L248.3 368.6 L250.8 369.2 L253.4 370.3 L255.9 371.6 L258.4 373.2 L261 374 L263.5 373.3 L266.1 370 L268.6 367.3 L271.1 365.8 L273.7 363.1 L276.2 360.7 L278.7 358.8 L281.3 358.7 L283.8 357.9 L286.3 358.2 L288.9 357.9 L291.4 358 L293.9 356.3 L296.5 353.6 L299 351.8 L301.5 348.3 L304.1 349.7 L306.6 353.1 L309.1 353.1 L311.7 351.6 L314.2 350.1 L316.8 347.6 L319.3 345 L321.8 343.5 L324.4 345.4 L326.9 344.6 L329.4 341.3 L332 337.4 L334.5 330.9 L337 326.7 L339.6 323.9 L342.1 320.9 L344.6 318.3 L347.2 316.5 L349.7 316.1 L352.2 316.6 L354.8 319.4 L357.3 321.4 L359.8 320.3 L362.4 320 L364.9 318.2 L367.5 313.7 L370 306.1 L372.5 300 L375.1 296.8 L377.6 295.4 L380.1 292.3 L382.7 293.2 L385.2 295.2 L387.7 292.4 L390.3 285.1 L392.8 280.8 L395.3 277.4 L397.9 273.7 L400.4 271.7 L402.9 270.1 L405.5 268.4 L408 269.7 L410.5 270.7 L413.1 268.4 L415.6 267.3 L418.2 259.5 L420.7 250.1 L423.2 246.6 L425.8 245 L428.3 238.9 L430.8 234 L433.4 231.1 L435.9 227.3 L438.4 223.5 L441 220.1 L443.5 218.2 L446 216.2 L448.6 214.1 L451.1 215 L453.6 217.4 L456.2 215.2 L458.7 213.1 L461.2 211.7 L463.8 207.1 L466.3 203.4 L468.9 201.1 L471.4 202.7 L473.9 199.4 L476.5 198.3 L479 193 L481.5 188 L484.1 181 L486.6 177.5 L489.1 175.9 L491.7 177.9 L494.2 179.8 L496.7 179 L499.3 177.3 L501.8 177.6 L504.3 175.7 L506.9 174.5 L509.4 177.6 L511.9 173.6 L514.5 165.2 L517 161 L519.5 161 L522.1 159 L524.6 158.5 L527.2 160.1 L529.7 159.3 L532.2 159 L534.8 154.8 L537.3 154.5 L539.8 153.1 L542.4 152.7 L544.9 153 L547.4 152.7 L550 153.1 L552.5 150.3 L555 147.3 L557.6 147.1 L560.1 145 L562.6 145.5 L565.2 148.9 L567.7 147.6 L570.2 141 L572.8 137.5 L575.3 133.8 L577.9 130.7 L580.4 127 L582.9 126 L585.5 121.3 L588 116.2 L590.5 112.4 L593.1 111.8 L595.6 109.7 L598.1 108.7 L600.7 108.3 L603.2 108.2 L605.7 110.2 L608.3 111.5 L610.8 111.4 L613.3 110 L615.9 106.5 L618.4 105.6 L621 106.3 L623.5 105.9 L626 105 L628.6 104.6 L631.1 103.8 L633.6 103.9 L636.2 104.3 L638.7 106.2 L641.2 104.7 L643.8 104.2 L646.3 107 L648.8 107.6 L651.4 109.7 L653.9 114.6 L656.4 118.3 L659 118.6 L661.5 119.3 L664 118.6 L666.6 117.4 L669.1 121.1 L671.7 124.8 L674.2 124.9 L676.7 123.4 L679.3 121.1 L681.8 120.5 L684.3 124.1 L686.9 128.6 L689.4 130.9 L691.9 134.1 L694.5 138.8 L697 142.1 L699.5 143.5 L702.1 148.2 L704.6 152.1 L707.1 150.1 L709.7 147.5 L712.2 146.5 L714.7 149 L717.3 153 L719.8 157.4 L722.4 160.6 L724.9 164 L727.4 163.4 L730 157.2 L732.5 158.5 L735 159.7 L737.6 161.1 L740.1 165.2 L742.6 166 L745.2 166 L747.7 166.7 L750.2 166.4 L752.8 169.1 L755.3 171.7 L757.8 173.1 L760.4 178.1 L762.9 181.7 L765.4 183.9 L768 186.2 L770.5 186.4 L773.1 186.9 L775.6 190.8 L778.1 192.4 L780.7 195 L783.2 196 L785.7 194.2 L788.3 196.6 L790.8 197.5 L793.3 196.2 L795.9 198.2 L798.4 199.2 L800.9 198.7 L803.5 196 L806 195.3 L808.5 196.7 L811.1 197.2 L813.6 201.7 L816.1 207.5 L818.7 211.4 L821.2 215.2 L823.8 217.4 L826.3 219 L828.8 217.9 L831.4 216.9 L833.9 222.5 L836.4 225.3 L839 224.2 L841.5 224.4 L844 230.2 L846.6 237 L849.1 239.7 L851.6 243.4 L854.2 247.5 L856.7 252.4 L859.2 258.4 L861.8 259.1 L864.3 261 L866.8 261.7 L869.4 266.2 L871.9 270.5 L874.5 275.4 L877 278.6 L879.5 281.3 L882.1 277.5 L884.6 275.9 L887.1 276.6 L889.7 276.9 L892.2 280.4 L894.7 284.8 L897.3 290.8 L899.8 292.3 L902.3 291.4 L904.9 292.5 L907.4 296 L909.9 302.5 L912.5 309.9 L915 313.8 L917.5 315.5 L920.1 316.4 L922.6 316.2 L925.2 316 L927.7 317.8 L930.2 319.6 L932.8 320.1 L935.3 320.7 L937.8 323.1 L940.4 324.4 L942.9 324.7 L945.4 324.3 L948 325.9 L950.5 330.4 L953 329.3 L955.6 330.5 L958.1 333 L960.6 335.3 L963.2 338 L965.7 338.6 L968.2 340.4 L970.8 341.1 L973.3 343.1 L975.9 345.9 L978.4 347.9 L980.9 350.2 L983.5 350.4 L986 348.9"/>
<path d="M63.2 353.6 L65.8 354.2 L68.3 356 L70.9 357 L73.4 358.5 L75.9 360 L78.5 361.2 L81 362 L83.5 362.7 L86.1 362.7 L88.6 360.4 L91.1 359.2 L93.7 359.7 L96.2 358.3 L98.7 358.1 L101.3 359 L103.8 359.6 L106.3 360.1 L108.9 362.1 L111.4 363.7 L114 364.5 L116.5 364.8 L119 366.3 L121.6 368.4 L124.1 368.2 L126.6 366.3 L129.2 364.3 L131.7 363 L134.2 361.9 L136.8 361.6 L139.3 361.1 L141.8 362.1 L144.4 361.9 L146.9 363.4 L149.4 365.1 L152 366.3 L154.5 366.7 L157 366.6 L159.6 367.1 L162.1 368.7 L164.7 371.2 L167.2 370 L169.7 368 L172.3 367.5 L174.8 369.2 L177.3 370.5 L179.9 369 L182.4 368.4 L184.9 370 L187.5 371.4 L190 373 L192.5 372.8 L195.1 372.2 L197.6 372 L200.1 371.5 L202.7 371.6 L205.2 372.8 L207.7 371.5 L210.3 369.7 L212.8 369.6 L215.4 369.9 L217.9 372.9 L220.4 374.1 L223 374.2 L225.5 374 L228 373.9 L230.6 373 L233.1 371.6 L235.6 371 L238.2 369.1 L240.7 366.8 L243.2 364.5 L245.8 364.5 L248.3 362.6 L250.8 359.6 L253.4 360.5 L255.9 363 L258.4 364.7 L261 365.1 L263.5 364.9 L266.1 362.8 L268.6 358.6 L271.1 354.3 L273.7 351.8 L276.2 351.2 L278.7 353.3 L281.3 354.5 L283.8 355 L286.3 352.5 L288.9 351.6 L291.4 350.3 L293.9 349.1 L296.5 348.1 L299 347.3 L301.5 344.7 L304.1 340.6 L306.6 335.5 L309.1 334 L311.7 333.1 L314.2 333 L316.8 334.9 L319.3 334 L321.8 333.5 L324.4 333.9 L326.9 334.4 L329.4 336.3 L332 337.9 L334.5 338.3 L337 337.1 L339.6 335.2 L342.1 331.1 L344.6 328.3 L347.2 324.7 L349.7 322.3 L352.2 321.8 L354.8 321.1 L357.3 318.6 L359.8 316.8 L362.4 317.5 L364.9 320.2 L367.5 322.7 L370 322.5 L372.5 317.6 L375.1 314.4 L377.6 315.4 L380.1 317.7 L382.7 318.2 L385.2 317.2 L387.7 315.7 L390.3 313.9 L392.8 307.1 L395.3 301.4 L397.9 299.7 L400.4 299 L402.9 296.9 L405.5 294.8 L408 294.6 L410.5 293.5 L413.1 294.6 L415.6 291.6 L418.2 284.7 L420.7 274.5 L423.2 270.9 L425.8 267.8 L428.3 266.8 L430.8 270.2 L433.4 276 L435.9 274.1 L438.4 270.8 L441 267.9 L443.5 260.1 L446 253.3 L448.6 250.7 L451.1 247.5 L453.6 244 L456.2 238.8 L458.7 238 L461.2 238.5 L463.8 239.7 L466.3 237.3 L468.9 235.1 L471.4 237.3 L473.9 236.2 L476.5 230 L479 226.1 L481.5 224.5 L484.1 219.6 L486.6 215.1 L489.1 211.3 L491.7 207 L494.2 203.8 L496.7 200.2 L499.3 197.7 L501.8 197.2 L504.3 199 L506.9 193.5 L509.4 185.1 L511.9 180.7 L514.5 176.4 L517 174 L519.5 174 L522.1 174.7 L524.6 173.7 L527.2 171.9 L529.7 169.5 L532.2 173.1 L534.8 177.4 L537.3 178.6 L539.8 179.6 L542.4 177.6 L544.9 177.1 L547.4 173.5 L550 166.6 L552.5 162 L555 156 L557.6 153 L560.1 150.3 L562.6 147 L565.2 142.9 L567.7 140.4 L570.2 136.6 L572.8 133.2 L575.3 131.8 L577.9 131.5 L580.4 127 L582.9 121.6 L585.5 116.4 L588 114 L590.5 116.4 L593.1 118.9 L595.6 118.1 L598.1 114.1 L600.7 111.4 L603.2 107.5 L605.7 106.1 L608.3 106.2 L610.8 110 L613.3 114.3 L615.9 115.7 L618.4 114.6 L621 113.7 L623.5 112.2 L626 112.1 L628.6 111.9 L631.1 111.7 L633.6 111.7 L636.2 112.2 L638.7 113 L641.2 112.6 L643.8 111.8 L646.3 112.4 L648.8 116.5 L651.4 119 L653.9 118.5 L656.4 116.6 L659 116.2 L661.5 118.9 L664 121.2 L666.6 122.3 L669.1 122.7 L671.7 127.7 L674.2 132.1 L676.7 134.5 L679.3 130.8 L681.8 128.5 L684.3 130 L686.9 133.3 L689.4 135.8 L691.9 137.6 L694.5 140.8 L697 142.6 L699.5 145.2 L702.1 146.8 L704.6 144.4 L707.1 142.9 L709.7 145.6 L712.2 147.4 L714.7 149 L717.3 150.9 L719.8 151.9 L722.4 154.8 L724.9 154.4 L727.4 156.7 L730 160.4 L732.5 162.5 L735 160.6 L737.6 157 L740.1 156.8 L742.6 159.4 L745.2 164.4 L747.7 168.2 L750.2 170.3 L752.8 173.5 L755.3 176.1 L757.8 181.8 L760.4 186.4 L762.9 188.1 L765.4 188 L768 190.9 L770.5 194.7 L773.1 193.6 L775.6 192 L778.1 193.9 L780.7 195.6 L783.2 198.2 L785.7 200.2 L788.3 201.8 L790.8 203.7 L793.3 207.1 L795.9 211.1 L798.4 214.9 L800.9 216.6 L803.5 216.5 L806 216.1 L808.5 216.7 L811.1 218.4 L813.6 224.8 L816.1 226.1 L818.7 226.5 L821.2 231.2 L823.8 237.7 L826.3 243.1 L828.8 244.6 L831.4 245.8 L833.9 248.9 L836.4 251.5 L839 254.5 L841.5 254.9 L844 255.5 L846.6 258.4 L849.1 259.9 L851.6 263.3 L854.2 268.4 L856.7 269.8 L859.2 272.1 L861.8 275.7 L864.3 274.7 L866.8 274.3 L869.4 276.7 L871.9 276.8 L874.5 274.4 L877 275.3 L879.5 277.8 L882.1 280.6 L884.6 280.2 L887.1 280.4 L889.7 280.7 L892.2 282.8 L894.7 283.8 L897.3 285.6 L899.8 289.2 L902.3 290.8 L904.9 290.2 L907.4 288.5 L909.9 290.5 L912.5 293.7 L915 295.3 L917.5 297.4 L920.1 301.4 L922.6 304.8 L925.2 308.3 L927.7 310.3 L930.2 311.8 L932.8 314.9 L935.3 315.8 L937.8 316.4 L940.4 318.7 L942.9 320.3 L945.4 318.1 L948 316.8 L950.5 316.4 L953 316.3 L955.6 318.8 L958.1 320.8 L960.6 319.9 L963.2 317.9 L965.7 318.9 L968.2 321.2 L970.8 323.5 L973.3 324.6 L975.9 326.4 L978.4 328.4 L980.9 330.2 L983.5 333.1 L986 335.2"/>
<path d="M63.2 341.6 L65.8 342.9 L68.3 345.2 L70.9 346.1 L73.4 345.8 L75.9 346.5 L78.5 348.9 L81 350.1 L83.5 349.9 L86.1 350.4 L88.6 352.4 L91.1 354.1 L93.7 355.5 L96.2 357 L98.7 356.4 L101.3 352.8 L103.8 353.4 L106.3 356.3 L108.9 358.6 L111.4 360.4 L114 363.2 L116.5 365.9 L119 368.2 L121.6 369.1 L124.1 368.6 L126.6 369.2 L129.2 369.2 L131.7 369.2 L134.2 368.6 L136.8 367.6 L139.3 366.8 L141.8 367.3 L144.4 367.4 L146.9 367.7 L149.4 367.6 L152 369.1 L154.5 370.1 L157 369.9 L159.6 372.3 L162.1 372.2 L164.7 372.6 L167.2 373.7 L169.7 374 L172.3 376 L174.8 376.6 L177.3 376.1 L179.9 378 L182.4 380.8 L184.9 381.6 L187.5 382.4 L190 382.6 L192.5 382.8 L195.1 382.6 L197.6 380.4 L200.1 378.9 L202.7 377.8 L205.2 376.5 L207.7 376.2 L210.3 375.4 L212.8 375.1 L215.4 375.2 L217.9 375.2 L220.4 375.2 L223 376.2 L225.5 376.2 L228 377.2 L230.6 378.7 L233.1 377.2 L235.6 375 L238.2 372.3 L240.7 371.3 L243.2 370.1 L245.8 368.8 L248.3 371.1 L250.8 373.8 L253.4 375 L255.9 376.2 L258.4 375.2 L261 374.4 L263.5 373.6 L266.1 371.4 L268.6 370.7 L271.1 369.1 L273.7 367.1 L276.2 368.2 L278.7 367.1 L281.3 364.1 L283.8 364.2 L286.3 363 L288.9 362.8 L291.4 364.6 L293.9 367 L296.5 367.2 L299 365.1 L301.5 363.1 L304.1 362.1 L306.6 360.7 L309.1 356.3 L311.7 353.9 L314.2 354.3 L316.8 354.5 L319.3 351.7 L321.8 347.2 L324.4 344.7 L326.9 345.7 L329.4 346.3 L332 347.2 L334.5 347.8 L337 348.1 L339.6 344.9 L342.1 338 L344.6 336.2 L347.2 338.2 L349.7 338.1 L352.2 335.9 L354.8 334.2 L357.3 331.8 L359.8 327.1 L362.4 323.6 L364.9 324.7 L367.5 323.2 L370 318.6 L372.5 317.4 L375.1 320.5 L377.6 321.5 L380.1 320.5 L382.7 316.9 L385.2 311.3 L387.7 308 L390.3 300.4 L392.8 293.2 L395.3 287.8 L397.9 285.4 L400.4 284.8 L402.9 281.5 L405.5 278.8 L408 279 L410.5 276.1 L413.1 273.9 L415.6 276.6 L418.2 275.3 L420.7 269.6 L423.2 267.7 L425.8 264.1 L428.3 258.6 L430.8 255.7 L433.4 252.3 L435.9 247 L438.4 241.3 L441 238 L443.5 237.8 L446 236.6 L448.6 231.3 L451.1 230.4 L453.6 232.7 L456.2 234.3 L458.7 235.7 L461.2 238.3 L463.8 240.4 L466.3 235.7 L468.9 228.5 L471.4 225.6 L473.9 225.3 L476.5 224.3 L479 221.1 L481.5 218.4 L484.1 219.1 L486.6 216.5 L489.1 215 L491.7 212.2 L494.2 207.5 L496.7 200 L499.3 192.4 L501.8 184.3 L504.3 181.3 L506.9 182.3 L509.4 185.9 L511.9 183.1 L514.5 180.6 L517 184.5 L519.5 188.1 L522.1 186.4 L524.6 183.7 L527.2 177.2 L529.7 173.9 L532.2 176 L534.8 174.9 L537.3 171 L539.8 167.9 L542.4 164.8 L544.9 163.5 L547.4 161.8 L550 157.6 L552.5 154.5 L555 153.1 L557.6 151.2 L560.1 149.8 L562.6 151 L565.2 152.1 L567.7 154.8 L570.2 158.4 L572.8 162.5 L575.3 164.9 L577.9 167.9 L580.4 165.8 L582.9 159.2 L585.5 152.1 L588 150.1 L590.5 150 L593.1 150.6 L595.6 149.2 L598.1 145.9 L600.7 146 L603.2 145 L605.7 139.8 L608.3 132.1 L610.8 125.8 L613.3 122.3 L615.9 123.8 L618.4 122.7 L621 121.2 L623.5 120.2 L626 121 L628.6 119.6 L631.1 119.9 L633.6 120.8 L636.2 122.4 L638.7 124.4 L641.2 123.8 L643.8 124.1 L646.3 123.3 L648.8 123.6 L651.4 129.1 L653.9 135.9 L656.4 136.4 L659 137.8 L661.5 138.1 L664 138.5 L666.6 139.5 L669.1 141.6 L671.7 143.5 L674.2 141.1 L676.7 138.6 L679.3 138.1 L681.8 136.2 L684.3 137 L686.9 139.7 L689.4 139.2 L691.9 138.3 L694.5 137.5 L697 137 L699.5 135.5 L702.1 133.8 L704.6 134.4 L707.1 134.2 L709.7 131.9 L712.2 133.6 L714.7 139.3 L717.3 141.1 L719.8 143.5 L722.4 149.6 L724.9 155.1 L727.4 158.4 L730 163 L732.5 164.9 L735 168.6 L737.6 169 L740.1 170.5 L742.6 172.7 L745.2 174.6 L747.7 176.4 L750.2 178.4 L752.8 181.2 L755.3 185.6 L757.8 185.1 L760.4 181.5 L762.9 179.6 L765.4 174.6 L768 172.5 L770.5 173 L773.1 176.2 L775.6 181.6 L778.1 186.1 L780.7 188.5 L783.2 192.3 L785.7 198.7 L788.3 203.1 L790.8 202.8 L793.3 199 L795.9 193.7 L798.4 194.5 L800.9 195.6 L803.5 202.5 L806 206.2 L808.5 209.2 L811.1 212.4 L813.6 213.4 L816.1 215.4 L818.7 220.1 L821.2 225.6 L823.8 228.1 L826.3 228.7 L828.8 231.4 L831.4 232.6 L833.9 233.5 L836.4 237 L839 238.8 L841.5 241.7 L844 240.7 L846.6 239 L849.1 239.9 L851.6 244.1 L854.2 248.7 L856.7 250 L859.2 253.7 L861.8 259.1 L864.3 263.3 L866.8 267 L869.4 268 L871.9 268.2 L874.5 266.7 L877 265.3 L879.5 268.6 L882.1 273.2 L884.6 275.4 L887.1 275.6 L889.7 276 L892.2 279.7 L894.7 283.8 L897.3 284.5 L899.8 287.9 L902.3 290.4 L904.9 293 L907.4 292.6 L909.9 293.3 L912.5 293.8 L915 292.7 L917.5 292.6 L920.1 293.2 L922.6 293.7 L925.2 294 L927.7 293.3 L930.2 291.1 L932.8 290.9 L935.3 292.2 L937.8 294.3 L940.4 298.1 L942.9 304 L945.4 307.6 L948 311.2 L950.5 313.8 L953 315.7 L955.6 315.1 L958.1 319.2 L960.6 324.5 L963.2 328 L965.7 329 L968.2 330.3 L970.8 331.6 L973.3 333.2 L975.9 335.1 L978.4 337 L980.9 337.8 L983.5 340.3 L986 341.8"/>
<path d="M63.2 342.1 L65.8 342 L68.3 340.8 L70.9 339.9 L73.4 340.5 L75.9 340.3 L78.5 342 L81 343.5 L83.5 345.6 L86.1 346.7 L88.6 347.4 L91.1 348.6 L93.7 350.8 L96.2 352.4 L98.7 352.2 L101.3 353.4 L103.8 354.1 L106.3 353.9 L108.9 353.8 L111.4 354.9 L114 355.5 L116.5 355.4 L119 354.9 L121.6 353.8 L124.1 352.7 L126.6 351.8 L129.2 351.7 L131.7 352.1 L134.2 353 L136.8 353.3 L139.3 353.6 L141.8 354.2 L144.4 354.6 L146.9 358.2 L149.4 361.8 L152 363 L154.5 364.6 L157 366.2 L159.6 365.9 L162.1 364.5 L164.7 363.8 L167.2 365.1 L169.7 366.1 L172.3 366.3 L174.8 365.3 L177.3 365.2 L179.9 364.9 L182.4 366.7 L184.9 368.8 L187.5 371.9 L190 372.4 L192.5 370.3 L195.1 370.6 L197.6 371.8 L200.1 370.4 L202.7 368.8 L205.2 370.7 L207.7 372 L210.3 369.8 L212.8 368.3 L215.4 366.1 L217.9 364.7 L220.4 365.5 L223 363.2 L225.5 358.6 L228 358.6 L230.6 359.5 L233.1 358.4 L235.6 356.9 L238.2 357.7 L240.7 360.2 L243.2 360.3 L245.8 356.4 L248.3 353.7 L250.8 353.7 L253.4 354.2 L255.9 353.1 L258.4 353.7 L261 354.1 L263.5 354 L266.1 353.9 L268.6 356.5 L271.1 357.9 L273.7 359.4 L276.2 359.1 L278.7 355.4 L281.3 353.2 L283.8 353.7 L286.3 355.9 L288.9 358.3 L291.4 360.3 L293.9 359.3 L296.5 355.2 L299 352.9 L301.5 350.7 L304.1 352.3 L306.6 352.1 L309.1 352.3 L311.7 349.1 L314.2 345.4 L316.8 343.7 L319.3 339.5 L321.8 334.6 L324.4 332.7 L326.9 333.2 L329.4 333.6 L332 333.2 L334.5 332.9 L337 332.7 L339.6 329.8 L342.1 329.2 L344.6 333.3 L347.2 332.5 L349.7 331 L352.2 333.7 L354.8 333.5 L357.3 328.7 L359.8 324.9 L362.4 321.1 L364.9 318.8 L367.5 316.7 L370 318.6 L372.5 319.6 L375.1 319.1 L377.6 315.8 L380.1 312.1 L382.7 308.4 L385.2 308 L387.7 305.4 L390.3 298.6 L392.8 292.3 L395.3 288.1 L397.9 288.1 L400.4 288.1 L402.9 286.4 L405.5 284.3 L408 284.2 L410.5 284 L413.1 280.6 L415.6 276.1 L418.2 271.3 L420.7 264 L423.2 257 L425.8 250.9 L428.3 247.9 L430.8 245.8 L433.4 245 L435.9 244.2 L438.4 242.6 L441 244.8 L443.5 245.1 L446 243.6 L448.6 242.7 L451.1 246 L453.6 245 L456.2 242.8 L458.7 243.2 L461.2 242.8 L463.8 243.5 L466.3 241.2 L468.9 237.2 L471.4 234 L473.9 227.5 L476.5 222.7 L479 220.2 L481.5 217.2 L484.1 214.3 L486.6 213.2 L489.1 213.6 L491.7 211.9 L494.2 209 L496.7 205.5 L499.3 200.7 L501.8 195.3 L504.3 188.3 L506.9 185 L509.4 185.4 L511.9 183.8 L514.5 178.9 L517 178 L519.5 180.7 L522.1 183.9 L524.6 180.7 L527.2 178.7 L529.7 180.6 L532.2 181.7 L534.8 179.4 L537.3 177.9 L539.8 174.3 L542.4 168.4 L544.9 163.1 L547.4 157.4 L550 152.4 L552.5 153.4 L555 152.7 L557.6 150.6 L560.1 148.2 L562.6 152.4 L565.2 157.6 L567.7 160.1 L570.2 160.3 L572.8 154.2 L575.3 149.8 L577.9 152.1 L580.4 155.7 L582.9 155.7 L585.5 151.9 L588 147.2 L590.5 139.7 L593.1 139.4 L595.6 139.1 L598.1 136.2 L600.7 132.1 L603.2 132.2 L605.7 138.4 L608.3 139.7 L610.8 138 L613.3 136.6 L615.9 129.7 L618.4 126.9 L621 127.5 L623.5 127.5 L626 128.3 L628.6 133 L631.1 136.7 L633.6 140.6 L636.2 143.1 L638.7 149 L641.2 153.5 L643.8 152.9 L646.3 152.3 L648.8 152.4 L651.4 147 L653.9 141.2 L656.4 137.3 L659 131.5 L661.5 131.7 L664 137.6 L666.6 141.1 L669.1 138.8 L671.7 133.9 L674.2 131.8 L676.7 138.7 L679.3 142.6 L681.8 145.2 L684.3 151.4 L686.9 152.9 L689.4 151.9 L691.9 151 L694.5 150.3 L697 150.4 L699.5 150.9 L702.1 147 L704.6 146.2 L707.1 147.7 L709.7 149.5 L712.2 156.2 L714.7 164.5 L717.3 168.7 L719.8 168 L722.4 169.7 L724.9 175.5 L727.4 179.2 L730 181.7 L732.5 181.4 L735 180.4 L737.6 178.2 L740.1 179.2 L742.6 183.8 L745.2 186 L747.7 187.3 L750.2 187.6 L752.8 188.7 L755.3 186.4 L757.8 181.7 L760.4 180.3 L762.9 182 L765.4 180.1 L768 178.5 L770.5 180 L773.1 180.7 L775.6 183.5 L778.1 185.2 L780.7 185.8 L783.2 187.9 L785.7 191.6 L788.3 194.1 L790.8 195.4 L793.3 201 L795.9 205.5 L798.4 208.1 L800.9 208.3 L803.5 212.4 L806 215 L808.5 220.3 L811.1 224.3 L813.6 227.3 L816.1 228.1 L818.7 226.4 L821.2 227.9 L823.8 233.7 L826.3 237.1 L828.8 242.3 L831.4 247.2 L833.9 249.2 L836.4 251.3 L839 253.5 L841.5 254.2 L844 255.3 L846.6 259.4 L849.1 263.2 L851.6 260.5 L854.2 257.8 L856.7 259.6 L859.2 262.6 L861.8 266.3 L864.3 267.5 L866.8 268.3 L869.4 267.8 L871.9 271.4 L874.5 274.8 L877 277.3 L879.5 280.3 L882.1 280.5 L884.6 281.1 L887.1 281.6 L889.7 284.3 L892.2 289.3 L894.7 294.1 L897.3 296 L899.8 296.1 L902.3 296.2 L904.9 294.9 L907.4 292.9 L909.9 294.7 L912.5 302 L915 306.3 L917.5 309.8 L920.1 313.4 L922.6 317.9 L925.2 320.4 L927.7 322.8 L930.2 324.7 L932.8 324.1 L935.3 323.6 L937.8 323.4 L940.4 324.3 L942.9 327.4 L945.4 327.5 L948 324.3 L950.5 323 L953 325.8 L955.6 328.7 L958.1 329.5 L960.6 330.5 L963.2 331.1 L965.7 330 L968.2 328.5 L970.8 330.4 L973.3 333 L975.9 334 L978.4 334.3 L980.9 334.6 L983.5 334 L986 334.4"/>
<path d="M63.2 351.1 L65.8 352.1 L68.3 352.3 L70.9 351.8 L73.4 352.2 L75.9 353.2 L78.5 352.2 L81 351.3 L83.5 351.6 L86.1 352.9 L88.6 356.3 L91.1 359.2 L93.7 360.1 L96.2 360.9 L98.7 361.1 L101.3 360.7 L103.8 360.9 L106.3 361.1 L108.9 361.5 L111.4 361.5 L114 361.9 L116.5 363 L119 363 L121.6 361.7 L124.1 361.2 L126.6 361.4 L129.2 363.5 L131.7 363.1 L134.2 363 L136.8 363.4 L139.3 364.2 L141.8 365 L144.4 365 L146.9 364.6 L149.4 362.9 L152 363.6 L154.5 365.7 L157 366.9 L159.6 367 L162.1 365.3 L164.7 363.8 L167.2 363.2 L169.7 362.6 L172.3 361.3 L174.8 360.1 L177.3 358.9 L179.9 358.3 L182.4 358.4 L184.9 359.4 L187.5 360.8 L190 359.9 L192.5 359.4 L195.1 359.6 L197.6 360.1 L200.1 361.8 L202.7 362.8 L205.2 365 L207.7 365.5 L210.3 365 L212.8 364.2 L215.4 361.3 L217.9 358.8 L220.4 358.5 L223 357.9 L225.5 357.2 L228 357.3 L230.6 358.3 L233.1 358.8 L235.6 360.6 L238.2 361.2 L240.7 359.5 L243.2 357.4 L245.8 355.1 L248.3 353.3 L250.8 352.3 L253.4 351.1 L255.9 351.7 L258.4 352.5 L261 353.3 L263.5 353.3 L266.1 351.7 L268.6 351.8 L271.1 352.2 L273.7 350.3 L276.2 349.8 L278.7 349.8 L281.3 349.3 L283.8 350.7 L286.3 351.3 L288.9 350.1 L291.4 350.4 L293.9 349.8 L296.5 345.9 L299 343.3 L301.5 343.1 L304.1 342.2 L306.6 341.3 L309.1 339.4 L311.7 339.7 L314.2 339.7 L316.8 338.1 L319.3 338.4 L321.8 340.4 L324.4 341.1 L326.9 340.8 L329.4 341.3 L332 342.2 L334.5 340.8 L337 337.8 L339.6 333.1 L342.1 326.9 L344.6 322.2 L347.2 317 L349.7 312.9 L352.2 311 L354.8 309.7 L357.3 309.3 L359.8 307.8 L362.4 310.1 L364.9 312.4 L367.5 309.8 L370 306.5 L372.5 304.9 L375.1 302 L377.6 299.3 L380.1 296.8 L382.7 294.1 L385.2 296.9 L387.7 298.7 L390.3 296.2 L392.8 293.2 L395.3 291.4 L397.9 287.3 L400.4 284.9 L402.9 283 L405.5 281.2 L408 279.4 L410.5 279.9 L413.1 277.8 L415.6 272.3 L418.2 265.7 L420.7 262 L423.2 259.9 L425.8 255.1 L428.3 252 L430.8 251.2 L433.4 250.5 L435.9 248.4 L438.4 244.4 L441 239.2 L443.5 236.6 L446 236.8 L448.6 231.6 L451.1 227.6 L453.6 225.7 L456.2 223.4 L458.7 220.1 L461.2 217.8 L463.8 215.9 L466.3 213.6 L468.9 211.5 L471.4 210.8 L473.9 209.2 L476.5 206.1 L479 205 L481.5 204.2 L484.1 204.7 L486.6 204.5 L489.1 204.4 L491.7 203.2 L494.2 201.4 L496.7 200.9 L499.3 199.9 L501.8 197.3 L504.3 196.5 L506.9 195.4 L509.4 196.7 L511.9 195.6 L514.5 194.5 L517 190.7 L519.5 186.8 L522.1 181.1 L524.6 176.2 L527.2 174.5 L529.7 172 L532.2 168.4 L534.8 163.6 L537.3 158.6 L539.8 154.6 L542.4 152.8 L544.9 153.7 L547.4 153.6 L550 153.5 L552.5 151.9 L555 151.2 L557.6 147.8 L560.1 142.7 L562.6 138.7 L565.2 137.9 L567.7 138 L570.2 138.9 L572.8 139.8 L575.3 140.1 L577.9 141.3 L580.4 141 L582.9 137.2 L585.5 133.9 L588 130.4 L590.5 129 L593.1 128 L595.6 129.7 L598.1 131.6 L600.7 133.3 L603.2 133.9 L605.7 134.5 L608.3 131.6 L610.8 131.3 L613.3 132.9 L615.9 136.7 L618.4 136.4 L621 132.7 L623.5 129.8 L626 128.5 L628.6 127.7 L631.1 122 L633.6 116.5 L636.2 117.6 L638.7 120.4 L641.2 122 L643.8 120.3 L646.3 117.6 L648.8 116.3 L651.4 120.7 L653.9 125.8 L656.4 129.5 L659 134 L661.5 137.9 L664 140.6 L666.6 143.2 L669.1 145 L671.7 144.6 L674.2 145.7 L676.7 148.4 L679.3 150.1 L681.8 151.4 L684.3 151.3 L686.9 153 L689.4 153.1 L691.9 153.4 L694.5 155.3 L697 156.4 L699.5 157.5 L702.1 160.4 L704.6 164.7 L707.1 164.2 L709.7 164.8 L712.2 166.4 L714.7 165.1 L717.3 161.8 L719.8 161.5 L722.4 162.8 L724.9 162.3 L727.4 160.4 L730 160.3 L732.5 158.2 L735 154.5 L737.6 151.3 L740.1 148.6 L742.6 147.4 L745.2 147.3 L747.7 147.7 L750.2 147.2 L752.8 149.4 L755.3 156.5 L757.8 159.9 L760.4 162.1 L762.9 163.6 L765.4 163.9 L768 167.6 L770.5 171.1 L773.1 174.5 L775.6 176.1 L778.1 177 L780.7 177.9 L783.2 181.4 L785.7 182.9 L788.3 182.8 L790.8 183.4 L793.3 184.2 L795.9 184 L798.4 181 L800.9 181.9 L803.5 183.6 L806 185.7 L808.5 186.7 L811.1 187.9 L813.6 189.5 L816.1 192.3 L818.7 194.7 L821.2 197.1 L823.8 200.1 L826.3 202.9 L828.8 204.7 L831.4 206.9 L833.9 209.6 L836.4 212 L839 214.4 L841.5 217.3 L844 218.2 L846.6 220.4 L849.1 224.1 L851.6 228.4 L854.2 231 L856.7 233.5 L859.2 237.9 L861.8 242 L864.3 242.3 L866.8 241.7 L869.4 243.1 L871.9 246.6 L874.5 251.4 L877 255 L879.5 258.1 L882.1 261.2 L884.6 264.4 L887.1 266.5 L889.7 269.2 L892.2 274.3 L894.7 279.6 L897.3 284.2 L899.8 287.5 L902.3 289.9 L904.9 290.7 L907.4 292.7 L909.9 296 L912.5 298.8 L915 298.6 L917.5 298.6 L920.1 298.2 L922.6 297.8 L925.2 296.7 L927.7 298.7 L930.2 301.7 L932.8 303.2 L935.3 303.6 L937.8 305.9 L940.4 308.9 L942.9 310.5 L945.4 314.3 L948 318.6 L950.5 320.9 L953 322.6 L955.6 325 L958.1 326 L960.6 325.1 L963.2 325.8 L965.7 328.4 L968.2 331.5 L970.8 334.5 L973.3 337.1 L975.9 341 L978.4 343.6 L980.9 343.4 L983.5 343.5 L986 344.1"/>
<path d="M63.2 345.6 L65.8 347.4 L68.3 348.2 L70.9 349.2 L73.4 351 L75.9 353.4 L78.5 354.8 L81 355.5 L83.5 357 L86.1 359.3 L88.6 361.4 L91.1 361.7 L93.7 361.4 L96.2 360.9 L98.7 361.3 L101.3 363.2 L103.8 366.5 L106.3 368.4 L108.9 368.9 L111.4 369 L114 369.5 L116.5 369.1 L119 369.9 L121.6 371.6 L124.1 372.4 L126.6 372 L129.2 370.9 L131.7 370.9 L134.2 371.9 L136.8 373.2 L139.3 374.3 L141.8 375.1 L144.4 374.8 L146.9 374.1 L149.4 372.9 L152 369.7 L154.5 367.5 L157 366.9 L159.6 365.9 L162.1 366.6 L164.7 368.1 L167.2 369.9 L169.7 372 L172.3 374.2 L174.8 375.8 L177.3 376.7 L179.9 376.6 L182.4 376.1 L184.9 374.8 L187.5 373.6 L190 372.6 L192.5 372.5 L195.1 371.7 L197.6 370.2 L200.1 370.4 L202.7 368.8 L205.2 367.6 L207.7 366.2 L210.3 365.9 L212.8 367.3 L215.4 367.1 L217.9 364.5 L220.4 362.6 L223 362.7 L225.5 363.6 L228 363.1 L230.6 364.4 L233.1 367.1 L235.6 367.6 L238.2 363.7 L240.7 361.3 L243.2 360.4 L245.8 359.5 L248.3 360 L250.8 359.7 L253.4 359 L255.9 359.8 L258.4 360.2 L261 361.3 L263.5 360.6 L266.1 359.9 L268.6 358.9 L271.1 358.3 L273.7 359.5 L276.2 358.9 L278.7 355.8 L281.3 355.1 L283.8 352.8 L286.3 349.5 L288.9 348.8 L291.4 350.7 L293.9 350.5 L296.5 346.5 L299 344.7 L301.5 344.6 L304.1 342.5 L306.6 340.8 L309.1 339.1 L311.7 336.8 L314.2 337.3 L316.8 338.7 L319.3 336.4 L321.8 332.7 L324.4 332.4 L326.9 333.1 L329.4 330 L332 326.5 L334.5 323.6 L337 321.4 L339.6 319.5 L342.1 318.1 L344.6 315.1 L347.2 311.8 L349.7 308.5 L352.2 307 L354.8 306.2 L357.3 303.8 L359.8 301.8 L362.4 301.1 L364.9 300.4 L367.5 300.5 L370 299.4 L372.5 298.1 L375.1 299.8 L377.6 304.7 L380.1 302.6 L382.7 298.4 L385.2 297 L387.7 295.7 L390.3 296.3 L392.8 294.4 L395.3 289.1 L397.9 284.1 L400.4 279.5 L402.9 275.6 L405.5 270 L408 265.1 L410.5 268.1 L413.1 269 L415.6 266.3 L418.2 267.5 L420.7 266.8 L423.2 264.3 L425.8 262.5 L428.3 259.4 L430.8 257.4 L433.4 251.5 L435.9 249.8 L438.4 251.3 L441 252.1 L443.5 250.8 L446 251.5 L448.6 252.7 L451.1 252.3 L453.6 252.3 L456.2 249.2 L458.7 247.3 L461.2 246.4 L463.8 242.7 L466.3 241.1 L468.9 240.1 L471.4 243.3 L473.9 246.5 L476.5 249.7 L479 247.2 L481.5 241.9 L484.1 232.9 L486.6 225.6 L489.1 220.1 L491.7 218.6 L494.2 219.7 L496.7 217.9 L499.3 209.9 L501.8 201.1 L504.3 198.5 L506.9 194 L509.4 187.4 L511.9 185.5 L514.5 185 L517 184.9 L519.5 183.9 L522.1 181.7 L524.6 180.1 L527.2 175.1 L529.7 168.6 L532.2 165.6 L534.8 164.4 L537.3 158.8 L539.8 153.6 L542.4 151.7 L544.9 151.5 L547.4 149.2 L550 150.2 L552.5 152.8 L555 150.7 L557.6 143.4 L560.1 136 L562.6 129.5 L565.2 127.4 L567.7 126.7 L570.2 129.6 L572.8 135 L575.3 134.9 L577.9 132.3 L580.4 130.8 L582.9 131.7 L585.5 136.1 L588 142.1 L590.5 145 L593.1 142.2 L595.6 140.7 L598.1 138 L600.7 137.9 L603.2 137.9 L605.7 138 L608.3 135.4 L610.8 132.9 L613.3 135.1 L615.9 137.7 L618.4 136.8 L621 134.7 L623.5 132.1 L626 130.3 L628.6 133.1 L631.1 134.5 L633.6 133.8 L636.2 131.9 L638.7 132.1 L641.2 133.6 L643.8 133.2 L646.3 133.3 L648.8 133.6 L651.4 128.2 L653.9 128 L656.4 131.8 L659 136.6 L661.5 137.6 L664 138 L666.6 139.1 L669.1 137.9 L671.7 138.9 L674.2 139.1 L676.7 141.8 L679.3 147.2 L681.8 148.8 L684.3 148.9 L686.9 145.5 L689.4 142.5 L691.9 141.4 L694.5 143.3 L697 144.3 L699.5 141.6 L702.1 142.6 L704.6 150.6 L707.1 159.4 L709.7 165 L712.2 164.2 L714.7 163.3 L717.3 161.3 L719.8 156.6 L722.4 154.4 L724.9 159.9 L727.4 167.7 L730 172.5 L732.5 176 L735 176.2 L737.6 173.9 L740.1 174.4 L742.6 175.2 L745.2 173.1 L747.7 174.2 L750.2 175.2 L752.8 177.8 L755.3 180 L757.8 177 L760.4 173.9 L762.9 174.7 L765.4 181.5 L768 184.3 L770.5 184.5 L773.1 185.6 L775.6 188.8 L778.1 195.1 L780.7 201.8 L783.2 207.3 L785.7 209.1 L788.3 212.4 L790.8 218.4 L793.3 226.2 L795.9 228.8 L798.4 231.9 L800.9 231.5 L803.5 232.4 L806 239.1 L808.5 242.1 L811.1 237.9 L813.6 231.8 L816.1 231.1 L818.7 232 L821.2 232.4 L823.8 230 L826.3 231.2 L828.8 231.9 L831.4 233.9 L833.9 234.7 L836.4 236 L839 238.4 L841.5 240.8 L844 240.7 L846.6 242.5 L849.1 243.9 L851.6 248.6 L854.2 252 L856.7 254.3 L859.2 255.8 L861.8 259.8 L864.3 261.6 L866.8 262.5 L869.4 264.2 L871.9 266.3 L874.5 269.1 L877 271.2 L879.5 272.9 L882.1 273.2 L884.6 277.3 L887.1 284 L889.7 288.3 L892.2 289.2 L894.7 288.6 L897.3 289.7 L899.8 292.4 L902.3 297.6 L904.9 298.9 L907.4 296.2 L909.9 294.3 L912.5 294.9 L915 296 L917.5 297.2 L920.1 298.9 L922.6 304.7 L925.2 307.1 L927.7 308.5 L930.2 310.9 L932.8 315.4 L935.3 319.4 L937.8 323.3 L940.4 325.8 L942.9 325.5 L945.4 325.9 L948 325.2 L950.5 324.1 L953 325.9 L955.6 326.7 L958.1 327.6 L960.6 329.3 L963.2 329.3 L965.7 329 L968.2 330 L970.8 328.7 L973.3 330.3 L975.9 334.2 L978.4 338.9 L980.9 340.6 L983.5 341.7 L986 342.9"/>
<path d="M63.2 348.8 L65.8 349.1 L68.3 349.5 L70.9 351.7 L73.4 354.9 L75.9 357.3 L78.5 357.5 L81 357 L83.5 356.6 L86.1 358.3 L88.6 361.1 L91.1 362.1 L93.7 362.3 L96.2 361.5 L98.7 361.6 L101.3 362.4 L103.8 364.7 L106.3 367 L108.9 367.9 L111.4 369.1 L114 368.8 L116.5 367.3 L119 368.5 L121.6 369.8 L124.1 371.6 L126.6 373.3 L129.2 373.6 L131.7 371.6 L134.2 371.3 L136.8 371.9 L139.3 371.7 L141.8 372.3 L144.4 374.1 L146.9 375.6 L149.4 375.6 L152 375.2 L154.5 375.6 L157 375.7 L159.6 375.5 L162.1 375.3 L164.7 376.6 L167.2 378.7 L169.7 379.3 L172.3 378.8 L174.8 378.1 L177.3 376.5 L179.9 376.7 L182.4 377.5 L184.9 378.1 L187.5 378.4 L190 378.6 L192.5 378.1 L195.1 377.9 L197.6 376.7 L200.1 376 L202.7 375.7 L205.2 375.4 L207.7 376.6 L210.3 378.5 L212.8 379.6 L215.4 379.5 L217.9 378.2 L220.4 379 L223 380.7 L225.5 381.6 L228 381.8 L230.6 381 L233.1 379.9 L235.6 379.3 L238.2 378.8 L240.7 378.4 L243.2 377.2 L245.8 375 L248.3 376 L250.8 378.7 L253.4 379.9 L255.9 379 L258.4 378.3 L261 376.6 L263.5 375.3 L266.1 375.1 L268.6 373.4 L271.1 372.8 L273.7 372.4 L276.2 371.5 L278.7 371.2 L281.3 372.1 L283.8 373.4 L286.3 371.4 L288.9 368.1 L291.4 366.9 L293.9 366.6 L296.5 367.9 L299 365.8 L301.5 363.7 L304.1 362 L306.6 358.6 L309.1 356.4 L311.7 358 L314.2 358.1 L316.8 356.7 L319.3 354.1 L321.8 352.9 L324.4 351.9 L326.9 352 L329.4 352 L332 353 L334.5 351.9 L337 350.8 L339.6 349.9 L342.1 347.1 L344.6 345.7 L347.2 345.1 L349.7 345.1 L352.2 346.9 L354.8 348.8 L357.3 348.1 L359.8 347 L362.4 347.1 L364.9 344.8 L367.5 340.6 L370 338.7 L372.5 339.9 L375.1 340.1 L377.6 338.8 L380.1 337.8 L382.7 333.2 L385.2 329 L387.7 325.5 L390.3 322.8 L392.8 319.6 L395.3 315.8 L397.9 311.7 L400.4 309.2 L402.9 310 L405.5 308.2 L408 304.5 L410.5 299.7 L413.1 293.1 L415.6 285.8 L418.2 280.9 L420.7 279.5 L423.2 277.7 L425.8 271.2 L428.3 263.2 L430.8 255.4 L433.4 255.8 L435.9 255.3 L438.4 254.3 L441 252.1 L443.5 249.8 L446 248.3 L448.6 248.1 L451.1 248.9 L453.6 247.9 L456.2 247.4 L458.7 246.1 L461.2 244 L463.8 242.5 L466.3 242.6 L468.9 241.4 L471.4 240 L473.9 235.1 L476.5 228.7 L479 227.5 L481.5 226.7 L484.1 225.7 L486.6 224.5 L489.1 220.3 L491.7 212.8 L494.2 207.9 L496.7 207.9 L499.3 211.6 L501.8 213.2 L504.3 211.1 L506.9 212.5 L509.4 211.8 L511.9 210.7 L514.5 206.7 L517 197.9 L519.5 193 L522.1 190.3 L524.6 190.5 L527.2 188.6 L529.7 182.6 L532.2 181 L534.8 180 L537.3 175.1 L539.8 172.5 L542.4 172.7 L544.9 173.1 L547.4 174.3 L550 172.1 L552.5 170.2 L555 171.3 L557.6 169.3 L560.1 166.6 L562.6 165.9 L565.2 164.3 L567.7 163.6 L570.2 162.4 L572.8 158.1 L575.3 157 L577.9 159.8 L580.4 160.3 L582.9 153.5 L585.5 147.4 L588 145.3 L590.5 142.9 L593.1 140.3 L595.6 137.5 L598.1 137.9 L600.7 136.2 L603.2 132.6 L605.7 132.9 L608.3 134.2 L610.8 135.2 L613.3 139.7 L615.9 143.9 L618.4 145 L621 142.1 L623.5 142.1 L626 145 L628.6 145.1 L631.1 144.4 L633.6 142.4 L636.2 145.1 L638.7 150.7 L641.2 152.4 L643.8 152.7 L646.3 152.6 L648.8 153.5 L651.4 155.2 L653.9 154 L656.4 149.3 L659 147.5 L661.5 149.7 L664 150.2 L666.6 150.9 L669.1 153.1 L671.7 154.1 L674.2 154.5 L676.7 157.7 L679.3 160.4 L681.8 161 L684.3 160.1 L686.9 160.8 L689.4 161.2 L691.9 163 L694.5 162.5 L697 164.9 L699.5 166.3 L702.1 172.6 L704.6 175.1 L707.1 176.9 L709.7 176.7 L712.2 175.2 L714.7 172.2 L717.3 171 L719.8 169.6 L722.4 171.2 L724.9 171.2 L727.4 174.3 L730 177.3 L732.5 178.1 L735 178.3 L737.6 178.5 L740.1 178.3 L742.6 179.1 L745.2 179.9 L747.7 180 L750.2 178.7 L752.8 178 L755.3 181.1 L757.8 182.6 L760.4 184.9 L762.9 188.6 L765.4 192.8 L768 193.6 L770.5 194.9 L773.1 199.8 L775.6 200.5 L778.1 197.6 L780.7 195.4 L783.2 190.7 L785.7 188 L788.3 189.9 L790.8 194.6 L793.3 194.8 L795.9 193.2 L798.4 192.3 L800.9 194.6 L803.5 197.9 L806 198.4 L808.5 197.7 L811.1 195.3 L813.6 195.7 L816.1 200.2 L818.7 201.3 L821.2 202.8 L823.8 205.6 L826.3 207 L828.8 208.1 L831.4 209 L833.9 213.5 L836.4 215.4 L839 216.4 L841.5 221.9 L844 225.6 L846.6 225.7 L849.1 226.6 L851.6 229.3 L854.2 234.1 L856.7 234.8 L859.2 236.9 L861.8 241.3 L864.3 242.1 L866.8 245.5 L869.4 249.2 L871.9 252.1 L874.5 258.7 L877 260.8 L879.5 261 L882.1 260.6 L884.6 260.7 L887.1 262.6 L889.7 262 L892.2 262.3 L894.7 265.5 L897.3 269.9 L899.8 275.2 L902.3 279.8 L904.9 280.3 L907.4 281.2 L909.9 280.7 L912.5 281.3 L915 284.8 L917.5 287.6 L920.1 287.1 L922.6 285.7 L925.2 289.1 L927.7 293.2 L930.2 297.3 L932.8 300.8 L935.3 306.7 L937.8 312.2 L940.4 312.1 L942.9 311.5 L945.4 312.5 L948 313.9 L950.5 312.7 L953 313.9 L955.6 314.4 L958.1 315.3 L960.6 318.7 L963.2 321.5 L965.7 322.5 L968.2 325.5 L970.8 328.7 L973.3 330.5 L975.9 330.8 L978.4 332.3 L980.9 333.9 L983.5 335.7 L986 336"/>
<path d="M63.2 337.2 L65.8 338.4 L68.3 339.9 L70.9 341.7 L73.4 343.1 L75.9 344.8 L78.5 345.8 L81 346.2 L83.5 346.5 L86.1 347.3 L88.6 348.7 L91.1 350.9 L93.7 351.7 L96.2 353.3 L98.7 354.3 L101.3 354.2 L103.8 353.8 L106.3 353.3 L108.9 353.6 L111.4 354.3 L114 352.8 L116.5 351.7 L119 352.1 L121.6 352.1 L124.1 353.8 L126.6 356 L129.2 356.6 L131.7 356 L134.2 356.5 L136.8 357.8 L139.3 358.4 L141.8 357.7 L144.4 355.7 L146.9 355.3 L149.4 356.1 L152 358.2 L154.5 359.8 L157 361.2 L159.6 361.1 L162.1 360.8 L164.7 360.7 L167.2 361.3 L169.7 362.6 L172.3 361.8 L174.8 361.6 L177.3 362.6 L179.9 363 L182.4 361.9 L184.9 361.4 L187.5 362.5 L190 363.7 L192.5 367.6 L195.1 370.6 L197.6 372.7 L200.1 373.2 L202.7 371.8 L205.2 371.9 L207.7 373.9 L210.3 373.4 L212.8 373.2 L215.4 372.5 L217.9 372.9 L220.4 373.5 L223 374.7 L225.5 376 L228 376.8 L230.6 376.4 L233.1 376.9 L235.6 378 L238.2 378.5 L240.7 375 L243.2 372.8 L245.8 370.7 L248.3 368.4 L250.8 368.4 L253.4 369.2 L255.9 370.8 L258.4 371.6 L261 368.9 L263.5 366.1 L266.1 361.5 L268.6 358.9 L271.1 356.1 L273.7 354 L276.2 357.1 L278.7 359.1 L281.3 359.3 L283.8 361 L286.3 361.4 L288.9 360.7 L291.4 360.4 L293.9 361.5 L296.5 361.1 L299 360.3 L301.5 360 L304.1 357.2 L306.6 355.4 L309.1 352.5 L311.7 351.7 L314.2 350.7 L316.8 348.8 L319.3 348 L321.8 345.6 L324.4 342.4 L326.9 341 L329.4 338.3 L332 334.7 L334.5 335.5 L337 339.6 L339.6 340.8 L342.1 338.4 L344.6 335.4 L347.2 335.4 L349.7 336.9 L352.2 337.4 L354.8 336 L357.3 332.5 L359.8 327.4 L362.4 325.3 L364.9 322.7 L367.5 319.9 L370 320 L372.5 321.6 L375.1 319.2 L377.6 319.3 L380.1 320.8 L382.7 320.3 L385.2 320.8 L387.7 321.3 L390.3 320.8 L392.8 320.5 L395.3 317 L397.9 312.7 L400.4 311.8 L402.9 310.1 L405.5 309.6 L408 307.3 L410.5 304.4 L413.1 300.3 L415.6 294.6 L418.2 293.2 L420.7 291.1 L423.2 290.2 L425.8 289.4 L428.3 285.4 L430.8 281.2 L433.4 279.1 L435.9 276.4 L438.4 275.9 L441 272.2 L443.5 263.5 L446 256.4 L448.6 249.3 L451.1 246.1 L453.6 243.2 L456.2 239.5 L458.7 237.9 L461.2 240.4 L463.8 240.4 L466.3 233.6 L468.9 223.7 L471.4 217.3 L473.9 211.3 L476.5 207 L479 200 L481.5 194.7 L484.1 190.9 L486.6 187.1 L489.1 185.5 L491.7 182.9 L494.2 176.1 L496.7 175.4 L499.3 180.1 L501.8 180.4 L504.3 179.6 L506.9 176.4 L509.4 171.8 L511.9 170.1 L514.5 163.6 L517 158.1 L519.5 154.9 L522.1 153.5 L524.6 149.1 L527.2 147.6 L529.7 145.6 L532.2 145.8 L534.8 146.4 L537.3 149.7 L539.8 147.7 L542.4 141.5 L544.9 138.8 L547.4 136.6 L550 136.9 L552.5 135.3 L555 131.4 L557.6 133.2 L560.1 134.8 L562.6 133.7 L565.2 131.4 L567.7 135.2 L570.2 135.4 L572.8 133.9 L575.3 134.6 L577.9 133.5 L580.4 131.8 L582.9 134.4 L585.5 137.8 L588 138.2 L590.5 138.4 L593.1 136.9 L595.6 133.7 L598.1 135.3 L600.7 138.5 L603.2 139.3 L605.7 136.8 L608.3 134.1 L610.8 130.4 L613.3 131.1 L615.9 133.7 L618.4 133.7 L621 131.9 L623.5 129.7 L626 126.6 L628.6 124.6 L631.1 123 L633.6 118.7 L636.2 114.3 L638.7 111.9 L641.2 109.9 L643.8 108.8 L646.3 104.5 L648.8 102.4 L651.4 103.9 L653.9 109.4 L656.4 112 L659 111.5 L661.5 111.1 L664 112.5 L666.6 113.8 L669.1 116.2 L671.7 117.7 L674.2 119.3 L676.7 121.1 L679.3 128.1 L681.8 129.2 L684.3 127 L686.9 127 L689.4 129 L691.9 135.4 L694.5 137.9 L697 137.7 L699.5 138.3 L702.1 137.5 L704.6 136 L707.1 139.4 L709.7 146.3 L712.2 147.5 L714.7 150.2 L717.3 155.6 L719.8 159.5 L722.4 161.6 L724.9 163.4 L727.4 165.9 L730 170.6 L732.5 170.8 L735 168.9 L737.6 169.8 L740.1 171.8 L742.6 170.8 L745.2 167.9 L747.7 166.4 L750.2 164.4 L752.8 160 L755.3 155 L757.8 156.9 L760.4 156.9 L762.9 156.4 L765.4 156 L768 157.7 L770.5 162.8 L773.1 168.6 L775.6 168 L778.1 167.6 L780.7 172.7 L783.2 180 L785.7 186.9 L788.3 191.9 L790.8 195.5 L793.3 200.3 L795.9 204.8 L798.4 207.3 L800.9 208.4 L803.5 208 L806 207.9 L808.5 209.4 L811.1 211.2 L813.6 218.5 L816.1 226 L818.7 228.1 L821.2 229.2 L823.8 233.4 L826.3 237.1 L828.8 242.8 L831.4 251.4 L833.9 255.2 L836.4 252.6 L839 254.8 L841.5 254.7 L844 251 L846.6 247.3 L849.1 248.9 L851.6 252.4 L854.2 253.6 L856.7 255 L859.2 258.8 L861.8 264.8 L864.3 269.6 L866.8 273.2 L869.4 276.2 L871.9 277.8 L874.5 280.8 L877 281.3 L879.5 282.1 L882.1 281.8 L884.6 280.9 L887.1 286.1 L889.7 289.7 L892.2 289.4 L894.7 288.1 L897.3 288.8 L899.8 292.3 L902.3 297.7 L904.9 299.2 L907.4 300.1 L909.9 302.5 L912.5 305.5 L915 308 L917.5 308.7 L920.1 311.5 L922.6 315.3 L925.2 319 L927.7 323 L930.2 326 L932.8 327.2 L935.3 325.2 L937.8 321.5 L940.4 322.5 L942.9 327.9 L945.4 332.4 L948 334.2 L950.5 336.8 L953 338.5 L955.6 341 L958.1 340.2 L960.6 339.2 L963.2 337.5 L965.7 335.3 L968.2 336.5 L970.8 337.8 L973.3 340.9 L975.9 343.3 L978.4 343.8 L980.9 344.9 L983.5 346.9 L986 349.3"/>
<path d="M63.2 352.5 L65.8 354.6 L68.3 355.4 L70.9 355 L73.4 354.9 L75.9 354.9 L78.5 356.8 L81 359.2 L83.5 360.8 L86.1 361.2 L88.6 361 L91.1 361.2 L93.7 362.3 L96.2 362 L98.7 362 L101.3 363.3 L103.8 364.2 L106.3 364.7 L108.9 365.7 L111.4 367.4 L114 369.1 L116.5 369.9 L119 370.4 L121.6 371.5 L124.1 372.8 L126.6 373.1 L129.2 371.3 L131.7 369.5 L134.2 369.6 L136.8 368.9 L139.3 369.6 L141.8 371.4 L144.4 372 L146.9 372.5 L149.4 373.9 L152 375.5 L154.5 375.1 L157 376.1 L159.6 379.8 L162.1 383.2 L164.7 384.1 L167.2 384.7 L169.7 384.8 L172.3 384.2 L174.8 384.9 L177.3 386 L179.9 386.2 L182.4 386.7 L184.9 386.8 L187.5 387.4 L190 388.2 L192.5 388.4 L195.1 387.8 L197.6 388.2 L200.1 388.3 L202.7 388.1 L205.2 387.4 L207.7 387.2 L210.3 387.4 L212.8 386.7 L215.4 385.2 L217.9 384.7 L220.4 383.8 L223 384.2 L225.5 384.5 L228 382.5 L230.6 381.8 L233.1 382.9 L235.6 384.5 L238.2 383.8 L240.7 382.2 L243.2 381.1 L245.8 383.6 L248.3 383.6 L250.8 382.9 L253.4 382.3 L255.9 379.1 L258.4 374.8 L261 372.2 L263.5 370.9 L266.1 369.1 L268.6 369.4 L271.1 371.2 L273.7 369.2 L276.2 363.7 L278.7 362.2 L281.3 363.1 L283.8 362.2 L286.3 363.3 L288.9 364.1 L291.4 362.5 L293.9 362 L296.5 362.1 L299 362.5 L301.5 362.2 L304.1 362.1 L306.6 359.4 L309.1 355.9 L311.7 352 L314.2 351.7 L316.8 351.6 L319.3 350.9 L321.8 352.5 L324.4 351.6 L326.9 352.1 L329.4 352.6 L332 351 L334.5 347.6 L337 345.6 L339.6 344.3 L342.1 340.7 L344.6 334.3 L347.2 330.3 L349.7 327.9 L352.2 325.1 L354.8 324.7 L357.3 326.4 L359.8 327.8 L362.4 328 L364.9 326.4 L367.5 322.1 L370 320.2 L372.5 319.1 L375.1 317.8 L377.6 316.8 L380.1 311.1 L382.7 304.8 L385.2 300.1 L387.7 294.3 L390.3 291.8 L392.8 288.2 L395.3 284.7 L397.9 281 L400.4 276.3 L402.9 275.1 L405.5 276.8 L408 279.5 L410.5 277.6 L413.1 270.1 L415.6 265.8 L418.2 268.5 L420.7 267.7 L423.2 266.6 L425.8 264.2 L428.3 260.7 L430.8 256.5 L433.4 253.9 L435.9 249.7 L438.4 250.1 L441 249.3 L443.5 249.1 L446 247 L448.6 244.5 L451.1 244.5 L453.6 242.2 L456.2 241.9 L458.7 239.3 L461.2 236.2 L463.8 232.5 L466.3 226 L468.9 221.7 L471.4 224.1 L473.9 223.8 L476.5 220.4 L479 219.2 L481.5 217.4 L484.1 215.7 L486.6 212.7 L489.1 210.4 L491.7 206.1 L494.2 201.3 L496.7 194.9 L499.3 188.6 L501.8 186.3 L504.3 185.1 L506.9 181.5 L509.4 177 L511.9 172.2 L514.5 168.4 L517 168.2 L519.5 171.5 L522.1 175.6 L524.6 178.5 L527.2 180.3 L529.7 180.2 L532.2 178.7 L534.8 176 L537.3 173 L539.8 173 L542.4 175.3 L544.9 175.9 L547.4 174.5 L550 172.4 L552.5 169.9 L555 167.9 L557.6 166.8 L560.1 167 L562.6 166.3 L565.2 169.5 L567.7 170.3 L570.2 168.6 L572.8 165.9 L575.3 164.5 L577.9 159.5 L580.4 154.7 L582.9 150.1 L585.5 148.3 L588 147.3 L590.5 143.7 L593.1 142.2 L595.6 141.8 L598.1 141.2 L600.7 138.3 L603.2 135.1 L605.7 134.9 L608.3 137.7 L610.8 139.4 L613.3 138.1 L615.9 141.8 L618.4 142.9 L621 142.5 L623.5 142.2 L626 141.5 L628.6 140.5 L631.1 141.1 L633.6 142.7 L636.2 141.7 L638.7 139.7 L641.2 139.1 L643.8 141.9 L646.3 144.3 L648.8 144.7 L651.4 147.5 L653.9 149.8 L656.4 150.3 L659 148 L661.5 147.1 L664 151.9 L666.6 155.3 L669.1 159.4 L671.7 162.2 L674.2 159.6 L676.7 157.5 L679.3 157.4 L681.8 157.8 L684.3 158.5 L686.9 158.3 L689.4 159.6 L691.9 159.5 L694.5 161.1 L697 162.4 L699.5 167.3 L702.1 171.1 L704.6 167.5 L707.1 166.7 L709.7 168.8 L712.2 173.1 L714.7 175.5 L717.3 176.1 L719.8 178.2 L722.4 181.4 L724.9 181.6 L727.4 180.1 L730 180.5 L732.5 178.5 L735 180.2 L737.6 179.8 L740.1 177.6 L742.6 175.5 L745.2 174.9 L747.7 175.9 L750.2 176.5 L752.8 179 L755.3 180.1 L757.8 182.7 L760.4 183.9 L762.9 181.2 L765.4 179.8 L768 182.2 L770.5 186.6 L773.1 188.2 L775.6 186 L778.1 187.5 L780.7 191.6 L783.2 195.9 L785.7 196.1 L788.3 197.3 L790.8 200.4 L793.3 204.7 L795.9 204.4 L798.4 203.1 L800.9 202.2 L803.5 203.9 L806 208.2 L808.5 211.5 L811.1 208.8 L813.6 208.2 L816.1 208.3 L818.7 209.6 L821.2 215.3 L823.8 221.1 L826.3 224 L828.8 226 L831.4 230.1 L833.9 233.4 L836.4 235.2 L839 236.3 L841.5 235.9 L844 237.2 L846.6 241.3 L849.1 244.7 L851.6 248.3 L854.2 251 L856.7 250.5 L859.2 254.1 L861.8 259.4 L864.3 260.5 L866.8 259.1 L869.4 261.6 L871.9 262.2 L874.5 263.5 L877 266.1 L879.5 272.9 L882.1 278.7 L884.6 281.3 L887.1 282.9 L889.7 283.7 L892.2 286.6 L894.7 292 L897.3 292.1 L899.8 290.9 L902.3 291.4 L904.9 292.5 L907.4 293.5 L909.9 295.2 L912.5 295.8 L915 297.8 L917.5 297.7 L920.1 300.7 L922.6 302.9 L925.2 306.7 L927.7 307.4 L930.2 308.1 L932.8 311.8 L935.3 315 L937.8 318.5 L940.4 320.6 L942.9 321.7 L945.4 324.7 L948 326.5 L950.5 328 L953 329.6 L955.6 329.9 L958.1 330.4 L960.6 332.5 L963.2 333.3 L965.7 334.3 L968.2 338.3 L970.8 340.5 L973.3 342.1 L975.9 345.7 L978.4 350.4 L980.9 351.8 L983.5 351.3 L986 351.9"/>
<path d="M63.2 352.3 L65.8 353.5 L68.3 355.1 L70.9 355.4 L73.4 356.4 L75.9 358.7 L78.5 360.3 L81 361.3 L83.5 362.4 L86.1 363.1 L88.6 363.7 L91.1 362.6 L93.7 360.9 L96.2 362 L98.7 365.1 L101.3 366.7 L103.8 366.8 L106.3 367.4 L108.9 368.2 L111.4 368.4 L114 368.1 L116.5 368 L119 367.9 L121.6 367.8 L124.1 368.4 L126.6 368.2 L129.2 367.4 L131.7 367.8 L134.2 368.2 L136.8 367.6 L139.3 365.9 L141.8 365.6 L144.4 366.5 L146.9 368.3 L149.4 370.5 L152 372.6 L154.5 372.6 L157 372.7 L159.6 371.6 L162.1 369.8 L164.7 369 L167.2 369 L169.7 369.4 L172.3 370.9 L174.8 371.8 L177.3 371.5 L179.9 370.4 L182.4 370.3 L184.9 370.8 L187.5 371.6 L190 373.9 L192.5 374.3 L195.1 375.9 L197.6 377.2 L200.1 378.7 L202.7 377.2 L205.2 374.1 L207.7 372.9 L210.3 372 L212.8 371 L215.4 370.5 L217.9 372.7 L220.4 373.6 L223 374.4 L225.5 374.1 L228 373.7 L230.6 372.2 L233.1 372.1 L235.6 372 L238.2 370.4 L240.7 370.1 L243.2 368.2 L245.8 366.5 L248.3 365.6 L250.8 365.4 L253.4 365.3 L255.9 363.1 L258.4 362.5 L261 366 L263.5 369.5 L266.1 372.1 L268.6 372.3 L271.1 371.4 L273.7 370.6 L276.2 368.1 L278.7 366.7 L281.3 369.8 L283.8 372 L286.3 368.8 L288.9 366.7 L291.4 365.4 L293.9 367.4 L296.5 366.4 L299 363.5 L301.5 365.2 L304.1 365.7 L306.6 365 L309.1 363.6 L311.7 364.6 L314.2 362.3 L316.8 360.2 L319.3 361.6 L321.8 362.1 L324.4 364.1 L326.9 362.7 L329.4 358.1 L332 356.1 L334.5 353.1 L337 350.1 L339.6 345.8 L342.1 341.9 L344.6 334.7 L347.2 327 L349.7 324.5 L352.2 323.1 L354.8 322.4 L357.3 323.5 L359.8 321.8 L362.4 319.6 L364.9 316.8 L367.5 314.2 L370 311.6 L372.5 305.4 L375.1 302.6 L377.6 298.7 L380.1 297.5 L382.7 299.5 L385.2 298.6 L387.7 298.1 L390.3 296.4 L392.8 293.7 L395.3 288.9 L397.9 286 L400.4 285.7 L402.9 285.4 L405.5 281.1 L408 274.2 L410.5 268.2 L413.1 260.5 L415.6 256.5 L418.2 252.8 L420.7 248.5 L423.2 248.3 L425.8 250.1 L428.3 247.2 L430.8 241.1 L433.4 239.8 L435.9 240.4 L438.4 236.7 L441 232.8 L443.5 228.6 L446 221.7 L448.6 216.2 L451.1 218.8 L453.6 220.4 L456.2 218.2 L458.7 218.4 L461.2 218 L463.8 214 L466.3 208.6 L468.9 201.2 L471.4 193.4 L473.9 188.1 L476.5 183.4 L479 181.3 L481.5 181.3 L484.1 180.6 L486.6 178.7 L489.1 175.6 L491.7 171.4 L494.2 166.8 L496.7 162.6 L499.3 160.3 L501.8 158.8 L504.3 159.5 L506.9 161.8 L509.4 166.5 L511.9 171.2 L514.5 169.7 L517 169.2 L519.5 169.2 L522.1 166.5 L524.6 162.8 L527.2 164.3 L529.7 168 L532.2 169.7 L534.8 170.2 L537.3 170.2 L539.8 169.5 L542.4 168.6 L544.9 163.8 L547.4 161.4 L550 159.8 L552.5 157.6 L555 159.9 L557.6 162.8 L560.1 161.4 L562.6 159.8 L565.2 157.1 L567.7 155.7 L570.2 156.8 L572.8 156 L575.3 155.9 L577.9 154.8 L580.4 151.6 L582.9 148.6 L585.5 147.6 L588 150.3 L590.5 148.8 L593.1 144.4 L595.6 142.3 L598.1 143.9 L600.7 145.1 L603.2 146.4 L605.7 147.9 L608.3 144.9 L610.8 140 L613.3 140.4 L615.9 141.9 L618.4 144.3 L621 147 L623.5 147.4 L626 146 L628.6 142.7 L631.1 138.3 L633.6 135.9 L636.2 136 L638.7 135.3 L641.2 137.6 L643.8 136.6 L646.3 133.9 L648.8 130.4 L651.4 127.7 L653.9 125.7 L656.4 126.3 L659 127.9 L661.5 130.8 L664 134.7 L666.6 138 L669.1 133.6 L671.7 130.1 L674.2 131.8 L676.7 133 L679.3 133.8 L681.8 134.7 L684.3 132.2 L686.9 129.9 L689.4 130.2 L691.9 136.1 L694.5 140 L697 141.1 L699.5 139.9 L702.1 143.6 L704.6 149.7 L707.1 152.9 L709.7 152.7 L712.2 155.5 L714.7 158.7 L717.3 164.3 L719.8 166.6 L722.4 166.4 L724.9 169 L727.4 175.1 L730 178.5 L732.5 181.1 L735 183.5 L737.6 184.8 L740.1 184.9 L742.6 187.1 L745.2 186.7 L747.7 183.2 L750.2 187.3 L752.8 190.9 L755.3 193.8 L757.8 195.6 L760.4 195.5 L762.9 194.3 L765.4 199.7 L768 203.4 L770.5 202.8 L773.1 204.8 L775.6 206.4 L778.1 210.8 L780.7 216.1 L783.2 217.7 L785.7 219.6 L788.3 218.9 L790.8 215.3 L793.3 213.4 L795.9 217.3 L798.4 216.3 L800.9 217.1 L803.5 218.3 L806 218.6 L808.5 224 L811.1 229.8 L813.6 234.9 L816.1 236 L818.7 234.9 L821.2 234.6 L823.8 237.8 L826.3 238.4 L828.8 239.3 L831.4 239.3 L833.9 241 L836.4 244 L839 243.6 L841.5 246.1 L844 248.1 L846.6 246.7 L849.1 248.7 L851.6 250.6 L854.2 252.8 L856.7 255 L859.2 259.4 L861.8 265 L864.3 268.1 L866.8 270.2 L869.4 274.9 L871.9 279.1 L874.5 283.2 L877 283 L879.5 279.5 L882.1 279.6 L884.6 278.5 L887.1 277.9 L889.7 279.3 L892.2 284.2 L894.7 288.1 L897.3 289.3 L899.8 290.3 L902.3 293.5 L904.9 295.7 L907.4 294.6 L909.9 296.7 L912.5 300.3 L915 303 L917.5 306.6 L920.1 309.1 L922.6 312.4 L925.2 314.9 L927.7 314.3 L930.2 314.2 L932.8 314.6 L935.3 315.1 L937.8 318 L940.4 323.5 L942.9 327.3 L945.4 326.3 L948 324.8 L950.5 325.1 L953 326.1 L955.6 328.4 L958.1 332.1 L960.6 336.3 L963.2 339.3 L965.7 343.2 L968.2 346.2 L970.8 346.7 L973.3 347.4 L975.9 348.8 L978.4 349 L980.9 347.7 L983.5 346.4 L986 345.4"/>
<path d="M63.2 337.4 L65.8 337.3 L68.3 336.9 L70.9 337.8 L73.4 337.7 L75.9 338.7 L78.5 339.8 L81 341.3 L83.5 343.7 L86.1 345 L88.6 346.2 L91.1 346 L93.7 345.2 L96.2 343.4 L98.7 342.6 L101.3 342.8 L103.8 344.1 L106.3 347.2 L108.9 349.1 L111.4 349.8 L114 350.8 L116.5 353.1 L119 354.4 L121.6 353.6 L124.1 354.4 L126.6 355.8 L129.2 357.2 L131.7 358.4 L134.2 361.4 L136.8 363.2 L139.3 364.6 L141.8 365.9 L144.4 367 L146.9 368.4 L149.4 369.7 L152 370.6 L154.5 371.1 L157 368.7 L159.6 367.3 L162.1 366.6 L164.7 366.1 L167.2 366.1 L169.7 366.7 L172.3 367.2 L174.8 369.8 L177.3 371.9 L179.9 372 L182.4 370.9 L184.9 370.8 L187.5 371.5 L190 371.5 L192.5 370.9 L195.1 369.3 L197.6 369.8 L200.1 369.9 L202.7 368.4 L205.2 366.6 L207.7 365.5 L210.3 364.5 L212.8 362.5 L215.4 360.6 L217.9 360.5 L220.4 360.2 L223 360.7 L225.5 361.8 L228 363 L230.6 362.8 L233.1 361.1 L235.6 359.8 L238.2 362.2 L240.7 364.5 L243.2 366.2 L245.8 366.6 L248.3 365.9 L250.8 365.6 L253.4 364.8 L255.9 367.8 L258.4 369.4 L261 369.2 L263.5 368.9 L266.1 369.8 L268.6 370.6 L271.1 371.3 L273.7 371 L276.2 371 L278.7 371.5 L281.3 372.7 L283.8 374.4 L286.3 375.4 L288.9 373.8 L291.4 369.9 L293.9 369.8 L296.5 369.9 L299 365.6 L301.5 363.3 L304.1 364.7 L306.6 364 L309.1 364.4 L311.7 365.6 L314.2 365.4 L316.8 363.6 L319.3 359.2 L321.8 358.1 L324.4 355.7 L326.9 352.1 L329.4 349.9 L332 346.5 L334.5 343.8 L337 342.4 L339.6 342 L342.1 340.2 L344.6 339.3 L347.2 338.3 L349.7 334.6 L352.2 333.2 L354.8 333.9 L357.3 329.9 L359.8 325.6 L362.4 320.4 L364.9 315.8 L367.5 311.8 L370 308.4 L372.5 305.4 L375.1 305.6 L377.6 308.7 L380.1 310.1 L382.7 310.4 L385.2 306 L387.7 302.1 L390.3 300.3 L392.8 297.5 L395.3 293.6 L397.9 288.8 L400.4 285.6 L402.9 279.3 L405.5 277.6 L408 279.5 L410.5 277.7 L413.1 274.5 L415.6 271.3 L418.2 265.4 L420.7 261.9 L423.2 260.8 L425.8 258.9 L428.3 254 L430.8 251.1 L433.4 250.5 L435.9 248.3 L438.4 244.7 L441 242 L443.5 237.9 L446 234.1 L448.6 232.2 L451.1 231.1 L453.6 230.9 L456.2 228 L458.7 225.9 L461.2 225.1 L463.8 225.1 L466.3 221.5 L468.9 220 L471.4 218.6 L473.9 216.5 L476.5 215.1 L479 213.8 L481.5 209.1 L484.1 200.7 L486.6 196.5 L489.1 193.9 L491.7 189.8 L494.2 187.4 L496.7 185.9 L499.3 184.5 L501.8 186.2 L504.3 188.1 L506.9 187.4 L509.4 186.7 L511.9 183.7 L514.5 180.2 L517 179.8 L519.5 178 L522.1 171 L524.6 162.7 L527.2 160.8 L529.7 162.9 L532.2 167.3 L534.8 166.9 L537.3 166.5 L539.8 165.6 L542.4 162.9 L544.9 162 L547.4 161.3 L550 160.6 L552.5 156.8 L555 155 L557.6 154.6 L560.1 151.2 L562.6 147.3 L565.2 141.2 L567.7 137.2 L570.2 136.4 L572.8 137.2 L575.3 137.8 L577.9 134.3 L580.4 132.4 L582.9 133.5 L585.5 137.1 L588 135.2 L590.5 133.4 L593.1 132.7 L595.6 132.7 L598.1 132.1 L600.7 132.2 L603.2 137.4 L605.7 141.1 L608.3 140.1 L610.8 139.4 L613.3 138.7 L615.9 135.1 L618.4 131.9 L621 128.4 L623.5 127.2 L626 127.1 L628.6 124.4 L631.1 120.7 L633.6 118.5 L636.2 114.8 L638.7 112.3 L641.2 109.7 L643.8 108.6 L646.3 110.8 L648.8 114.7 L651.4 113 L653.9 112.7 L656.4 120.9 L659 130.2 L661.5 134.1 L664 136.6 L666.6 139.8 L669.1 140.4 L671.7 137.8 L674.2 133.2 L676.7 131.6 L679.3 134.1 L681.8 137.2 L684.3 135.9 L686.9 135.3 L689.4 136.7 L691.9 138.5 L694.5 138.7 L697 138.8 L699.5 139 L702.1 138.7 L704.6 139.3 L707.1 142.3 L709.7 145.3 L712.2 146.1 L714.7 148.8 L717.3 147.5 L719.8 142.7 L722.4 140.7 L724.9 140.2 L727.4 140.3 L730 138.2 L732.5 139.1 L735 140.8 L737.6 142.8 L740.1 149 L742.6 152.7 L745.2 154.3 L747.7 156.7 L750.2 159.2 L752.8 160.8 L755.3 163 L757.8 166.9 L760.4 166.5 L762.9 166.4 L765.4 167.7 L768 170.8 L770.5 174.6 L773.1 179.4 L775.6 182.7 L778.1 185.8 L780.7 189.6 L783.2 193.2 L785.7 194.6 L788.3 194.7 L790.8 195.8 L793.3 197.6 L795.9 198.3 L798.4 199.8 L800.9 202.2 L803.5 202 L806 201.6 L808.5 200 L811.1 201.5 L813.6 206 L816.1 208.9 L818.7 210.4 L821.2 211.8 L823.8 213.5 L826.3 215.1 L828.8 218.3 L831.4 223.3 L833.9 226.3 L836.4 226 L839 229.3 L841.5 235.4 L844 240.2 L846.6 240.4 L849.1 242.1 L851.6 244.8 L854.2 247.3 L856.7 249.1 L859.2 247.8 L861.8 248.5 L864.3 250.4 L866.8 250.2 L869.4 250.1 L871.9 251.3 L874.5 251.1 L877 252.1 L879.5 253.6 L882.1 254.4 L884.6 255.8 L887.1 259.4 L889.7 267.3 L892.2 272.9 L894.7 275.7 L897.3 278.7 L899.8 283.2 L902.3 284.5 L904.9 284.6 L907.4 289.8 L909.9 294.3 L912.5 297.3 L915 297.4 L917.5 299.9 L920.1 304.1 L922.6 307.1 L925.2 309.6 L927.7 313.2 L930.2 313.7 L932.8 313.4 L935.3 312.5 L937.8 310.6 L940.4 309.6 L942.9 308.5 L945.4 308.6 L948 309 L950.5 311.3 L953 312 L955.6 313.6 L958.1 317.6 L960.6 320.3 L963.2 321.4 L965.7 321.5 L968.2 320.9 L970.8 322.2 L973.3 325.8 L975.9 328.3 L978.4 329.5 L980.9 329.8 L983.5 329.3 L986 330.2"/>
<path d="M63.2 346.9 L65.8 347.6 L68.3 348.4 L70.9 349.1 L73.4 349.5 L75.9 349.9 L78.5 351.5 L81 353.1 L83.5 354.6 L86.1 355.5 L88.6 355.5 L91.1 355.9 L93.7 355.7 L96.2 355.7 L98.7 355.6 L101.3 356.1 L103.8 357.2 L106.3 357.7 L108.9 356.1 L111.4 354.5 L114 355.6 L116.5 359 L119 361.8 L121.6 364 L124.1 365.5 L126.6 365.4 L129.2 365.4 L131.7 363.9 L134.2 362.4 L136.8 361.5 L139.3 361.8 L141.8 362.2 L144.4 362.6 L146.9 362.9 L149.4 362.6 L152 362.3 L154.5 361.5 L157 361.2 L159.6 362.2 L162.1 362.6 L164.7 364.3 L167.2 364.6 L169.7 364.9 L172.3 365 L174.8 364.2 L177.3 365 L179.9 366.6 L182.4 368.7 L184.9 370.2 L187.5 370.6 L190 370.5 L192.5 369.7 L195.1 372.1 L197.6 375.9 L200.1 378.1 L202.7 379.8 L205.2 381.3 L207.7 381.1 L210.3 380.2 L212.8 380.5 L215.4 379.2 L217.9 377.7 L220.4 375.8 L223 374.1 L225.5 375 L228 373.7 L230.6 372.5 L233.1 372.6 L235.6 373.1 L238.2 372.5 L240.7 370 L243.2 368.4 L245.8 365.6 L248.3 361.3 L250.8 358.9 L253.4 356.7 L255.9 354 L258.4 352.3 L261 352.2 L263.5 351.5 L266.1 352.6 L268.6 353 L271.1 352.2 L273.7 353.3 L276.2 356.5 L278.7 360 L281.3 362.4 L283.8 361.3 L286.3 360.4 L288.9 359.4 L291.4 358.5 L293.9 357.5 L296.5 355.3 L299 352.2 L301.5 350.8 L304.1 350.2 L306.6 349.2 L309.1 348 L311.7 346.4 L314.2 344.5 L316.8 343.3 L319.3 343.8 L321.8 345.4 L324.4 341.2 L326.9 338.5 L329.4 339 L332 339.5 L334.5 338.7 L337 337 L339.6 333 L342.1 328.5 L344.6 324 L347.2 320.5 L349.7 318.4 L352.2 315.3 L354.8 309.9 L357.3 307.7 L359.8 304.8 L362.4 301.2 L364.9 298.9 L367.5 297.3 L370 295.6 L372.5 294.3 L375.1 293.4 L377.6 295.5 L380.1 296.6 L382.7 296.1 L385.2 295.6 L387.7 297.5 L390.3 299.9 L392.8 300.5 L395.3 300.7 L397.9 298 L400.4 296.4 L402.9 296.1 L405.5 295.9 L408 296.3 L410.5 296.7 L413.1 293.4 L415.6 289 L418.2 285.9 L420.7 279.1 L423.2 275.3 L425.8 273.4 L428.3 274.1 L430.8 272.4 L433.4 268.9 L435.9 265.7 L438.4 259.8 L441 254.6 L443.5 253 L446 251.9 L448.6 252.1 L451.1 252.4 L453.6 248.5 L456.2 249.3 L458.7 252.4 L461.2 254.6 L463.8 251.6 L466.3 245.3 L468.9 243.8 L471.4 241.6 L473.9 236.9 L476.5 234.6 L479 230.9 L481.5 226 L484.1 218.6 L486.6 212.8 L489.1 211.2 L491.7 209.3 L494.2 205.1 L496.7 201.3 L499.3 196.6 L501.8 194.4 L504.3 192.9 L506.9 194.2 L509.4 193.2 L511.9 194.6 L514.5 196.5 L517 194.3 L519.5 191 L522.1 188.2 L524.6 184.6 L527.2 186.3 L529.7 187.1 L532.2 183.2 L534.8 179.1 L537.3 178.6 L539.8 175.3 L542.4 170.4 L544.9 166.5 L547.4 162.7 L550 158.3 L552.5 154.7 L555 154.2 L557.6 152.1 L560.1 150.1 L562.6 146.5 L565.2 143.3 L567.7 142.1 L570.2 136.1 L572.8 135.1 L575.3 137.2 L577.9 138.9 L580.4 140.8 L582.9 143 L585.5 143.6 L588 140.7 L590.5 138.5 L593.1 139.4 L595.6 140.9 L598.1 141.7 L600.7 142 L603.2 138.2 L605.7 137 L608.3 136.1 L610.8 135.4 L613.3 133.6 L615.9 132.2 L618.4 132.8 L621 133.5 L623.5 132.5 L626 132.6 L628.6 133 L631.1 131.4 L633.6 130.6 L636.2 128.9 L638.7 124.4 L641.2 120 L643.8 117.5 L646.3 119.1 L648.8 120.7 L651.4 122.7 L653.9 129.2 L656.4 132.6 L659 134.4 L661.5 134.2 L664 132.3 L666.6 135.5 L669.1 140.8 L671.7 144.1 L674.2 140.6 L676.7 138.6 L679.3 139 L681.8 139 L684.3 139 L686.9 139.9 L689.4 140.5 L691.9 142.8 L694.5 143.4 L697 146.4 L699.5 148.1 L702.1 147.8 L704.6 149.9 L707.1 152.1 L709.7 154.6 L712.2 158.9 L714.7 164.1 L717.3 167.2 L719.8 171.2 L722.4 173 L724.9 173.2 L727.4 168.4 L730 166.7 L732.5 168 L735 172 L737.6 173.5 L740.1 170.8 L742.6 170.9 L745.2 174.7 L747.7 180.7 L750.2 187.1 L752.8 188.2 L755.3 185 L757.8 180.3 L760.4 179.4 L762.9 180.1 L765.4 184 L768 190.1 L770.5 195.3 L773.1 194.9 L775.6 192.3 L778.1 193 L780.7 199.3 L783.2 205.1 L785.7 209.2 L788.3 211.3 L790.8 213 L793.3 216 L795.9 218.8 L798.4 218.8 L800.9 217 L803.5 217 L806 216.7 L808.5 217.8 L811.1 219.6 L813.6 220.3 L816.1 219.9 L818.7 221.7 L821.2 225.2 L823.8 222.5 L826.3 220.2 L828.8 219.1 L831.4 221.7 L833.9 226.2 L836.4 229.8 L839 230.3 L841.5 232 L844 237.1 L846.6 237.8 L849.1 237.3 L851.6 236.7 L854.2 239.6 L856.7 243.8 L859.2 246 L861.8 247 L864.3 248.7 L866.8 249.5 L869.4 252.3 L871.9 257 L874.5 258.4 L877 259.2 L879.5 261.8 L882.1 264 L884.6 268.3 L887.1 273.6 L889.7 275.6 L892.2 276.5 L894.7 278.5 L897.3 282.5 L899.8 287 L902.3 291.2 L904.9 294 L907.4 296.7 L909.9 301 L912.5 303.8 L915 304.3 L917.5 305.9 L920.1 306.5 L922.6 305.4 L925.2 304.9 L927.7 307.4 L930.2 311.8 L932.8 317.7 L935.3 322.4 L937.8 322.4 L940.4 325 L942.9 328.5 L945.4 330.8 L948 332 L950.5 332 L953 333 L955.6 332.6 L958.1 333.8 L960.6 334.1 L963.2 334.5 L965.7 334.6 L968.2 334.1 L970.8 334.3 L973.3 334.8 L975.9 335.4 L978.4 335.7 L980.9 336.3 L983.5 338.9 L986 340.6"/>
<path d="M63.2 332.7 L65.8 333.5 L68.3 334.2 L70.9 335 L73.4 335.8 L75.9 336.8 L78.5 338.3 L81 340.6 L83.5 341.4 L86.1 341 L88.6 340.1 L91.1 339.9 L93.7 340.1 L96.2 341 L98.7 342.1 L101.3 343 L103.8 343.5 L106.3 344.3 L108.9 345.1 L111.4 346.3 L114 348.3 L116.5 350.7 L119 353.3 L121.6 355.2 L124.1 355.1 L126.6 353.2 L129.2 352.5 L131.7 352.3 L134.2 352.5 L136.8 353.1 L139.3 353.2 L141.8 353.6 L144.4 354 L146.9 354.9 L149.4 355.6 L152 356.2 L154.5 358.4 L157 360.9 L159.6 361.8 L162.1 361.3 L164.7 359.6 L167.2 359 L169.7 359.4 L172.3 361.8 L174.8 364.2 L177.3 366.1 L179.9 368.3 L182.4 369.9 L184.9 371.2 L187.5 372.9 L190 374.1 L192.5 373.9 L195.1 374.3 L197.6 374.3 L200.1 373.2 L202.7 373.4 L205.2 373.6 L207.7 374.4 L210.3 373.3 L212.8 372.2 L215.4 371.5 L217.9 369.6 L220.4 367.5 L223 365.8 L225.5 363.2 L228 362.2 L230.6 362.3 L233.1 363.3 L235.6 361.7 L238.2 359.3 L240.7 359 L243.2 359.8 L245.8 358.5 L248.3 358.8 L250.8 361 L253.4 362.9 L255.9 363.8 L258.4 364.1 L261 366.7 L263.5 368.7 L266.1 368.5 L268.6 368.9 L271.1 367.1 L273.7 364.8 L276.2 365.7 L278.7 366.3 L281.3 364.3 L283.8 362.9 L286.3 360.6 L288.9 359.3 L291.4 359.4 L293.9 357.2 L296.5 357.3 L299 354.7 L301.5 350.3 L304.1 348 L306.6 345.3 L309.1 342.6 L311.7 340.1 L314.2 339.4 L316.8 339.4 L319.3 339 L321.8 337.6 L324.4 335.7 L326.9 333.8 L329.4 331.1 L332 328.8 L334.5 328 L337 327 L339.6 324.2 L342.1 322.8 L344.6 324.7 L347.2 325 L349.7 324.3 L352.2 323.3 L354.8 319.7 L357.3 315.2 L359.8 313.2 L362.4 311.9 L364.9 309.9 L367.5 308 L370 304.1 L372.5 301.5 L375.1 301.1 L377.6 301.4 L380.1 302.6 L382.7 299.1 L385.2 293.7 L387.7 289.6 L390.3 288.9 L392.8 287.1 L395.3 284.7 L397.9 284 L400.4 286.8 L402.9 287.2 L405.5 286.9 L408 286.3 L410.5 284.9 L413.1 282.7 L415.6 281 L418.2 279.9 L420.7 280.7 L423.2 279.3 L425.8 276 L428.3 271.9 L430.8 267.9 L433.4 264.1 L435.9 260 L438.4 255.1 L441 251.3 L443.5 249 L446 246 L448.6 247.5 L451.1 249.4 L453.6 251 L456.2 252.8 L458.7 249.2 L461.2 242.6 L463.8 240.8 L466.3 238.1 L468.9 233.1 L471.4 228.1 L473.9 227 L476.5 228.8 L479 224.8 L481.5 219.3 L484.1 214.7 L486.6 207.5 L489.1 201.8 L491.7 197 L494.2 190.7 L496.7 186.4 L499.3 186.5 L501.8 184.1 L504.3 181.6 L506.9 178.6 L509.4 176 L511.9 174.1 L514.5 177.1 L517 182.4 L519.5 182.1 L522.1 180 L524.6 178.2 L527.2 180.1 L529.7 182.6 L532.2 183.2 L534.8 177.8 L537.3 173 L539.8 167.4 L542.4 162.5 L544.9 160.2 L547.4 156 L550 154.6 L552.5 152.6 L555 153 L557.6 151.7 L560.1 148.3 L562.6 144.6 L565.2 138.9 L567.7 136.3 L570.2 139.2 L572.8 138.7 L575.3 136.8 L577.9 134.8 L580.4 132.2 L582.9 130.8 L585.5 130.7 L588 128.4 L590.5 122.8 L593.1 118.4 L595.6 117 L598.1 116.6 L600.7 115.6 L603.2 110.6 L605.7 109.5 L608.3 112.9 L610.8 113.5 L613.3 115.2 L615.9 116.3 L618.4 115.6 L621 114.3 L623.5 114 L626 115.1 L628.6 110.5 L631.1 104.4 L633.6 105.2 L636.2 104.6 L638.7 103.6 L641.2 102.2 L643.8 102.9 L646.3 103.6 L648.8 102.5 L651.4 101.6 L653.9 101.1 L656.4 101.2 L659 101.2 L661.5 100.6 L664 101.7 L666.6 104.9 L669.1 111 L671.7 114.5 L674.2 120.3 L676.7 122.4 L679.3 124 L681.8 122.6 L684.3 122.3 L686.9 120.2 L689.4 121.1 L691.9 120.5 L694.5 123.1 L697 125.9 L699.5 125.9 L702.1 127.5 L704.6 130.5 L707.1 135.4 L709.7 140.6 L712.2 142.9 L714.7 144.6 L717.3 146.6 L719.8 147.2 L722.4 145.4 L724.9 145.1 L727.4 146.7 L730 149.1 L732.5 148.4 L735 146.4 L737.6 142.7 L740.1 140.4 L742.6 142.1 L745.2 145 L747.7 144.9 L750.2 145.7 L752.8 148.8 L755.3 149.1 L757.8 150.2 L760.4 151.2 L762.9 152.2 L765.4 154.6 L768 158.8 L770.5 163.2 L773.1 165.2 L775.6 163.9 L778.1 164 L780.7 165.9 L783.2 168.1 L785.7 169.4 L788.3 171.7 L790.8 175.5 L793.3 177.5 L795.9 178.8 L798.4 178.9 L800.9 179.8 L803.5 181 L806 183.1 L808.5 185.2 L811.1 186.5 L813.6 188 L816.1 190.4 L818.7 193.2 L821.2 194.7 L823.8 196.2 L826.3 198.2 L828.8 200 L831.4 202.3 L833.9 204.5 L836.4 207.1 L839 210.1 L841.5 213.3 L844 215 L846.6 216.8 L849.1 218.5 L851.6 220.2 L854.2 222.8 L856.7 225.5 L859.2 227.5 L861.8 230.9 L864.3 232.8 L866.8 234.4 L869.4 236.8 L871.9 240 L874.5 242.4 L877 244.3 L879.5 246.3 L882.1 248.3 L884.6 250.3 L887.1 252.2 L889.7 254.8 L892.2 257.6 L894.7 259.8 L897.3 262.6 L899.8 265.1 L902.3 266.7 L904.9 268.5 L907.4 270.5 L909.9 273.5 L912.5 276 L915 277.4 L917.5 279.9 L920.1 281.8 L922.6 283.3 L925.2 285.4 L927.7 287.8 L930.2 289.8 L932.8 291.4 L935.3 291.9 L937.8 292.9 L940.4 295.3 L942.9 298.1 L945.4 302.5 L948 304.7 L950.5 305.1 L953 307.2 L955.6 309.6 L958.1 311.6 L960.6 314.2 L963.2 314.6 L965.7 317 L968.2 321.8 L970.8 325.1 L973.3 326.3 L975.9 328.8 L978.4 330.6 L980.9 330.7 L983.5 330.4 L986 330.5"/>
<path d="M63.2 346.4 L65.8 346.3 L68.3 346.9 L70.9 347.5 L73.4 347.4 L75.9 348.5 L78.5 351.3 L81 352.3 L83.5 353.6 L86.1 354 L88.6 354 L91.1 353.3 L93.7 353.4 L96.2 354.6 L98.7 355.5 L101.3 356.7 L103.8 357.4 L106.3 357.8 L108.9 359.3 L111.4 360.6 L114 360.7 L116.5 360.2 L119 360.3 L121.6 360.7 L124.1 360.4 L126.6 361 L129.2 362.7 L131.7 364.5 L134.2 365.2 L136.8 364.9 L139.3 364.9 L141.8 365.6 L144.4 365.8 L146.9 365.3 L149.4 365.7 L152 367.1 L154.5 367.8 L157 368.6 L159.6 369.4 L162.1 370.3 L164.7 371.5 L167.2 372.5 L169.7 372.9 L172.3 374.2 L174.8 375.4 L177.3 376.4 L179.9 376.7 L182.4 376.4 L184.9 376 L187.5 375.6 L190 376.9 L192.5 378.3 L195.1 379 L197.6 377.8 L200.1 377.3 L202.7 376.7 L205.2 375.2 L207.7 374.4 L210.3 374.2 L212.8 373.6 L215.4 373.6 L217.9 376.2 L220.4 377.2 L223 376.5 L225.5 375.7 L228 374.4 L230.6 374.3 L233.1 374.7 L235.6 375.3 L238.2 374.6 L240.7 373.1 L243.2 372.3 L245.8 372.1 L248.3 372.4 L250.8 373.3 L253.4 373.7 L255.9 374.9 L258.4 375.2 L261 373.9 L263.5 372.9 L266.1 373.4 L268.6 372.8 L271.1 372.4 L273.7 370.4 L276.2 368.6 L278.7 367 L281.3 366 L283.8 364.9 L286.3 364.1 L288.9 362.3 L291.4 363.4 L293.9 364.5 L296.5 361.7 L299 358.6 L301.5 356.6 L304.1 354.4 L306.6 355.3 L309.1 355.6 L311.7 354 L314.2 351.8 L316.8 350.8 L319.3 349.4 L321.8 348.6 L324.4 349 L326.9 349.2 L329.4 347.6 L332 343.8 L334.5 343 L337 344.1 L339.6 345.5 L342.1 344.6 L344.6 344.4 L347.2 342 L349.7 340.8 L352.2 341.7 L354.8 345.1 L357.3 345.8 L359.8 345.3 L362.4 345.7 L364.9 342.8 L367.5 340.5 L370 338.4 L372.5 334.7 L375.1 332.1 L377.6 330.5 L380.1 327.5 L382.7 325.3 L385.2 322.7 L387.7 318.6 L390.3 316 L392.8 314.6 L395.3 312.5 L397.9 309.3 L400.4 305.7 L402.9 301.9 L405.5 298.4 L408 295.3 L410.5 291.4 L413.1 286.3 L415.6 276.4 L418.2 268.7 L420.7 263.6 L423.2 259 L425.8 255.5 L428.3 252.3 L430.8 247.5 L433.4 244 L435.9 243.7 L438.4 242.7 L441 238 L443.5 235.1 L446 234.2 L448.6 237.2 L451.1 239.2 L453.6 239.7 L456.2 241.1 L458.7 237.5 L461.2 233 L463.8 228.1 L466.3 224.9 L468.9 221.8 L471.4 218.9 L473.9 217.9 L476.5 213.8 L479 209.7 L481.5 206.6 L484.1 205 L486.6 203.2 L489.1 204.7 L491.7 205.5 L494.2 204 L496.7 200.8 L499.3 199.3 L501.8 196.6 L504.3 196.6 L506.9 199 L509.4 197.7 L511.9 193.6 L514.5 193.6 L517 191 L519.5 186.6 L522.1 187.1 L524.6 191.4 L527.2 191.6 L529.7 188.3 L532.2 184.7 L534.8 185.4 L537.3 185.7 L539.8 185.2 L542.4 182.5 L544.9 180.1 L547.4 178.5 L550 177.4 L552.5 177.1 L555 173.9 L557.6 170.9 L560.1 169.5 L562.6 165.7 L565.2 164.5 L567.7 164.2 L570.2 161.4 L572.8 156.6 L575.3 153.7 L577.9 152.6 L580.4 151.8 L582.9 151.7 L585.5 153.5 L588 155.5 L590.5 155.7 L593.1 154.1 L595.6 151.7 L598.1 151 L600.7 151.4 L603.2 151.1 L605.7 150.9 L608.3 148.4 L610.8 146.3 L613.3 146.4 L615.9 145.8 L618.4 142.6 L621 141.7 L623.5 142.7 L626 141.6 L628.6 138.5 L631.1 134.2 L633.6 131.1 L636.2 127.9 L638.7 125.3 L641.2 122.4 L643.8 121.9 L646.3 121.7 L648.8 120 L651.4 118 L653.9 117.1 L656.4 118.3 L659 119.3 L661.5 118.2 L664 117.4 L666.6 121.5 L669.1 126.1 L671.7 126 L674.2 122.7 L676.7 122.7 L679.3 125.1 L681.8 128 L684.3 130.3 L686.9 129.5 L689.4 130.6 L691.9 133.5 L694.5 134 L697 133.1 L699.5 134.3 L702.1 134.4 L704.6 132.6 L707.1 132.2 L709.7 135 L712.2 137.9 L714.7 140.8 L717.3 145.5 L719.8 152 L722.4 158.1 L724.9 161.4 L727.4 164 L730 165.8 L732.5 169.6 L735 172.9 L737.6 174.4 L740.1 176.1 L742.6 176.7 L745.2 177.2 L747.7 177 L750.2 177.4 L752.8 182.6 L755.3 187.2 L757.8 191.4 L760.4 193.8 L762.9 194.8 L765.4 193.7 L768 195 L770.5 198.3 L773.1 199.1 L775.6 198.2 L778.1 198.7 L780.7 199.2 L783.2 198.5 L785.7 200.7 L788.3 201.7 L790.8 202.6 L793.3 204.3 L795.9 204.2 L798.4 205 L800.9 204.7 L803.5 202 L806 202.8 L808.5 205 L811.1 207.2 L813.6 209.2 L816.1 212.8 L818.7 218.5 L821.2 224.7 L823.8 226.9 L826.3 228 L828.8 227.6 L831.4 229 L833.9 230.6 L836.4 231.8 L839 235.5 L841.5 238.2 L844 241 L846.6 244.8 L849.1 250.5 L851.6 255.9 L854.2 257.7 L856.7 259 L859.2 261.6 L861.8 264.6 L864.3 268.6 L866.8 272.9 L869.4 275.3 L871.9 276.5 L874.5 277.1 L877 275.3 L879.5 276.8 L882.1 280.2 L884.6 283.3 L887.1 285.4 L889.7 288.1 L892.2 290.1 L894.7 291.5 L897.3 295.1 L899.8 298.9 L902.3 301.1 L904.9 303.9 L907.4 307.9 L909.9 309.2 L912.5 309.3 L915 310.6 L917.5 312.9 L920.1 312.6 L922.6 313.3 L925.2 313.3 L927.7 314.2 L930.2 315.6 L932.8 317.1 L935.3 316.6 L937.8 315.5 L940.4 316.6 L942.9 319.5 L945.4 321 L948 321.8 L950.5 323.8 L953 324.1 L955.6 324.1 L958.1 325.8 L960.6 327.3 L963.2 330.4 L965.7 330.7 L968.2 330.7 L970.8 332.4 L973.3 334.8 L975.9 336.3 L978.4 336.2 L980.9 337 L983.5 340.4 L986 342.8"/>
<path d="M63.2 335.4 L65.8 337.1 L68.3 338.4 L70.9 338.4 L73.4 339 L75.9 339.6 L78.5 339.9 L81 340 L83.5 339.9 L86.1 340.8 L88.6 341.8 L91.1 342.9 L93.7 343.6 L96.2 343.8 L98.7 344.5 L101.3 345.3 L103.8 347.6 L106.3 348.6 L108.9 348.4 L111.4 349.7 L114 351.4 L116.5 353.6 L119 354.9 L121.6 357.5 L124.1 359.4 L126.6 360.7 L129.2 360.6 L131.7 361 L134.2 362.1 L136.8 363 L139.3 363 L141.8 364 L144.4 365.3 L146.9 366 L149.4 366.1 L152 364.5 L154.5 365.3 L157 367.2 L159.6 367.3 L162.1 367.3 L164.7 367.6 L167.2 368.1 L169.7 369.8 L172.3 371.7 L174.8 373.6 L177.3 375.3 L179.9 375.9 L182.4 378 L184.9 381.2 L187.5 381.1 L190 379.6 L192.5 379.6 L195.1 378.1 L197.6 377.9 L200.1 377.9 L202.7 378.4 L205.2 379 L207.7 377.7 L210.3 376.1 L212.8 376.8 L215.4 376.6 L217.9 375.8 L220.4 374.5 L223 372.4 L225.5 373.2 L228 372.8 L230.6 371.2 L233.1 369.5 L235.6 368.9 L238.2 368.1 L240.7 368.2 L243.2 367.8 L245.8 366.3 L248.3 365.1 L250.8 363.6 L253.4 363.3 L255.9 363.6 L258.4 362.2 L261 361.3 L263.5 359.5 L266.1 358.8 L268.6 358 L271.1 356.1 L273.7 354.6 L276.2 354.2 L278.7 354 L281.3 355.1 L283.8 353.2 L286.3 348.4 L288.9 345.4 L291.4 344.2 L293.9 342.1 L296.5 341.6 L299 342.9 L301.5 344.7 L304.1 345.2 L306.6 344.8 L309.1 343.7 L311.7 340.4 L314.2 337.3 L316.8 334.7 L319.3 334 L321.8 333.3 L324.4 332.5 L326.9 333.9 L329.4 335.6 L332 336.6 L334.5 334 L337 329.6 L339.6 327.2 L342.1 327.3 L344.6 327.1 L347.2 326.4 L349.7 323.5 L352.2 319.6 L354.8 319.4 L357.3 320.3 L359.8 319.2 L362.4 316.7 L364.9 315 L367.5 309 L370 304.6 L372.5 301.9 L375.1 300.7 L377.6 302.3 L380.1 304.1 L382.7 302.4 L385.2 301.1 L387.7 299.4 L390.3 297.4 L392.8 294.8 L395.3 290.1 L397.9 285.9 L400.4 282.7 L402.9 279.2 L405.5 275.4 L408 272.8 L410.5 271.2 L413.1 272.1 L415.6 270.1 L418.2 265.6 L420.7 261.4 L423.2 259.9 L425.8 257.1 L428.3 255.3 L430.8 251.6 L433.4 250.9 L435.9 252.3 L438.4 251.9 L441 250.6 L443.5 253.4 L446 250.5 L448.6 247.3 L451.1 245.7 L453.6 242.7 L456.2 240.6 L458.7 237.4 L461.2 235.7 L463.8 237.4 L466.3 234.7 L468.9 233.4 L471.4 233.8 L473.9 234.5 L476.5 232.3 L479 230 L481.5 228.4 L484.1 225.9 L486.6 222.9 L489.1 223.4 L491.7 220.4 L494.2 217.2 L496.7 217.3 L499.3 216.8 L501.8 212.6 L504.3 210.5 L506.9 207.6 L509.4 202.3 L511.9 201.4 L514.5 199.1 L517 193 L519.5 190.5 L522.1 193.5 L524.6 195.2 L527.2 193.8 L529.7 193.9 L532.2 193.8 L534.8 192.4 L537.3 192.4 L539.8 190.5 L542.4 184.8 L544.9 181.5 L547.4 179.3 L550 177.1 L552.5 175.2 L555 172.9 L557.6 169.2 L560.1 164.8 L562.6 163.4 L565.2 161.1 L567.7 159 L570.2 158.5 L572.8 159.8 L575.3 157.3 L577.9 154.8 L580.4 151.7 L582.9 151 L585.5 148.1 L588 145.7 L590.5 143.5 L593.1 142.2 L595.6 141 L598.1 143.1 L600.7 142.6 L603.2 140.4 L605.7 138.4 L608.3 134.5 L610.8 132.2 L613.3 134.6 L615.9 138.5 L618.4 137.5 L621 138.3 L623.5 136.8 L626 135 L628.6 131.4 L631.1 130.2 L633.6 129 L636.2 127.3 L638.7 124.7 L641.2 122.2 L643.8 120 L646.3 119.3 L648.8 121.4 L651.4 124.8 L653.9 127.3 L656.4 126.1 L659 127.5 L661.5 132.5 L664 139.2 L666.6 140.4 L669.1 140.5 L671.7 144.9 L674.2 150 L676.7 154.4 L679.3 155.7 L681.8 154.5 L684.3 153.1 L686.9 153.6 L689.4 157.5 L691.9 162 L694.5 167.1 L697 172.6 L699.5 175 L702.1 174.9 L704.6 170.3 L707.1 166.5 L709.7 168.5 L712.2 170.6 L714.7 171.2 L717.3 170.3 L719.8 172.3 L722.4 174.9 L724.9 172.4 L727.4 169.2 L730 170.1 L732.5 171 L735 170.3 L737.6 168.6 L740.1 165.5 L742.6 165.3 L745.2 168.9 L747.7 169.1 L750.2 168.9 L752.8 171.5 L755.3 176.1 L757.8 177.6 L760.4 179.9 L762.9 184.1 L765.4 185.8 L768 187.3 L770.5 188.1 L773.1 191.3 L775.6 191.1 L778.1 190.8 L780.7 191.8 L783.2 190.2 L785.7 187.9 L788.3 187.9 L790.8 188.7 L793.3 191.8 L795.9 196.8 L798.4 200.1 L800.9 202.3 L803.5 201.4 L806 201.5 L808.5 204.4 L811.1 207.1 L813.6 208.5 L816.1 209.9 L818.7 211.6 L821.2 213.4 L823.8 214.8 L826.3 218.9 L828.8 223.5 L831.4 225.6 L833.9 226.4 L836.4 229 L839 233.9 L841.5 237.7 L844 238.7 L846.6 242.5 L849.1 243.7 L851.6 246.6 L854.2 247.5 L856.7 246 L859.2 248.3 L861.8 252.3 L864.3 257.7 L866.8 261 L869.4 263.9 L871.9 267.4 L874.5 269.4 L877 274.4 L879.5 280 L882.1 282.6 L884.6 285.7 L887.1 286.9 L889.7 288.5 L892.2 290.1 L894.7 293.1 L897.3 297.1 L899.8 301.6 L902.3 304.8 L904.9 306.1 L907.4 306.8 L909.9 306.5 L912.5 308.6 L915 310.5 L917.5 311.6 L920.1 312.4 L922.6 313 L925.2 312.2 L927.7 312.5 L930.2 313.6 L932.8 314.9 L935.3 316.3 L937.8 316.7 L940.4 318.6 L942.9 322 L945.4 324.4 L948 326.4 L950.5 329 L953 331 L955.6 330.7 L958.1 330.7 L960.6 333 L963.2 337.3 L965.7 339.7 L968.2 338.9 L970.8 339.9 L973.3 340.9 L975.9 341.6 L978.4 342.3 L980.9 342.7 L983.5 344.4 L986 345.5"/>
<path d="M63.2 331.7 L65.8 332.3 L68.3 332.7 L70.9 333.1 L73.4 333.7 L75.9 334.1 L78.5 334.6 L81 335.9 L83.5 337.1 L86.1 338.4 L88.6 339.6 L91.1 339.7 L93.7 340.3 L96.2 341.5 L98.7 342.5 L101.3 343.5 L103.8 345.2 L106.3 346.6 L108.9 346.5 L111.4 346.8 L114 348.3 L116.5 349.1 L119 350.7 L121.6 351.3 L124.1 351.2 L126.6 351.6 L129.2 351.9 L131.7 352.8 L134.2 353.9 L136.8 354.7 L139.3 355.3 L141.8 356.1 L144.4 355.8 L146.9 358.5 L149.4 360.8 L152 360.7 L154.5 359.4 L157 358.5 L159.6 358.4 L162.1 358.4 L164.7 359.4 L167.2 360.9 L169.7 361.8 L172.3 362.8 L174.8 364.4 L177.3 366.9 L179.9 368.2 L182.4 368 L184.9 367.6 L187.5 366.6 L190 366.3 L192.5 366.8 L195.1 366.7 L197.6 366.6 L200.1 368.1 L202.7 369.5 L205.2 369.5 L207.7 368.5 L210.3 366.5 L212.8 365.1 L215.4 364.8 L217.9 364.5 L220.4 365.1 L223 366.1 L225.5 366.1 L228 365.2 L230.6 365.6 L233.1 366.5 L235.6 365.7 L238.2 363.6 L240.7 362.9 L243.2 363 L245.8 361.7 L248.3 360.6 L250.8 359.4 L253.4 358 L255.9 357.7 L258.4 357.7 L261 356.9 L263.5 356.5 L266.1 357.4 L268.6 356.6 L271.1 356.7 L273.7 357.4 L276.2 356.7 L278.7 356.6 L281.3 359.4 L283.8 359.7 L286.3 357.8 L288.9 355.1 L291.4 352 L293.9 349.5 L296.5 350.9 L299 350.4 L301.5 349.7 L304.1 348.2 L306.6 346.4 L309.1 343.8 L311.7 341.8 L314.2 340 L316.8 337.5 L319.3 336.3 L321.8 336.4 L324.4 338.9 L326.9 339.3 L329.4 340.4 L332 340.7 L334.5 337.7 L337 336.9 L339.6 335.2 L342.1 334.8 L344.6 338 L347.2 340.6 L349.7 339.6 L352.2 339.2 L354.8 337.1 L357.3 334.1 L359.8 331.6 L362.4 328.6 L364.9 327.1 L367.5 329.7 L370 328.9 L372.5 324.6 L375.1 322.8 L377.6 324.9 L380.1 326.4 L382.7 325.7 L385.2 327.9 L387.7 329.5 L390.3 329.5 L392.8 323.6 L395.3 319.7 L397.9 316.5 L400.4 315.3 L402.9 311.9 L405.5 307.9 L408 304.9 L410.5 304 L413.1 299.5 L415.6 294.5 L418.2 290 L420.7 289 L423.2 283.5 L425.8 277.3 L428.3 273.8 L430.8 272.2 L433.4 268.9 L435.9 262.2 L438.4 255.6 L441 251 L443.5 249.9 L446 249.1 L448.6 244.2 L451.1 236.4 L453.6 230.2 L456.2 231.3 L458.7 233.2 L461.2 234.5 L463.8 232.4 L466.3 226.6 L468.9 219 L471.4 215.3 L473.9 212.5 L476.5 207.9 L479 207.3 L481.5 206 L484.1 206.1 L486.6 205.8 L489.1 207.6 L491.7 209.9 L494.2 207.4 L496.7 206.8 L499.3 203.2 L501.8 195.3 L504.3 186.4 L506.9 183.4 L509.4 182.8 L511.9 182.8 L514.5 186.3 L517 187.9 L519.5 184.8 L522.1 179 L524.6 174 L527.2 171.1 L529.7 172.1 L532.2 171.9 L534.8 170.3 L537.3 168.7 L539.8 165.4 L542.4 161.3 L544.9 160.1 L547.4 159 L550 155.4 L552.5 153.7 L555 154.5 L557.6 159.2 L560.1 160.2 L562.6 159 L565.2 161 L567.7 162.5 L570.2 162.1 L572.8 162.3 L575.3 159.2 L577.9 154.2 L580.4 147.1 L582.9 142.1 L585.5 139 L588 138.1 L590.5 137.3 L593.1 136.2 L595.6 135.6 L598.1 132.7 L600.7 131 L603.2 133.1 L605.7 139.1 L608.3 142.2 L610.8 140.9 L613.3 136 L615.9 134.2 L618.4 136.7 L621 139 L623.5 142.4 L626 142.3 L628.6 140.5 L631.1 133.6 L633.6 127.9 L636.2 123.7 L638.7 122.4 L641.2 123.3 L643.8 124.8 L646.3 125.6 L648.8 125.7 L651.4 124.7 L653.9 124.2 L656.4 123.9 L659 124.1 L661.5 124 L664 125.1 L666.6 127.5 L669.1 131 L671.7 138 L674.2 144.1 L676.7 144.6 L679.3 143.9 L681.8 143.8 L684.3 145.1 L686.9 148.8 L689.4 150.5 L691.9 150.8 L694.5 150.4 L697 152.6 L699.5 154.5 L702.1 152.7 L704.6 154 L707.1 155.9 L709.7 157.5 L712.2 160.4 L714.7 161 L717.3 160 L719.8 160.9 L722.4 163.1 L724.9 159.5 L727.4 157.1 L730 159.9 L732.5 160.7 L735 163 L737.6 167.8 L740.1 168.3 L742.6 170.7 L745.2 171.7 L747.7 170.6 L750.2 168.6 L752.8 168 L755.3 170.1 L757.8 171.1 L760.4 173.9 L762.9 177.5 L765.4 180.8 L768 181.3 L770.5 184.5 L773.1 188.5 L775.6 190.1 L778.1 189.5 L780.7 187.3 L783.2 186.1 L785.7 188.5 L788.3 192.6 L790.8 194.7 L793.3 198.9 L795.9 203.7 L798.4 207.4 L800.9 212.4 L803.5 215.4 L806 215.6 L808.5 216.5 L811.1 218.2 L813.6 218.3 L816.1 216.3 L818.7 215.2 L821.2 217.2 L823.8 219.1 L826.3 222.9 L828.8 226.3 L831.4 229.5 L833.9 230.1 L836.4 233.9 L839 237.6 L841.5 238.8 L844 240.7 L846.6 244.8 L849.1 248.3 L851.6 251.7 L854.2 253.9 L856.7 253.2 L859.2 252.3 L861.8 249.2 L864.3 250.8 L866.8 252.6 L869.4 253.6 L871.9 257.5 L874.5 259.6 L877 260.1 L879.5 258.3 L882.1 258.3 L884.6 261.3 L887.1 266.6 L889.7 267 L892.2 266 L894.7 265.2 L897.3 264.3 L899.8 266.3 L902.3 268.5 L904.9 271.4 L907.4 274.1 L909.9 275.9 L912.5 278.4 L915 283.4 L917.5 288.4 L920.1 291.8 L922.6 293.8 L925.2 295.2 L927.7 295.3 L930.2 294.4 L932.8 295.7 L935.3 296.6 L937.8 297.9 L940.4 298.2 L942.9 298.8 L945.4 300.1 L948 303.5 L950.5 308.8 L953 311.4 L955.6 313.5 L958.1 314.9 L960.6 315.6 L963.2 317.8 L965.7 317.7 L968.2 318.5 L970.8 319.1 L973.3 318.5 L975.9 319.1 L978.4 320.6 L980.9 321.6 L983.5 322.9 L986 324.4"/>
<path d="M63.2 335.4 L65.8 335.6 L68.3 335 L70.9 335.2 L73.4 336.1 L75.9 336.6 L78.5 336.7 L81 337.1 L83.5 338 L86.1 339.4 L88.6 340.2 L91.1 340.6 L93.7 341.1 L96.2 341.6 L98.7 342.6 L101.3 344.5 L103.8 347.5 L106.3 348.9 L108.9 349.4 L111.4 351.2 L114 353.3 L116.5 352 L119 350.2 L121.6 350 L124.1 350.7 L126.6 351 L129.2 351.7 L131.7 353.4 L134.2 356.8 L136.8 359.4 L139.3 361 L141.8 363.2 L144.4 363.3 L146.9 363.2 L149.4 363.8 L152 363.7 L154.5 362.7 L157 362.7 L159.6 366.4 L162.1 369.4 L164.7 370.1 L167.2 368.7 L169.7 368.7 L172.3 369.8 L174.8 369.7 L177.3 369.8 L179.9 370.3 L182.4 370.8 L184.9 369.9 L187.5 368.8 L190 366.9 L192.5 366.3 L195.1 367.9 L197.6 367.8 L200.1 366.5 L202.7 365.5 L205.2 363.5 L207.7 361.4 L210.3 359.6 L212.8 360 L215.4 362.5 L217.9 365.3 L220.4 365 L223 362.7 L225.5 360.5 L228 360.2 L230.6 361.8 L233.1 363.4 L235.6 362.7 L238.2 362.5 L240.7 363.5 L243.2 364.3 L245.8 365.2 L248.3 365.4 L250.8 363.9 L253.4 362.9 L255.9 363.3 L258.4 361.6 L261 358.9 L263.5 356.5 L266.1 355.9 L268.6 354.3 L271.1 354 L273.7 352 L276.2 351.9 L278.7 355 L281.3 357.7 L283.8 359.4 L286.3 358.3 L288.9 356.8 L291.4 354.3 L293.9 352.3 L296.5 352.1 L299 350.6 L301.5 349.5 L304.1 347.9 L306.6 346.6 L309.1 348.2 L311.7 348.9 L314.2 349.6 L316.8 347.7 L319.3 347.7 L321.8 345.2 L324.4 344.2 L326.9 346.2 L329.4 344.6 L332 341.5 L334.5 339.7 L337 340.7 L339.6 337.5 L342.1 335.6 L344.6 335.3 L347.2 335.4 L349.7 331.6 L352.2 326.7 L354.8 325.4 L357.3 320.8 L359.8 317.3 L362.4 316.7 L364.9 317.6 L367.5 319.5 L370 320.7 L372.5 320.4 L375.1 314.8 L377.6 309.4 L380.1 309 L382.7 306.8 L385.2 301.6 L387.7 297.3 L390.3 295.1 L392.8 295.8 L395.3 296.1 L397.9 290.6 L400.4 282.3 L402.9 274.2 L405.5 271.1 L408 264.8 L410.5 260.4 L413.1 255.6 L415.6 250.4 L418.2 247.1 L420.7 245.3 L423.2 243 L425.8 239.7 L428.3 235.2 L430.8 232.9 L433.4 232.1 L435.9 233.7 L438.4 230.5 L441 228.3 L443.5 226.1 L446 224.2 L448.6 220.7 L451.1 216 L453.6 209.8 L456.2 206.9 L458.7 205.1 L461.2 201.3 L463.8 198 L466.3 195.1 L468.9 191.7 L471.4 189.7 L473.9 188.5 L476.5 186.8 L479 183.6 L481.5 181.1 L484.1 179.2 L486.6 176.4 L489.1 175.8 L491.7 176 L494.2 173.4 L496.7 168.6 L499.3 165.4 L501.8 164.2 L504.3 167.8 L506.9 167.6 L509.4 167.8 L511.9 169.5 L514.5 169.2 L517 168.6 L519.5 164 L522.1 159.2 L524.6 155.6 L527.2 156.3 L529.7 159.1 L532.2 160.6 L534.8 160.2 L537.3 157.8 L539.8 156.5 L542.4 161.3 L544.9 164.7 L547.4 162.7 L550 159.4 L552.5 158.3 L555 156.2 L557.6 153.1 L560.1 151.2 L562.6 151.8 L565.2 150.6 L567.7 143.5 L570.2 139.5 L572.8 134.1 L575.3 130.7 L577.9 128.5 L580.4 128.2 L582.9 128.9 L585.5 125.2 L588 121.6 L590.5 122.9 L593.1 121.6 L595.6 121.6 L598.1 121.4 L600.7 122.7 L603.2 127.5 L605.7 128.6 L608.3 126.6 L610.8 127.4 L613.3 128.3 L615.9 127.1 L618.4 127 L621 129.6 L623.5 131.3 L626 131.2 L628.6 131 L631.1 134.2 L633.6 135.7 L636.2 138.4 L638.7 136.8 L641.2 134.2 L643.8 130.2 L646.3 128.1 L648.8 124 L651.4 119.8 L653.9 116.8 L656.4 118.5 L659 122.5 L661.5 125.3 L664 126.9 L666.6 123.5 L669.1 120.5 L671.7 122.9 L674.2 132.9 L676.7 140.8 L679.3 145.3 L681.8 143.9 L684.3 142 L686.9 142.6 L689.4 143.9 L691.9 147.2 L694.5 149.8 L697 150.9 L699.5 148 L702.1 147.1 L704.6 146.5 L707.1 142.9 L709.7 139 L712.2 136.6 L714.7 134.7 L717.3 132.5 L719.8 130.6 L722.4 129.9 L724.9 129.3 L727.4 128.2 L730 128.8 L732.5 131.8 L735 135.2 L737.6 138.6 L740.1 144.2 L742.6 144.7 L745.2 142.9 L747.7 142.9 L750.2 148.1 L752.8 152.7 L755.3 152.9 L757.8 150.8 L760.4 150.3 L762.9 148.4 L765.4 149.5 L768 153.4 L770.5 156.4 L773.1 158.1 L775.6 159 L778.1 160.5 L780.7 162.9 L783.2 164.5 L785.7 167.5 L788.3 170.7 L790.8 173.2 L793.3 176.5 L795.9 180.8 L798.4 184.6 L800.9 185.4 L803.5 186.2 L806 188.9 L808.5 195.5 L811.1 202.6 L813.6 204 L816.1 202 L818.7 203.4 L821.2 206.8 L823.8 210.3 L826.3 213.1 L828.8 216.7 L831.4 214.7 L833.9 211.4 L836.4 211.8 L839 213.9 L841.5 216 L844 222 L846.6 231.7 L849.1 239.6 L851.6 242.8 L854.2 243.2 L856.7 245.9 L859.2 247.2 L861.8 249.7 L864.3 248.4 L866.8 249.5 L869.4 252.3 L871.9 255.7 L874.5 259.3 L877 263.8 L879.5 266.1 L882.1 265.7 L884.6 264.7 L887.1 262.6 L889.7 265.1 L892.2 268.4 L894.7 270.2 L897.3 271 L899.8 270.2 L902.3 270.2 L904.9 273.8 L907.4 277.9 L909.9 279.8 L912.5 278.1 L915 278 L917.5 279.9 L920.1 282.5 L922.6 286.7 L925.2 289.8 L927.7 295.8 L930.2 297.4 L932.8 296.2 L935.3 295.8 L937.8 294.8 L940.4 295.5 L942.9 296.8 L945.4 297.4 L948 298.1 L950.5 299.1 L953 300.9 L955.6 303.4 L958.1 306.1 L960.6 308.1 L963.2 309.3 L965.7 310.6 L968.2 312 L970.8 313 L973.3 314.5 L975.9 316.9 L978.4 318.9 L980.9 320.2 L983.5 322.1 L986 323.9"/>
<path d="M63.2 340.7 L65.8 341.8 L68.3 344.2 L70.9 346 L73.4 347.5 L75.9 348.6 L78.5 348.6 L81 348 L83.5 347.3 L86.1 347 L88.6 346.5 L91.1 346.9 L93.7 346.5 L96.2 346.4 L98.7 346.1 L101.3 345.3 L103.8 344.3 L106.3 345 L108.9 346.2 L111.4 347.2 L114 348.9 L116.5 351.1 L119 353 L121.6 355.9 L124.1 357.3 L126.6 358.2 L129.2 358.4 L131.7 358.1 L134.2 357.5 L136.8 358.3 L139.3 359.3 L141.8 359.7 L144.4 360.6 L146.9 360.9 L149.4 361.9 L152 361.9 L154.5 363.5 L157 365.1 L159.6 365.7 L162.1 365.2 L164.7 364.1 L167.2 364 L169.7 364.3 L172.3 362.7 L174.8 361.4 L177.3 360.2 L179.9 359.2 L182.4 359.1 L184.9 359.3 L187.5 360.6 L190 363.4 L192.5 365.1 L195.1 365.4 L197.6 364.1 L200.1 363 L202.7 364.1 L205.2 364 L207.7 362.4 L210.3 360.3 L212.8 359.4 L215.4 359.4 L217.9 360.1 L220.4 359.7 L223 358.8 L225.5 360.1 L228 360.5 L230.6 359.6 L233.1 359.1 L235.6 359.2 L238.2 359.3 L240.7 359.5 L243.2 358.7 L245.8 355.3 L248.3 352.4 L250.8 351.5 L253.4 350.8 L255.9 351.5 L258.4 352.1 L261 351.5 L263.5 350.7 L266.1 350.9 L268.6 351.3 L271.1 352.4 L273.7 352.3 L276.2 350.4 L278.7 350 L281.3 351.8 L283.8 353.4 L286.3 353.2 L288.9 350.4 L291.4 348.1 L293.9 346.1 L296.5 345 L299 346.2 L301.5 344.7 L304.1 343 L306.6 342 L309.1 340.3 L311.7 336.6 L314.2 335.5 L316.8 335.6 L319.3 335.2 L321.8 334.9 L324.4 333.4 L326.9 332.5 L329.4 331.8 L332 330.1 L334.5 328.2 L337 328.8 L339.6 329.1 L342.1 328.6 L344.6 326.8 L347.2 325.8 L349.7 322.9 L352.2 319.2 L354.8 316.3 L357.3 317.6 L359.8 318 L362.4 317.3 L364.9 316.3 L367.5 315.5 L370 313.5 L372.5 309.1 L375.1 304.3 L377.6 301.8 L380.1 299.4 L382.7 297.7 L385.2 294.6 L387.7 293.4 L390.3 292.6 L392.8 290.4 L395.3 289.2 L397.9 287 L400.4 283.2 L402.9 279.6 L405.5 275.9 L408 274 L410.5 273.4 L413.1 268.8 L415.6 265 L418.2 261.5 L420.7 258.2 L423.2 256.7 L425.8 256.3 L428.3 255.7 L430.8 252.9 L433.4 254.1 L435.9 253.1 L438.4 250.6 L441 247.7 L443.5 244.3 L446 240.5 L448.6 238.4 L451.1 235.7 L453.6 228.5 L456.2 220.2 L458.7 217.8 L461.2 215 L463.8 212.3 L466.3 212.4 L468.9 213.4 L471.4 213.5 L473.9 209.7 L476.5 208 L479 205.8 L481.5 202.3 L484.1 197.4 L486.6 194 L489.1 188.2 L491.7 185.3 L494.2 182.5 L496.7 181.7 L499.3 181.1 L501.8 178.9 L504.3 175.4 L506.9 169.7 L509.4 165.5 L511.9 160.9 L514.5 160.3 L517 162.7 L519.5 160.8 L522.1 151.5 L524.6 148.3 L527.2 150 L529.7 152.3 L532.2 153.5 L534.8 152.1 L537.3 147.9 L539.8 145.7 L542.4 141.7 L544.9 136.4 L547.4 133.5 L550 133 L552.5 131.1 L555 130 L557.6 130.4 L560.1 127.7 L562.6 125.9 L565.2 127.4 L567.7 127.4 L570.2 128.1 L572.8 127.2 L575.3 126.4 L577.9 122.3 L580.4 120.7 L582.9 118.3 L585.5 114.8 L588 114.6 L590.5 118.6 L593.1 120.4 L595.6 123.3 L598.1 126.8 L600.7 127.7 L603.2 126.3 L605.7 127.4 L608.3 127.4 L610.8 127.8 L613.3 128.9 L615.9 128.1 L618.4 125.1 L621 123.1 L623.5 123.1 L626 123.9 L628.6 121.4 L631.1 117.5 L633.6 112.9 L636.2 108.6 L638.7 105 L641.2 105.4 L643.8 103 L646.3 99.9 L648.8 98.5 L651.4 97.9 L653.9 99.3 L656.4 102.4 L659 108.7 L661.5 114.9 L664 120.2 L666.6 124.8 L669.1 128.9 L671.7 134.6 L674.2 137.4 L676.7 138.5 L679.3 140.4 L681.8 141 L684.3 140.6 L686.9 142.7 L689.4 144.1 L691.9 143.7 L694.5 146.2 L697 146.2 L699.5 145 L702.1 144.8 L704.6 147.8 L707.1 152.9 L709.7 153.1 L712.2 150.4 L714.7 147.8 L717.3 145.9 L719.8 143.7 L722.4 142.5 L724.9 142.1 L727.4 144.8 L730 146.2 L732.5 148.1 L735 150.9 L737.6 150.9 L740.1 151.6 L742.6 156.5 L745.2 162.8 L747.7 164.4 L750.2 164.5 L752.8 159.7 L755.3 159.3 L757.8 161.7 L760.4 158.4 L762.9 153.5 L765.4 152.9 L768 153.7 L770.5 155.7 L773.1 157.4 L775.6 158.2 L778.1 161 L780.7 164.9 L783.2 169.1 L785.7 174.8 L788.3 177.5 L790.8 180.4 L793.3 185.5 L795.9 189.6 L798.4 192.7 L800.9 195.1 L803.5 194.1 L806 192.6 L808.5 191.6 L811.1 193.2 L813.6 196.7 L816.1 202.2 L818.7 204.8 L821.2 205.6 L823.8 208.1 L826.3 209.5 L828.8 209.4 L831.4 210.9 L833.9 211.9 L836.4 214 L839 218.9 L841.5 219.8 L844 218.3 L846.6 219.7 L849.1 222 L851.6 224.8 L854.2 230 L856.7 232.8 L859.2 235 L861.8 238 L864.3 241.4 L866.8 245 L869.4 247.5 L871.9 248.8 L874.5 250.9 L877 255.3 L879.5 258.4 L882.1 263.7 L884.6 267.2 L887.1 268.1 L889.7 270.8 L892.2 272.8 L894.7 274.3 L897.3 278.2 L899.8 281.1 L902.3 283.4 L904.9 286.4 L907.4 290 L909.9 292.6 L912.5 294.2 L915 294.8 L917.5 296.1 L920.1 297.5 L922.6 299.5 L925.2 302.5 L927.7 304.8 L930.2 307.3 L932.8 309.1 L935.3 312.5 L937.8 315 L940.4 316.3 L942.9 317.7 L945.4 317.5 L948 317 L950.5 317.7 L953 318.8 L955.6 320.3 L958.1 322.1 L960.6 324.3 L963.2 326.2 L965.7 326.7 L968.2 326.5 L970.8 325.3 L973.3 327.1 L975.9 330.3 L978.4 332.9 L980.9 333.5 L983.5 334.9 L986 337.1"/>
<path d="M63.2 341.1 L65.8 341 L68.3 339.5 L70.9 337.8 L73.4 336.5 L75.9 337.5 L78.5 339.9 L81 341.8 L83.5 343.6 L86.1 345.1 L88.6 344.9 L91.1 344.4 L93.7 344.8 L96.2 345.9 L98.7 347 L101.3 347.2 L103.8 346.4 L106.3 345 L108.9 345.1 L111.4 345.3 L114 345.8 L116.5 346.9 L119 348.4 L121.6 349.3 L124.1 349.7 L126.6 349.7 L129.2 350.3 L131.7 351.6 L134.2 352.8 L136.8 353.5 L139.3 354.2 L141.8 355.6 L144.4 354.8 L146.9 355.1 L149.4 355.4 L152 355.2 L154.5 355.2 L157 355.4 L159.6 356.5 L162.1 357.4 L164.7 358 L167.2 359 L169.7 361.3 L172.3 362.3 L174.8 362.4 L177.3 361.8 L179.9 362.5 L182.4 364 L184.9 365 L187.5 366.7 L190 367.9 L192.5 367.3 L195.1 367.3 L197.6 369 L200.1 369.7 L202.7 369.1 L205.2 368.8 L207.7 370.2 L210.3 373.7 L212.8 375.9 L215.4 376.4 L217.9 376.4 L220.4 374.8 L223 376.4 L225.5 376.2 L228 375.6 L230.6 376.1 L233.1 375 L235.6 374.1 L238.2 374.1 L240.7 374 L243.2 371.3 L245.8 367.8 L248.3 365 L250.8 364.5 L253.4 364.8 L255.9 363.7 L258.4 361.6 L261 360.2 L263.5 362.1 L266.1 364.9 L268.6 365.5 L271.1 366.6 L273.7 368.2 L276.2 367.2 L278.7 363.2 L281.3 359.5 L283.8 356.5 L286.3 354 L288.9 355 L291.4 359.2 L293.9 360.1 L296.5 357.9 L299 355.8 L301.5 356.8 L304.1 354.9 L306.6 351.2 L309.1 346.7 L311.7 344.8 L314.2 342.4 L316.8 339.1 L319.3 339 L321.8 337.2 L324.4 334.3 L326.9 332.6 L329.4 332.4 L332 328.3 L334.5 324.1 L337 323 L339.6 321.7 L342.1 321.8 L344.6 322.6 L347.2 326.1 L349.7 327.8 L352.2 324 L354.8 321.1 L357.3 321 L359.8 320.5 L362.4 318.9 L364.9 317.7 L367.5 315.4 L370 315.8 L372.5 315 L375.1 312.1 L377.6 306.6 L380.1 300.2 L382.7 297 L385.2 296.8 L387.7 290 L390.3 282.8 L392.8 279.9 L395.3 278.9 L397.9 278.7 L400.4 276.2 L402.9 270 L405.5 265.7 L408 265.9 L410.5 265.8 L413.1 262.5 L415.6 256.4 L418.2 255.4 L420.7 255.3 L423.2 255.5 L425.8 253 L428.3 249 L430.8 241.3 L433.4 237.5 L435.9 236.2 L438.4 230.4 L441 224.6 L443.5 223.8 L446 230.8 L448.6 235.9 L451.1 231.8 L453.6 227.5 L456.2 223.6 L458.7 220.8 L461.2 218.4 L463.8 219.5 L466.3 219.6 L468.9 218.9 L471.4 215.8 L473.9 209.2 L476.5 202.8 L479 197.2 L481.5 193.8 L484.1 194.4 L486.6 195.7 L489.1 198.1 L491.7 196.2 L494.2 191.6 L496.7 184.9 L499.3 177.7 L501.8 175.5 L504.3 176.7 L506.9 174.6 L509.4 169.2 L511.9 165 L514.5 161 L517 158.2 L519.5 157.7 L522.1 159 L524.6 163.8 L527.2 164.2 L529.7 161.1 L532.2 159.4 L534.8 158.8 L537.3 161.1 L539.8 160.4 L542.4 160.2 L544.9 159.6 L547.4 159.4 L550 158.1 L552.5 155.5 L555 152.2 L557.6 148.5 L560.1 147.6 L562.6 146.7 L565.2 143.4 L567.7 144.4 L570.2 144.1 L572.8 145.1 L575.3 145.4 L577.9 145.6 L580.4 143 L582.9 139.3 L585.5 132.2 L588 127.1 L590.5 128.9 L593.1 130.9 L595.6 130.9 L598.1 127.3 L600.7 128.5 L603.2 130.1 L605.7 126.5 L608.3 127.4 L610.8 130.7 L613.3 134.1 L615.9 139.6 L618.4 142.2 L621 141.2 L623.5 138.1 L626 136.1 L628.6 138.4 L631.1 141.8 L633.6 143.8 L636.2 141.9 L638.7 141.4 L641.2 139.7 L643.8 134.9 L646.3 132.7 L648.8 131.2 L651.4 132.5 L653.9 130.7 L656.4 123.9 L659 124.1 L661.5 129.5 L664 134.9 L666.6 135 L669.1 129.6 L671.7 126.6 L674.2 127 L676.7 130.4 L679.3 130.9 L681.8 130.4 L684.3 132.2 L686.9 135.5 L689.4 140.6 L691.9 143.5 L694.5 147.3 L697 149.1 L699.5 147.8 L702.1 144.4 L704.6 140.9 L707.1 143.1 L709.7 144.6 L712.2 148.6 L714.7 152.2 L717.3 151.9 L719.8 150.3 L722.4 147.3 L724.9 149.9 L727.4 150.8 L730 148.1 L732.5 143.6 L735 142.4 L737.6 143.2 L740.1 144.2 L742.6 147.6 L745.2 154.3 L747.7 162.5 L750.2 165.6 L752.8 168.1 L755.3 168.9 L757.8 172 L760.4 178.1 L762.9 180 L765.4 183.2 L768 188.9 L770.5 190.5 L773.1 185.3 L775.6 183.7 L778.1 187.2 L780.7 192.3 L783.2 192.5 L785.7 187.1 L788.3 186 L790.8 188.1 L793.3 192.3 L795.9 197 L798.4 198.9 L800.9 203.8 L803.5 211.6 L806 215 L808.5 219.7 L811.1 221.6 L813.6 219 L816.1 219.7 L818.7 222.2 L821.2 223.3 L823.8 226.2 L826.3 229.7 L828.8 230.8 L831.4 232.6 L833.9 232.9 L836.4 233.1 L839 229.4 L841.5 229.6 L844 232.1 L846.6 233.8 L849.1 237.1 L851.6 239.5 L854.2 244 L856.7 250.2 L859.2 252.7 L861.8 254.1 L864.3 255.1 L866.8 257.3 L869.4 261.8 L871.9 262.1 L874.5 256.6 L877 253.3 L879.5 256.1 L882.1 254.8 L884.6 256.7 L887.1 259.4 L889.7 262.4 L892.2 268 L894.7 273.2 L897.3 277.4 L899.8 277.3 L902.3 278.4 L904.9 284 L907.4 288.1 L909.9 292.9 L912.5 295.7 L915 297 L917.5 298.2 L920.1 298.7 L922.6 297.2 L925.2 295.6 L927.7 298.6 L930.2 304.4 L932.8 309.4 L935.3 308.8 L937.8 306.2 L940.4 305.8 L942.9 305.1 L945.4 305.4 L948 307.8 L950.5 309.8 L953 312.3 L955.6 314.5 L958.1 314 L960.6 313.4 L963.2 316.2 L965.7 320.1 L968.2 319.8 L970.8 319.8 L973.3 320.6 L975.9 321 L978.4 321.5 L980.9 323.4 L983.5 327.4 L986 329.8"/>
<path d="M63.2 333.6 L65.8 334.6 L68.3 335.5 L70.9 335.5 L73.4 336.4 L75.9 337 L78.5 337.2 L81 337.6 L83.5 338.7 L86.1 339.7 L88.6 339.9 L91.1 340.5 L93.7 341.7 L96.2 343.2 L98.7 345.7 L101.3 346.5 L103.8 347.4 L106.3 348.2 L108.9 349.6 L111.4 350.3 L114 350.9 L116.5 350.4 L119 351.1 L121.6 350.9 L124.1 352.5 L126.6 354.1 L129.2 355.3 L131.7 355.9 L134.2 357.8 L136.8 359.3 L139.3 359.9 L141.8 359.4 L144.4 358.4 L146.9 358.4 L149.4 361.2 L152 362.6 L154.5 361.9 L157 361.5 L159.6 359.8 L162.1 358.1 L164.7 358.2 L167.2 358.8 L169.7 361.1 L172.3 362.9 L174.8 364.6 L177.3 366.8 L179.9 367.2 L182.4 366.3 L184.9 364.8 L187.5 364 L190 364.4 L192.5 364.9 L195.1 365.3 L197.6 366 L200.1 367.3 L202.7 368.6 L205.2 368.2 L207.7 366.3 L210.3 366.4 L212.8 365.6 L215.4 364.2 L217.9 362.6 L220.4 361.9 L223 361.8 L225.5 362.8 L228 361.5 L230.6 359.9 L233.1 359 L235.6 360.2 L238.2 363.4 L240.7 364.1 L243.2 363.5 L245.8 361.4 L248.3 361 L250.8 361.7 L253.4 360.9 L255.9 359.1 L258.4 358.5 L261 359 L263.5 360.6 L266.1 360.3 L268.6 360.7 L271.1 358.5 L273.7 357.4 L276.2 357.4 L278.7 356.2 L281.3 357.1 L283.8 356.4 L286.3 354.6 L288.9 356.7 L291.4 360.2 L293.9 361.6 L296.5 361.3 L299 356.1 L301.5 351.3 L304.1 347.7 L306.6 344 L309.1 344.6 L311.7 343.3 L314.2 346 L316.8 346.5 L319.3 343.5 L321.8 344.7 L324.4 342 L326.9 336.9 L329.4 335.4 L332 335.1 L334.5 335.2 L337 333.4 L339.6 331.6 L342.1 331.1 L344.6 330.7 L347.2 326 L349.7 320.8 L352.2 319.5 L354.8 320.4 L357.3 323.3 L359.8 319.9 L362.4 319.3 L364.9 316.1 L367.5 314.5 L370 311.7 L372.5 310.6 L375.1 308.9 L377.6 303 L380.1 296.5 L382.7 292.5 L385.2 292 L387.7 288.7 L390.3 282.1 L392.8 275.4 L395.3 271.2 L397.9 268 L400.4 265.2 L402.9 262.4 L405.5 259.1 L408 255.3 L410.5 250.7 L413.1 245.8 L415.6 241.6 L418.2 237.4 L420.7 233.1 L423.2 230 L425.8 229.6 L428.3 229 L430.8 228 L433.4 226.7 L435.9 224.4 L438.4 221.3 L441 218.3 L443.5 216.1 L446 214.7 L448.6 213.7 L451.1 212.2 L453.6 209.8 L456.2 209.7 L458.7 208.7 L461.2 203.6 L463.8 199.5 L466.3 198.6 L468.9 197.7 L471.4 193.7 L473.9 191.2 L476.5 191 L479 189.4 L481.5 183.8 L484.1 179.7 L486.6 176.8 L489.1 174.5 L491.7 171.1 L494.2 168.3 L496.7 167 L499.3 165.7 L501.8 163.5 L504.3 162.4 L506.9 161.5 L509.4 162.3 L511.9 165.5 L514.5 163.2 L517 159.8 L519.5 157.9 L522.1 157.5 L524.6 159.5 L527.2 156.6 L529.7 150.6 L532.2 147.9 L534.8 149 L537.3 154.1 L539.8 158.6 L542.4 160.3 L544.9 160.2 L547.4 161.1 L550 157.9 L552.5 151.6 L555 144.9 L557.6 140.6 L560.1 138.1 L562.6 135 L565.2 133.4 L567.7 134.1 L570.2 134.7 L572.8 137.8 L575.3 137.8 L577.9 134.3 L580.4 129.4 L582.9 128.6 L585.5 129.7 L588 129 L590.5 128.5 L593.1 123.8 L595.6 119.3 L598.1 117.5 L600.7 115.9 L603.2 112.2 L605.7 111.7 L608.3 110.2 L610.8 106.8 L613.3 105.8 L615.9 105.9 L618.4 106.7 L621 108.4 L623.5 109.5 L626 110.3 L628.6 111 L631.1 109 L633.6 107.5 L636.2 109.6 L638.7 113.4 L641.2 116.4 L643.8 115.3 L646.3 112.1 L648.8 108.1 L651.4 105.6 L653.9 104.1 L656.4 100.4 L659 101.6 L661.5 102.8 L664 103.4 L666.6 107.8 L669.1 111.2 L671.7 108.6 L674.2 108.3 L676.7 108.1 L679.3 107.8 L681.8 107.8 L684.3 109 L686.9 110.9 L689.4 112.2 L691.9 114 L694.5 115.5 L697 116.6 L699.5 118.5 L702.1 118.5 L704.6 117.3 L707.1 117.3 L709.7 118.6 L712.2 119 L714.7 121.1 L717.3 124.6 L719.8 129.1 L722.4 133.5 L724.9 135.1 L727.4 135.7 L730 137.2 L732.5 143.7 L735 150.2 L737.6 155.3 L740.1 157.9 L742.6 161.6 L745.2 163.5 L747.7 164.8 L750.2 169.5 L752.8 170.8 L755.3 172.7 L757.8 172.5 L760.4 170.4 L762.9 170.2 L765.4 173 L768 173.2 L770.5 172.4 L773.1 172 L775.6 176.7 L778.1 182.2 L780.7 188 L783.2 190.3 L785.7 191.2 L788.3 191 L790.8 191.9 L793.3 195.6 L795.9 199.2 L798.4 200.5 L800.9 202 L803.5 204.9 L806 207.1 L808.5 210.4 L811.1 213.3 L813.6 215.8 L816.1 215.4 L818.7 216.7 L821.2 220.8 L823.8 222.3 L826.3 226.2 L828.8 227.3 L831.4 230.1 L833.9 235.1 L836.4 240.5 L839 244.2 L841.5 246.2 L844 247.3 L846.6 248.1 L849.1 247.3 L851.6 249.4 L854.2 253.5 L856.7 254.6 L859.2 254.2 L861.8 255.1 L864.3 255.2 L866.8 256.5 L869.4 259.5 L871.9 263.6 L874.5 265 L877 264.8 L879.5 267.2 L882.1 272.1 L884.6 276.1 L887.1 278.7 L889.7 279.6 L892.2 281.3 L894.7 281.2 L897.3 280.9 L899.8 281.1 L902.3 280 L904.9 282.3 L907.4 286.4 L909.9 288.4 L912.5 289.4 L915 294.7 L917.5 296.9 L920.1 297.1 L922.6 297.5 L925.2 297.9 L927.7 300.3 L930.2 303 L932.8 306.8 L935.3 309.4 L937.8 311.4 L940.4 312 L942.9 313.4 L945.4 318.3 L948 321.6 L950.5 325.8 L953 329.2 L955.6 332.3 L958.1 334.8 L960.6 337 L963.2 337.9 L965.7 336.3 L968.2 336.3 L970.8 336.3 L973.3 336.5 L975.9 338.3 L978.4 341.1 L980.9 343.8 L983.5 346 L986 346.3"/>
<path d="M63.2 346 L65.8 346.2 L68.3 346.5 L70.9 347.7 L73.4 348.2 L75.9 347.8 L78.5 347.9 L81 348.6 L83.5 348.6 L86.1 349.7 L88.6 350.6 L91.1 350.5 L93.7 350.3 L96.2 349.9 L98.7 348.5 L101.3 348.2 L103.8 348.7 L106.3 350.3 L108.9 351.2 L111.4 351.9 L114 353.2 L116.5 353.3 L119 352.6 L121.6 353.4 L124.1 352.9 L126.6 354 L129.2 356.2 L131.7 358.3 L134.2 360.5 L136.8 361.4 L139.3 362 L141.8 362.6 L144.4 363.2 L146.9 365.6 L149.4 367 L152 368 L154.5 368.7 L157 368.6 L159.6 367.3 L162.1 365.5 L164.7 364.2 L167.2 363.5 L169.7 365 L172.3 366.1 L174.8 366 L177.3 366.5 L179.9 367 L182.4 366 L184.9 366.8 L187.5 367.4 L190 366.3 L192.5 365.6 L195.1 365.6 L197.6 365.5 L200.1 365.2 L202.7 365.7 L205.2 365.2 L207.7 364.6 L210.3 363.8 L212.8 362.1 L215.4 359 L217.9 357.6 L220.4 356.8 L223 356.5 L225.5 356 L228 355.6 L230.6 355.2 L233.1 355 L235.6 354.5 L238.2 353.3 L240.7 352.2 L243.2 351.5 L245.8 350.7 L248.3 349.9 L250.8 349.5 L253.4 349.6 L255.9 350.3 L258.4 350.5 L261 350.8 L263.5 350.6 L266.1 349 L268.6 351.5 L271.1 353.7 L273.7 354.6 L276.2 356.3 L278.7 355.5 L281.3 354.1 L283.8 354.5 L286.3 351.7 L288.9 349.9 L291.4 349.9 L293.9 350.1 L296.5 349.5 L299 349.1 L301.5 350 L304.1 351.7 L306.6 349 L309.1 344.3 L311.7 338.5 L314.2 334.2 L316.8 335.2 L319.3 337.2 L321.8 338.9 L324.4 337.1 L326.9 336 L329.4 334 L332 330.3 L334.5 327.3 L337 325.8 L339.6 324.3 L342.1 322.9 L344.6 319.1 L347.2 316.1 L349.7 314.5 L352.2 311.5 L354.8 311.3 L357.3 312.5 L359.8 311.4 L362.4 311 L364.9 313.2 L367.5 311.7 L370 309.4 L372.5 308.1 L375.1 305.7 L377.6 304.7 L380.1 304.2 L382.7 304.5 L385.2 303.5 L387.7 299.7 L390.3 293.5 L392.8 291.8 L395.3 293.4 L397.9 294.9 L400.4 293.2 L402.9 289.4 L405.5 289.1 L408 288.7 L410.5 285.8 L413.1 284.6 L415.6 286.5 L418.2 283 L420.7 277.8 L423.2 276.9 L425.8 272.9 L428.3 267.4 L430.8 259.8 L433.4 256.5 L435.9 252.5 L438.4 248.8 L441 245.5 L443.5 242 L446 239.9 L448.6 238 L451.1 237.4 L453.6 239.3 L456.2 240 L458.7 235.2 L461.2 229.1 L463.8 227.3 L466.3 223.9 L468.9 223 L471.4 221.2 L473.9 221.7 L476.5 221.5 L479 217.6 L481.5 211.4 L484.1 207.1 L486.6 201.2 L489.1 197 L491.7 192 L494.2 186.2 L496.7 183.7 L499.3 180.8 L501.8 178.5 L504.3 178.2 L506.9 176.7 L509.4 173.6 L511.9 170.7 L514.5 170 L517 165.9 L519.5 162.2 L522.1 157 L524.6 152.9 L527.2 153.9 L529.7 156.1 L532.2 154.3 L534.8 149.7 L537.3 144.9 L539.8 138.3 L542.4 136.1 L544.9 133.7 L547.4 133.3 L550 134.9 L552.5 137.7 L555 141.4 L557.6 142.8 L560.1 139.8 L562.6 136.1 L565.2 133.6 L567.7 128.2 L570.2 126.3 L572.8 123.4 L575.3 118.6 L577.9 116.7 L580.4 114.5 L582.9 112.7 L585.5 111.2 L588 109.5 L590.5 108.4 L593.1 109.4 L595.6 109.7 L598.1 112.4 L600.7 112.5 L603.2 112.5 L605.7 115.8 L608.3 118 L610.8 118 L613.3 117 L615.9 115.5 L618.4 115 L621 115.1 L623.5 114.5 L626 114.1 L628.6 112.3 L631.1 107.9 L633.6 104.1 L636.2 102.2 L638.7 102.8 L641.2 106.2 L643.8 107.9 L646.3 105.3 L648.8 100.8 L651.4 99.4 L653.9 99.6 L656.4 100.6 L659 102.2 L661.5 105.7 L664 108.6 L666.6 110.9 L669.1 114.9 L671.7 117.8 L674.2 116 L676.7 112.6 L679.3 110.8 L681.8 111.7 L684.3 113.2 L686.9 112.2 L689.4 112.4 L691.9 114.2 L694.5 114.8 L697 116.1 L699.5 117.1 L702.1 117 L704.6 117.1 L707.1 116.5 L709.7 116.1 L712.2 117.1 L714.7 119.7 L717.3 121.7 L719.8 122 L722.4 122.1 L724.9 122.2 L727.4 122.5 L730 123.5 L732.5 124.4 L735 126.4 L737.6 129.1 L740.1 130.6 L742.6 130.4 L745.2 130.4 L747.7 131.1 L750.2 133.7 L752.8 135.4 L755.3 136.4 L757.8 137.1 L760.4 138.5 L762.9 141.7 L765.4 145.8 L768 149.7 L770.5 151.8 L773.1 153.1 L775.6 155.7 L778.1 159 L780.7 162.2 L783.2 165.2 L785.7 167.1 L788.3 169.5 L790.8 171.6 L793.3 171.8 L795.9 173.3 L798.4 175.9 L800.9 177.9 L803.5 181.1 L806 183.6 L808.5 185.8 L811.1 187.1 L813.6 188.7 L816.1 191.1 L818.7 193.7 L821.2 196.5 L823.8 199 L826.3 201.5 L828.8 203.5 L831.4 203.9 L833.9 204.7 L836.4 207.4 L839 211 L841.5 214.8 L844 217.1 L846.6 219.6 L849.1 222 L851.6 224 L854.2 226 L856.7 228 L859.2 229.7 L861.8 231.6 L864.3 234.4 L866.8 237.9 L869.4 242.2 L871.9 245.1 L874.5 248.9 L877 253 L879.5 257.6 L882.1 260.6 L884.6 260.6 L887.1 260.4 L889.7 261.8 L892.2 263 L894.7 264.2 L897.3 267.9 L899.8 271.9 L902.3 274.3 L904.9 275.5 L907.4 276.6 L909.9 277.3 L912.5 280.2 L915 283.5 L917.5 286.7 L920.1 291.1 L922.6 293.1 L925.2 293.7 L927.7 296 L930.2 297.9 L932.8 300.4 L935.3 302 L937.8 302.7 L940.4 302.9 L942.9 301.5 L945.4 301.5 L948 303.1 L950.5 305 L953 306.4 L955.6 307.4 L958.1 309.5 L960.6 312 L963.2 316.9 L965.7 320.4 L968.2 321.8 L970.8 321.5 L973.3 322.2 L975.9 325.3 L978.4 330 L980.9 333.6 L983.5 336.5 L986 337.9"/>
<path d="M63.2 332.6 L65.8 333.4 L68.3 334.5 L70.9 335.8 L73.4 337.1 L75.9 337.5 L78.5 337.7 L81 338.2 L83.5 339.6 L86.1 341.4 L88.6 343.2 L91.1 345.9 L93.7 347.3 L96.2 347.5 L98.7 346.9 L101.3 346.5 L103.8 346.4 L106.3 347.6 L108.9 349.8 L111.4 351.7 L114 353.7 L116.5 353.8 L119 354 L121.6 355.3 L124.1 357.3 L126.6 358.7 L129.2 360.3 L131.7 361.1 L134.2 362.5 L136.8 362.5 L139.3 361.6 L141.8 360.5 L144.4 359.7 L146.9 359.7 L149.4 359.8 L152 358.8 L154.5 359.4 L157 360.8 L159.6 361.9 L162.1 361.5 L164.7 362 L167.2 362.3 L169.7 362.3 L172.3 361.8 L174.8 362.2 L177.3 362.4 L179.9 362.7 L182.4 362.2 L184.9 362.1 L187.5 361.8 L190 362.4 L192.5 361.4 L195.1 360.1 L197.6 359.2 L200.1 358.2 L202.7 357.4 L205.2 356.7 L207.7 356.2 L210.3 355.7 L212.8 354.7 L215.4 353.9 L217.9 353.3 L220.4 352.5 L223 352.5 L225.5 353.1 L228 352.9 L230.6 352 L233.1 351.2 L235.6 350.7 L238.2 349.5 L240.7 348.6 L243.2 348.3 L245.8 348.3 L248.3 348.3 L250.8 348.9 L253.4 348.5 L255.9 347.9 L258.4 348.2 L261 347.6 L263.5 346.2 L266.1 345.1 L268.6 344.7 L271.1 344.6 L273.7 344.9 L276.2 344.4 L278.7 343.6 L281.3 343.2 L283.8 342.9 L286.3 340.9 L288.9 339.1 L291.4 337.1 L293.9 335.5 L296.5 334.4 L299 333.4 L301.5 333.3 L304.1 332.7 L306.6 332.7 L309.1 332.6 L311.7 332.2 L314.2 331.4 L316.8 330.8 L319.3 330 L321.8 329.3 L324.4 330.4 L326.9 332.6 L329.4 331.6 L332 332.1 L334.5 333 L337 331.3 L339.6 328.5 L342.1 326.6 L344.6 327.6 L347.2 327.6 L349.7 325.6 L352.2 323.4 L354.8 322.2 L357.3 320.6 L359.8 317.5 L362.4 315.8 L364.9 313.2 L367.5 309.9 L370 309.4 L372.5 310.1 L375.1 307.9 L377.6 305.5 L380.1 305.9 L382.7 304.6 L385.2 304.4 L387.7 305.5 L390.3 303.9 L392.8 300.2 L395.3 296.1 L397.9 291.2 L400.4 289.8 L402.9 289.9 L405.5 287.4 L408 282.4 L410.5 277.5 L413.1 270.5 L415.6 263.3 L418.2 256 L420.7 251.5 L423.2 247.6 L425.8 244.4 L428.3 242.5 L430.8 239.8 L433.4 235 L435.9 230.5 L438.4 225.7 L441 223.6 L443.5 225.3 L446 222.7 L448.6 218.1 L451.1 214.4 L453.6 210.7 L456.2 211.5 L458.7 213 L461.2 213.1 L463.8 210.5 L466.3 210.8 L468.9 207.1 L471.4 203 L473.9 201.8 L476.5 197.2 L479 191.1 L481.5 187.9 L484.1 184.1 L486.6 183.4 L489.1 181.8 L491.7 179.1 L494.2 178.2 L496.7 182 L499.3 185.3 L501.8 185.3 L504.3 182.2 L506.9 181.7 L509.4 179 L511.9 171.8 L514.5 165.2 L517 165.3 L519.5 163.1 L522.1 160.3 L524.6 156.6 L527.2 153.8 L529.7 152.5 L532.2 151.5 L534.8 154.2 L537.3 153.4 L539.8 153.1 L542.4 149.3 L544.9 144.9 L547.4 143.5 L550 141.1 L552.5 137.1 L555 132.5 L557.6 128.9 L560.1 126 L562.6 123.7 L565.2 120.3 L567.7 117.6 L570.2 115.2 L572.8 113.9 L575.3 113.4 L577.9 111.9 L580.4 109.9 L582.9 108 L585.5 107.2 L588 106.2 L590.5 106 L593.1 106.2 L595.6 105.9 L598.1 104.1 L600.7 102.3 L603.2 101.3 L605.7 101.2 L608.3 100.2 L610.8 99.4 L613.3 99.9 L615.9 100.9 L618.4 101.5 L621 100.7 L623.5 99.4 L626 98.4 L628.6 98.3 L631.1 98.4 L633.6 98.1 L636.2 98.8 L638.7 99.3 L641.2 98 L643.8 97.1 L646.3 97 L648.8 97.5 L651.4 98.5 L653.9 99.5 L656.4 100.9 L659 102.7 L661.5 102.5 L664 102.9 L666.6 103.7 L669.1 103.9 L671.7 103 L674.2 103.1 L676.7 104.9 L679.3 106.6 L681.8 109.1 L684.3 111.7 L686.9 113.8 L689.4 118.4 L691.9 123.6 L694.5 126.1 L697 127.5 L699.5 127.9 L702.1 127.4 L704.6 128.6 L707.1 129.9 L709.7 131.6 L712.2 133.4 L714.7 135.4 L717.3 137.5 L719.8 143.1 L722.4 144.7 L724.9 143.9 L727.4 143.1 L730 143 L732.5 146 L735 147.4 L737.6 145.9 L740.1 148.1 L742.6 152.5 L745.2 156.8 L747.7 161.1 L750.2 163.4 L752.8 166 L755.3 167.4 L757.8 167.1 L760.4 165.3 L762.9 162.4 L765.4 160.9 L768 161.9 L770.5 167.1 L773.1 173.4 L775.6 178.5 L778.1 182.6 L780.7 186.5 L783.2 190.9 L785.7 195.4 L788.3 199.6 L790.8 200.7 L793.3 197.6 L795.9 197.7 L798.4 199.6 L800.9 199.5 L803.5 200.7 L806 203.5 L808.5 205.4 L811.1 208.8 L813.6 213.4 L816.1 216.4 L818.7 218.7 L821.2 222.4 L823.8 225.7 L826.3 227.4 L828.8 228.8 L831.4 229.7 L833.9 229.9 L836.4 231.3 L839 229.6 L841.5 231.1 L844 234 L846.6 234.5 L849.1 234.1 L851.6 235 L854.2 236.4 L856.7 237.4 L859.2 241.9 L861.8 245.1 L864.3 246.4 L866.8 247.5 L869.4 249.9 L871.9 251.3 L874.5 253.5 L877 255.1 L879.5 257.8 L882.1 258.4 L884.6 260.6 L887.1 263.4 L889.7 266.4 L892.2 271.7 L894.7 275.3 L897.3 277.4 L899.8 279.2 L902.3 281 L904.9 281.2 L907.4 283.2 L909.9 284.2 L912.5 284.8 L915 285 L917.5 286.5 L920.1 289.5 L922.6 291.4 L925.2 294 L927.7 298.7 L930.2 301.7 L932.8 303.2 L935.3 305 L937.8 306.8 L940.4 309.9 L942.9 313.3 L945.4 313.3 L948 314.1 L950.5 317.9 L953 321.5 L955.6 324.1 L958.1 324.5 L960.6 324.3 L963.2 324.1 L965.7 324.7 L968.2 327.4 L970.8 330.5 L973.3 331.6 L975.9 333.4 L978.4 333.8 L980.9 333.7 L983.5 335.2 L986 337.6"/>
<path d="M63.2 343.2 L65.8 343.3 L68.3 343.6 L70.9 344.9 L73.4 344.9 L75.9 344.7 L78.5 345.7 L81 347.9 L83.5 349.5 L86.1 349.9 L88.6 349.6 L91.1 350 L93.7 351.7 L96.2 353.3 L98.7 355.4 L101.3 357.6 L103.8 359.2 L106.3 359.9 L108.9 359.9 L111.4 361.2 L114 362.5 L116.5 363.1 L119 362.7 L121.6 361.5 L124.1 362.1 L126.6 363.1 L129.2 363.1 L131.7 362.9 L134.2 362.8 L136.8 363 L139.3 362.9 L141.8 363.3 L144.4 362.1 L146.9 360.6 L149.4 360.9 L152 362.3 L154.5 362.9 L157 361.8 L159.6 360.1 L162.1 358.8 L164.7 358.6 L167.2 358.1 L169.7 358.5 L172.3 361.4 L174.8 362.7 L177.3 362.3 L179.9 362.5 L182.4 361.8 L184.9 361.1 L187.5 360.2 L190 359.4 L192.5 360 L195.1 360.7 L197.6 359.9 L200.1 359.9 L202.7 359.6 L205.2 359 L207.7 358.1 L210.3 357.7 L212.8 357.8 L215.4 357 L217.9 359.7 L220.4 361.3 L223 360.2 L225.5 361.8 L228 364 L230.6 365 L233.1 364.7 L235.6 362.8 L238.2 361.5 L240.7 359.1 L243.2 356.8 L245.8 354.9 L248.3 353.7 L250.8 352.2 L253.4 351.1 L255.9 351.4 L258.4 350.9 L261 351 L263.5 349.6 L266.1 347.8 L268.6 347.6 L271.1 347.3 L273.7 346.7 L276.2 347.6 L278.7 350.8 L281.3 353.1 L283.8 350.7 L286.3 349.1 L288.9 349.1 L291.4 348.3 L293.9 347.7 L296.5 346.4 L299 344.1 L301.5 343.5 L304.1 343.8 L306.6 343.7 L309.1 342.3 L311.7 342.5 L314.2 343.2 L316.8 342.9 L319.3 342.9 L321.8 342.7 L324.4 339.1 L326.9 334.2 L329.4 330.3 L332 329.5 L334.5 330.6 L337 330.5 L339.6 330.4 L342.1 329.6 L344.6 328.6 L347.2 329.2 L349.7 330.2 L352.2 333.7 L354.8 336.7 L357.3 336.4 L359.8 334.1 L362.4 333.5 L364.9 333.5 L367.5 333.6 L370 330.8 L372.5 327.3 L375.1 322.1 L377.6 319.2 L380.1 317.8 L382.7 312.3 L385.2 308.1 L387.7 304.1 L390.3 299.6 L392.8 297.4 L395.3 298.8 L397.9 299.4 L400.4 296.8 L402.9 293.3 L405.5 290.5 L408 289.3 L410.5 288.1 L413.1 283.4 L415.6 279.7 L418.2 275.5 L420.7 272 L423.2 272.2 L425.8 268.6 L428.3 265.1 L430.8 263 L433.4 260.2 L435.9 257.8 L438.4 256.3 L441 255.4 L443.5 252.4 L446 248.9 L448.6 246.1 L451.1 243.7 L453.6 239.6 L456.2 237.5 L458.7 237.5 L461.2 236.8 L463.8 232.4 L466.3 230.5 L468.9 230.2 L471.4 227.6 L473.9 223.9 L476.5 222.1 L479 221.4 L481.5 217.9 L484.1 216 L486.6 212.2 L489.1 203 L491.7 195.9 L494.2 189.5 L496.7 184.9 L499.3 182.6 L501.8 179.3 L504.3 178.2 L506.9 175.9 L509.4 171.8 L511.9 167.1 L514.5 162.3 L517 157.7 L519.5 153.5 L522.1 151.2 L524.6 152.1 L527.2 152.7 L529.7 150.4 L532.2 147 L534.8 142 L537.3 136.9 L539.8 134.6 L542.4 133.3 L544.9 134.7 L547.4 134.1 L550 132.5 L552.5 134.3 L555 136.9 L557.6 132.8 L560.1 130.6 L562.6 130.3 L565.2 129.2 L567.7 129 L570.2 128.5 L572.8 125.1 L575.3 121.3 L577.9 120.3 L580.4 120.5 L582.9 117.5 L585.5 114.1 L588 112.2 L590.5 111.6 L593.1 110.5 L595.6 109.5 L598.1 108.9 L600.7 108.8 L603.2 108.9 L605.7 108.1 L608.3 106 L610.8 105 L613.3 105 L615.9 104.7 L618.4 104.5 L621 105.9 L623.5 110.7 L626 113.8 L628.6 114.6 L631.1 115.2 L633.6 115.9 L636.2 118.8 L638.7 119.1 L641.2 117.6 L643.8 115.3 L646.3 112.6 L648.8 112.4 L651.4 113 L653.9 115.2 L656.4 114.9 L659 117.6 L661.5 123.3 L664 125.6 L666.6 126.2 L669.1 126.4 L671.7 129.8 L674.2 128.6 L676.7 128.4 L679.3 128.2 L681.8 129.4 L684.3 128.3 L686.9 127.5 L689.4 128.4 L691.9 131.8 L694.5 136.8 L697 138.9 L699.5 142.4 L702.1 143.6 L704.6 139.5 L707.1 138.4 L709.7 141.1 L712.2 143.9 L714.7 144.9 L717.3 145.3 L719.8 144.9 L722.4 145.8 L724.9 149.3 L727.4 148.8 L730 152.1 L732.5 152.8 L735 150.9 L737.6 147.9 L740.1 146 L742.6 141.3 L745.2 141.9 L747.7 143.9 L750.2 145.8 L752.8 149.9 L755.3 153 L757.8 157.3 L760.4 158.9 L762.9 158.1 L765.4 158.4 L768 160.1 L770.5 162.8 L773.1 162.8 L775.6 162.9 L778.1 163.7 L780.7 167.2 L783.2 173.9 L785.7 179.5 L788.3 180.4 L790.8 180.1 L793.3 181.6 L795.9 184.7 L798.4 193 L800.9 199.5 L803.5 202.2 L806 208.3 L808.5 216 L811.1 220.8 L813.6 224.1 L816.1 228.4 L818.7 232.7 L821.2 236.6 L823.8 240.2 L826.3 244.1 L828.8 245.5 L831.4 246.2 L833.9 246 L836.4 243.6 L839 243.6 L841.5 247.5 L844 253.3 L846.6 258 L849.1 259.7 L851.6 261.3 L854.2 263.5 L856.7 264.8 L859.2 264.8 L861.8 266.4 L864.3 270.8 L866.8 276 L869.4 277.9 L871.9 275.2 L874.5 273.7 L877 270.8 L879.5 267.6 L882.1 268.5 L884.6 272.7 L887.1 275.7 L889.7 281.5 L892.2 285.1 L894.7 288.2 L897.3 291.3 L899.8 292.2 L902.3 291.1 L904.9 291.3 L907.4 293.4 L909.9 293.6 L912.5 292.3 L915 290.9 L917.5 290 L920.1 290.2 L922.6 292.9 L925.2 296.6 L927.7 299.3 L930.2 302.6 L932.8 306.2 L935.3 310.3 L937.8 311.8 L940.4 312 L942.9 313.3 L945.4 314.2 L948 315 L950.5 315.1 L953 313.8 L955.6 315.2 L958.1 319.4 L960.6 323.6 L963.2 326.1 L965.7 328.5 L968.2 329.1 L970.8 329.6 L973.3 331.2 L975.9 333 L978.4 335.1 L980.9 337.5 L983.5 339.7 L986 340.6"/>
<path d="M63.2 339.8 L65.8 341 L68.3 343.2 L70.9 345.3 L73.4 345.8 L75.9 344.4 L78.5 343.8 L81 345 L83.5 346.1 L86.1 347 L88.6 347.5 L91.1 347.7 L93.7 349.5 L96.2 350.6 L98.7 350.4 L101.3 350 L103.8 351.9 L106.3 352.7 L108.9 352.6 L111.4 352.7 L114 351.9 L116.5 351.9 L119 353.9 L121.6 355.8 L124.1 355.8 L126.6 356.5 L129.2 358.2 L131.7 359 L134.2 358.7 L136.8 358.7 L139.3 360.7 L141.8 362.8 L144.4 362.7 L146.9 363.1 L149.4 364 L152 365.5 L154.5 365.3 L157 366.2 L159.6 365.9 L162.1 366.1 L164.7 367.5 L167.2 367.1 L169.7 365.9 L172.3 365 L174.8 363.5 L177.3 361.3 L179.9 360 L182.4 361.2 L184.9 359.5 L187.5 360.2 L190 361.1 L192.5 361.9 L195.1 360.1 L197.6 359.7 L200.1 359.7 L202.7 359.4 L205.2 359.1 L207.7 358.8 L210.3 358.6 L212.8 357.9 L215.4 356.4 L217.9 355.6 L220.4 355.5 L223 356.6 L225.5 357.3 L228 358.6 L230.6 359 L233.1 359.5 L235.6 360.2 L238.2 359.3 L240.7 359.2 L243.2 356.4 L245.8 353.3 L248.3 351.4 L250.8 350 L253.4 349.7 L255.9 350.3 L258.4 352.4 L261 353.1 L263.5 351.5 L266.1 350.3 L268.6 350.5 L271.1 350.4 L273.7 348.9 L276.2 349.2 L278.7 348.1 L281.3 348.1 L283.8 347.6 L286.3 347.4 L288.9 347.1 L291.4 346.4 L293.9 344 L296.5 340.2 L299 338.4 L301.5 337.9 L304.1 339.6 L306.6 337.8 L309.1 335.4 L311.7 334.1 L314.2 333.8 L316.8 332.2 L319.3 330.7 L321.8 330 L324.4 330 L326.9 328.5 L329.4 325.2 L332 321.8 L334.5 318.9 L337 316.7 L339.6 315.1 L342.1 313.2 L344.6 310.9 L347.2 306.9 L349.7 305 L352.2 305.2 L354.8 305.2 L357.3 305.8 L359.8 305.4 L362.4 306.9 L364.9 306.3 L367.5 306.3 L370 304.7 L372.5 303.6 L375.1 299.7 L377.6 294.2 L380.1 292.3 L382.7 290.6 L385.2 288.8 L387.7 283.2 L390.3 276.7 L392.8 269.7 L395.3 264 L397.9 260.2 L400.4 257.2 L402.9 254.3 L405.5 251.5 L408 249.8 L410.5 248.1 L413.1 248.3 L415.6 246.3 L418.2 244.5 L420.7 243.3 L423.2 241.9 L425.8 240.5 L428.3 237.4 L430.8 234.6 L433.4 237.7 L435.9 235.4 L438.4 231.5 L441 228 L443.5 225.6 L446 228 L448.6 227.3 L451.1 224 L453.6 218.6 L456.2 216.3 L458.7 217.5 L461.2 214.3 L463.8 211.7 L466.3 211.6 L468.9 208.6 L471.4 207 L473.9 204.9 L476.5 202.3 L479 198.8 L481.5 197.7 L484.1 197.7 L486.6 195.1 L489.1 191.4 L491.7 189.2 L494.2 189.2 L496.7 190.8 L499.3 192.3 L501.8 190.3 L504.3 189 L506.9 187.3 L509.4 182.1 L511.9 176.1 L514.5 172.5 L517 168.6 L519.5 164.3 L522.1 162.9 L524.6 162.1 L527.2 160.9 L529.7 153.5 L532.2 147.8 L534.8 145.1 L537.3 145.9 L539.8 150.6 L542.4 153.3 L544.9 154.5 L547.4 153.5 L550 147.9 L552.5 142.6 L555 143.4 L557.6 143.2 L560.1 142.7 L562.6 139.5 L565.2 137.4 L567.7 137.2 L570.2 134.3 L572.8 131.8 L575.3 127 L577.9 126.5 L580.4 124.3 L582.9 118.7 L585.5 119.1 L588 120 L590.5 114.9 L593.1 109.5 L595.6 106.9 L598.1 105.3 L600.7 103.3 L603.2 102.1 L605.7 102.9 L608.3 102.8 L610.8 101.3 L613.3 100.5 L615.9 101 L618.4 101.5 L621 100.6 L623.5 100.3 L626 99.5 L628.6 97.8 L631.1 97.7 L633.6 98.5 L636.2 97.7 L638.7 97.6 L641.2 97 L643.8 97.8 L646.3 98.9 L648.8 96.8 L651.4 95.3 L653.9 95.6 L656.4 97.4 L659 99.4 L661.5 101.2 L664 103.1 L666.6 105.2 L669.1 105.6 L671.7 105.8 L674.2 107.1 L676.7 107.7 L679.3 107.8 L681.8 108.2 L684.3 109.1 L686.9 109.7 L689.4 108.1 L691.9 107.8 L694.5 107.7 L697 108.5 L699.5 111 L702.1 112.3 L704.6 115.5 L707.1 118.4 L709.7 121.2 L712.2 123.8 L714.7 124.8 L717.3 126.4 L719.8 128.9 L722.4 129.8 L724.9 129.3 L727.4 131.8 L730 134 L732.5 135.8 L735 139.3 L737.6 145.6 L740.1 151.8 L742.6 154.5 L745.2 152.7 L747.7 151.5 L750.2 154.1 L752.8 154.6 L755.3 154.5 L757.8 153.3 L760.4 155.7 L762.9 159.1 L765.4 162.5 L768 168.9 L770.5 173.4 L773.1 175.1 L775.6 176.9 L778.1 174.1 L780.7 169 L783.2 168.6 L785.7 170.2 L788.3 171.9 L790.8 173.8 L793.3 176.8 L795.9 182.3 L798.4 189.2 L800.9 192.3 L803.5 193.6 L806 196.8 L808.5 197.1 L811.1 196.1 L813.6 199.6 L816.1 204.6 L818.7 204.8 L821.2 202.3 L823.8 203 L826.3 207.7 L828.8 212.3 L831.4 212.7 L833.9 212.3 L836.4 212.2 L839 213.7 L841.5 215.3 L844 216.8 L846.6 220.2 L849.1 226 L851.6 231.2 L854.2 235.2 L856.7 236.6 L859.2 239.6 L861.8 242.8 L864.3 239.9 L866.8 238.3 L869.4 240.9 L871.9 244 L874.5 246.1 L877 248.9 L879.5 254.4 L882.1 258 L884.6 264 L887.1 268.3 L889.7 267.8 L892.2 269.6 L894.7 271.8 L897.3 275 L899.8 277.5 L902.3 278.6 L904.9 281.5 L907.4 286.4 L909.9 288.4 L912.5 290.2 L915 293.2 L917.5 296.3 L920.1 300.3 L922.6 301.7 L925.2 303.2 L927.7 306.1 L930.2 310.2 L932.8 315.3 L935.3 315.5 L937.8 313.4 L940.4 312.5 L942.9 312 L945.4 310.6 L948 312.8 L950.5 317 L953 318.3 L955.6 318.6 L958.1 317.8 L960.6 318.4 L963.2 320.9 L965.7 324.5 L968.2 328.5 L970.8 331.7 L973.3 333.3 L975.9 334.3 L978.4 336.9 L980.9 338.4 L983.5 336.6 L986 336.2"/>
<path d="M63.2 334 L65.8 333.3 L68.3 333.1 L70.9 333.9 L73.4 335.5 L75.9 336.1 L78.5 336.7 L81 337.4 L83.5 338.2 L86.1 338.6 L88.6 339 L91.1 339.6 L93.7 340.6 L96.2 342 L98.7 344.1 L101.3 347 L103.8 347.5 L106.3 347.2 L108.9 347 L111.4 347.2 L114 347.5 L116.5 348.2 L119 349 L121.6 349.5 L124.1 350.5 L126.6 351.1 L129.2 351.5 L131.7 352.3 L134.2 353 L136.8 353.4 L139.3 354.1 L141.8 354.5 L144.4 354.9 L146.9 357.2 L149.4 360.3 L152 361.8 L154.5 361.9 L157 360.2 L159.6 360.3 L162.1 361.2 L164.7 360.7 L167.2 360.3 L169.7 358.2 L172.3 357.9 L174.8 358 L177.3 358.2 L179.9 358.7 L182.4 358.7 L184.9 358.5 L187.5 359.3 L190 359.8 L192.5 359.8 L195.1 360.4 L197.6 362.2 L200.1 363.6 L202.7 364.5 L205.2 361.9 L207.7 362 L210.3 364.1 L212.8 362.8 L215.4 362 L217.9 364.4 L220.4 367.1 L223 367 L225.5 366 L228 363.8 L230.6 363.6 L233.1 361.7 L235.6 359.7 L238.2 359.6 L240.7 359.5 L243.2 356.1 L245.8 352.8 L248.3 350.4 L250.8 349 L253.4 347.9 L255.9 347.8 L258.4 346.9 L261 346 L263.5 344.7 L266.1 344.9 L268.6 343.8 L271.1 342.5 L273.7 342 L276.2 342.1 L278.7 341.6 L281.3 340.7 L283.8 340.1 L286.3 340 L288.9 339.9 L291.4 339.1 L293.9 336.4 L296.5 334.3 L299 333.7 L301.5 333.3 L304.1 332 L306.6 331.4 L309.1 332.1 L311.7 331.5 L314.2 330.4 L316.8 330.6 L319.3 330.7 L321.8 331.3 L324.4 329 L326.9 326.8 L329.4 325 L332 324.6 L334.5 325.7 L337 323.1 L339.6 321.5 L342.1 322.1 L344.6 325 L347.2 322.1 L349.7 320.2 L352.2 317.1 L354.8 314.9 L357.3 311.4 L359.8 307.5 L362.4 303.8 L364.9 302.5 L367.5 298.6 L370 296.3 L372.5 296.8 L375.1 298.4 L377.6 299.5 L380.1 298 L382.7 291.7 L385.2 286 L387.7 280.5 L390.3 275.3 L392.8 270.4 L395.3 266.4 L397.9 262.4 L400.4 258.9 L402.9 255.3 L405.5 253 L408 252 L410.5 250.9 L413.1 250.2 L415.6 249.9 L418.2 250.5 L420.7 246.7 L423.2 244.8 L425.8 241.7 L428.3 237 L430.8 234.9 L433.4 235.4 L435.9 237.6 L438.4 232.5 L441 224.5 L443.5 220.3 L446 216.9 L448.6 214.9 L451.1 214.3 L453.6 214.1 L456.2 212.4 L458.7 212.6 L461.2 213.5 L463.8 211.7 L466.3 210.3 L468.9 205.8 L471.4 205.6 L473.9 203.7 L476.5 204.3 L479 205.5 L481.5 200.8 L484.1 196.9 L486.6 192.7 L489.1 190.3 L491.7 185.3 L494.2 183 L496.7 180.4 L499.3 178 L501.8 173.7 L504.3 169.2 L506.9 169.1 L509.4 169.2 L511.9 166.9 L514.5 167.8 L517 167.5 L519.5 168.2 L522.1 164.8 L524.6 158.8 L527.2 158.6 L529.7 161.8 L532.2 164.7 L534.8 163.8 L537.3 159 L539.8 157.7 L542.4 161.2 L544.9 160.9 L547.4 160.4 L550 158.9 L552.5 156.8 L555 153.1 L557.6 150.8 L560.1 149.3 L562.6 148.7 L565.2 146.2 L567.7 144 L570.2 146.2 L572.8 153.6 L575.3 157.8 L577.9 159.6 L580.4 154.4 L582.9 147.8 L585.5 144.8 L588 149.9 L590.5 148.8 L593.1 145.7 L595.6 145 L598.1 145.9 L600.7 141.5 L603.2 139.1 L605.7 138.4 L608.3 135.5 L610.8 136.4 L613.3 138.8 L615.9 135.5 L618.4 128.9 L621 127 L623.5 125.5 L626 122.6 L628.6 118.9 L631.1 115 L633.6 112.8 L636.2 113.5 L638.7 114.6 L641.2 116.2 L643.8 110.7 L646.3 105.4 L648.8 107.5 L651.4 110 L653.9 113.4 L656.4 120.4 L659 125 L661.5 124.1 L664 123.6 L666.6 125.5 L669.1 126.5 L671.7 122.3 L674.2 118.1 L676.7 116.1 L679.3 118.5 L681.8 123.6 L684.3 126 L686.9 124.4 L689.4 124.9 L691.9 126.5 L694.5 127.1 L697 125.8 L699.5 127.9 L702.1 127.9 L704.6 128.5 L707.1 131 L709.7 132.5 L712.2 132.7 L714.7 134.8 L717.3 137.5 L719.8 138.8 L722.4 137.4 L724.9 139.4 L727.4 139.6 L730 139.3 L732.5 138.7 L735 140.2 L737.6 141.4 L740.1 144.7 L742.6 144.9 L745.2 142.4 L747.7 142.9 L750.2 145.4 L752.8 150.2 L755.3 152 L757.8 151 L760.4 151.5 L762.9 153.6 L765.4 155 L768 157.6 L770.5 158.8 L773.1 158.7 L775.6 159.9 L778.1 161.3 L780.7 163.2 L783.2 165.9 L785.7 167.7 L788.3 169.3 L790.8 172.9 L793.3 177.7 L795.9 187.4 L798.4 193.1 L800.9 194.7 L803.5 195.9 L806 200.3 L808.5 203.7 L811.1 202.5 L813.6 205 L816.1 210 L818.7 211.9 L821.2 211.7 L823.8 211.2 L826.3 213.3 L828.8 214.4 L831.4 213.3 L833.9 214.1 L836.4 212.7 L839 212.7 L841.5 213 L844 214.5 L846.6 217 L849.1 219.5 L851.6 221.4 L854.2 223.8 L856.7 227.6 L859.2 230.6 L861.8 233.6 L864.3 235.5 L866.8 237.4 L869.4 239.6 L871.9 240.4 L874.5 242.4 L877 244.9 L879.5 247.6 L882.1 250.1 L884.6 252.7 L887.1 256.7 L889.7 261.5 L892.2 266.5 L894.7 269.4 L897.3 271.1 L899.8 275.9 L902.3 280.9 L904.9 282 L907.4 285 L909.9 288.3 L912.5 291 L915 292.7 L917.5 295.7 L920.1 296.4 L922.6 296.6 L925.2 295.9 L927.7 296.2 L930.2 296.5 L932.8 296.2 L935.3 295.6 L937.8 296.4 L940.4 298.2 L942.9 300.9 L945.4 303.6 L948 307.4 L950.5 310.5 L953 314.2 L955.6 314.3 L958.1 313.4 L960.6 312.9 L963.2 313.1 L965.7 313.4 L968.2 314.3 L970.8 315.9 L973.3 317.5 L975.9 319.8 L978.4 322.8 L980.9 324.7 L983.5 326.1 L986 327.3"/>
</g>
<path d="M63 323.8 L68 325.5 L72.5 326 L77 325.5 L82.5 325 L87 326.5 L92.5 328.8 L95 330 L97.5 331 L101 333.5 L105 336 L107.5 338.5 L110 340 L112.5 339 L115 338.8 L118 340.5 L122.5 343.8 L127 345 L132.5 346 L136 347.5 L140 348 L144 347 L147.5 346 L150 344.5 L152.5 343.8 L156 346 L160 348 L166 350 L172.5 351 L178 352.5 L185 353 L190 352 L195 351 L202 351.3 L210 351 L216 350.5 L222.5 350 L228 349.5 L235 348.8 L241 349 L247.5 348.8 L251 349.5 L255 350.5 L259 352 L262.5 353 L267 352 L272.5 350.5 L276 349.5 L280 347.5 L284 344 L287.5 340 L290 338.5 L292.5 338 L296 339.5 L300 340 L305 341 L310 342.5 L315 343.8 L319 342.5 L322.5 341 L327 341.3 L332.5 341 L336 339.5 L340 337.5 L344 335 L347.5 332.5 L351 330.5 L355 328.8 L357.5 325 L360 320 L362.5 314.5 L365 308.8 L367 303 L368.8 298.8 L372 299.5 L375 300 L377.5 296.5 L380 292.5 L382.5 289 L385 286 L387.5 285.5 L390 285 L392.5 284 L395 282.5 L399 279 L402.5 276 L406 273.5 L410 271 L414 270.5 L417.5 270 L421 268.5 L425 265.5 L429 261 L432.5 255 L436 251 L440 246.2 L444 242.5 L447.5 238.8 L451 233.5 L455 227.5 L459 222 L462.5 216.2 L466 210 L470 203.8 L472.5 200 L475 196.2 L479 195 L482.5 193.8 L486 192.5 L490 191.2 L492.5 188.5 L495 185 L497.5 180.5 L500 175 L502.5 171 L505 166.5 L509 160 L512.5 155 L516 150 L520 145 L524 142 L527.5 140 L531 138 L535 136.2 L539 136.5 L542.5 136.2 L546 135.5 L548.8 135 L552 137.5 L555 140 L558 141 L561.2 141.2 L564.5 138.5 L567.5 135 L571 131.5 L575 128.8 L579 129.5 L582.5 130 L585 128 L587.5 125 L590 119 L592.5 112.5 L595 109 L597.5 106.2 L601 105 L605 103.8 L607.5 102.5 L610 101.2 L612.5 102 L615 103.8 L617.5 107 L620 110 L622.5 108 L625 105 L627.5 100 L630 95 L632.5 91.5 L635 88.8 L637.5 90.5 L640 93.8 L642.5 97.5 L645 101.2 L649 102 L652.5 102.5 L656 103.5 L660 105 L664 105 L667.5 105 L671 107 L675 110 L677.5 112 L680 113.8 L684 116 L687.5 117.5 L691 116.5 L695 115 L699 117.5 L702.5 120 L706 121 L707.5 121.2 L711 124.5 L715 128.8 L717.5 130.5 L720 131.2 L722.5 128 L725 125 L727.5 124.5 L730 125 L732.5 130 L735 136.2 L737.5 139.5 L740 141.2 L744 140 L747.5 138.8 L751 139 L755 140 L759 143 L762.5 146.2 L766 151 L770 156.2 L774 160 L777.5 163.8 L781 168 L785 172.5 L789 178.5 L792.5 183.8 L796 186.5 L800 189.5 L805 193.5 L810 197.5 L815 202.5 L820 207.5 L824 210.5 L827.5 212.5 L831 213.3 L835 213.8 L839 216 L842.5 218.8 L846 222.5 L850 226.2 L854 230 L857.5 233.8 L861 237 L865 240 L870 242.5 L875 245 L880 247.5 L885 250 L889 253.5 L892.5 257.5 L896 261 L900 265 L903.8 268.3 L907.5 273.8 L912 278.8 L915 282.5 L920.4 289 L922.5 291.5 L928.8 299.6 L933 304 L937 308 L941 311 L945.4 314 L949.5 317.5 L953.8 320.4 L959 323 L964 325.6 L969 327.5 L974.6 329 L980 330 L985 330.8" stroke="#E69F00" stroke-width="1.3"/>
<path d="M865 240 L870 242.5 L875 245 L880 247.5 L885 250 L889 253.5 L892.5 257.5 L896 261 L900 265 L903.8 268.3 L907.5 273.8 L912 278.8 L915 282.5 L920.4 289 L922.5 291.5 L928.8 299.6 L933 304 L937 308 L941 311 L945.4 314 L949.5 317.5 L953.8 320.4 L959 323 L964 325.6 L969 327.5 L974.6 329 L980 330 L985 330.8" stroke="#E8AE3C" stroke-width="1.9"/>
<path d="M63 330 L66 332 L70 333.8 L75 335 L80 336 L85 338 L90 340 L95 342 L100 343.8 L105 345 L110 346 L116 348.5 L122.5 351 L128 351.8 L135 352.5 L141 354.5 L147.5 356 L154 357.5 L160 358.8 L166 359.5 L172.5 360 L178 360.5 L185 361 L191 362.5 L197.5 363.8 L204 364.5 L210 365 L216 366.5 L222.5 367.5 L229 368.5 L235 368.8 L240 368 L245 367 L250 366.5 L255 366 L260 365.5 L265 365 L270 364 L275 362.5 L277.5 364.5 L280 366 L282.5 365 L285 363.8 L290 363 L295 362.5 L297.5 362.8 L300 361 L302.5 363.8 L305 360 L307.5 357.5 L310 353.8 L312.5 353.8 L317 352.5 L322.5 351 L327 349.5 L332.5 347.5 L337 346 L342.5 343.8 L346 340 L350 335 L352.5 332.5 L355 330 L359 325 L362.5 320 L365 316.5 L367.5 313.8 L371 311.5 L375 310 L379 311.5 L382.5 313.8 L386 309 L390 302.5 L392.5 294 L395 285 L397.5 278.5 L400 272.5 L402 267.5 L403.8 262.5 L405.5 260.5 L407.5 260 L409.5 254.5 L411.2 250 L414 251.5 L417.5 252.5 L421 250.5 L425 247.5 L429 241.5 L432.5 235 L436 231 L440 227.5 L442.5 222.5 L445 217.5 L447.5 212.5 L450 207.5 L452.5 203 L455 198.8 L457.5 195.5 L460 192.5 L462.5 191 L465 190 L467.5 192.5 L470 195 L472.5 191.5 L475 187.5 L477.5 182.5 L480 177.5 L483 173 L486 168.8 L489 168 L492.5 167.5 L495 167.5 L497.5 167.5 L500 163 L502.5 157.5 L505 153.5 L507.5 150 L510 145 L515 140 L520 135 L525 130.5 L530 126.2 L534 124.5 L537.5 123.8 L540.5 126 L543.8 128.8 L547 129 L550 128.8 L554 125 L557.5 121.2 L561 117 L565 113.2 L569 109.5 L572.5 106 L576 102.5 L580 97.5 L584 94.5 L587.5 93.8 L591 93 L595 92.5 L599 91.3 L602.5 90 L606 89.3 L610 88.8 L615 89.3 L620 90 L625 91.3 L630 92.5 L635 92.5 L640 92.5 L645 93 L650 93.8 L655 95 L660 96.2 L665 97 L670 97.5 L675 97 L680 96.2 L685 98.5 L690 101.2 L694 102 L697.5 102.5 L701 101.5 L705 100.5 L709 102.5 L712.5 105 L716 110 L720 115 L724 120 L727.5 125 L730 128.5 L732.5 132.5 L735 137 L737.5 141.2 L741 144.5 L745 147.5 L750 151.5 L755 155 L760 159.5 L765 163.8 L770 167.5 L775 171.2 L780 174 L785 176.2 L790 180 L795 183.5 L800 185.5 L805 187.5 L810 188.5 L815 190 L820 191.3 L825 192.5 L830 193.8 L835 196.2 L840 198.8 L844 204.5 L847.5 210 L851 214 L855 217.5 L859 219.5 L862.5 221.2 L866 223 L870 225 L874 228 L877.5 231.2 L881 236.5 L885 242.5 L889 248 L892.5 253.8 L896 258 L900 262.5 L904 266.5 L907.5 270 L911 272 L915 273.8 L920 275 L925 276.2 L928.8 279 L935 280.5 L939 282 L943.3 283 L946.5 285 L949.6 287.3 L951.5 286.5 L953.8 286 L959 287.5 L964 289 L969 291.5 L974.6 294.4 L978 296.5 L982 298.5 L985 299" stroke="#94B93A" stroke-width="1.3"/>
<path d="M63 300.5 L70 304 L77 308 L85 312.5 L91 316 L97.5 320 L104 323 L110 326 L118 329 L127.5 332.5 L136 336 L145 340 L149 342 L152.5 343.8 L156 347.5 L160 351 L164 353.5 L167.5 355 L172 355.5 L177.5 355 L181 353.5 L185 352.5 L190 352.5 L195 352.5 L199 353.5 L202.5 353.8 L206 353 L210 352.5 L213 351 L215 350 L218 351.5 L222.5 352.5 L228 352 L235 351 L240 351 L245 351 L250 352.5 L255 353.8 L260 351 L265 347.5 L268 343 L271 338.8 L273 337.5 L275 337 L277.5 339.5 L280 341 L282.5 340.5 L285 340 L289 338.5 L292.5 338 L296 341 L300 342.5 L304 342 L307.5 341 L312 338.5 L317.5 336 L322 336.5 L327.5 336 L332 334 L337.5 331 L341 328.5 L345 325 L349 319.5 L352.5 313.8 L355 311 L358.8 308.8 L363 306.5 L367.5 305 L371 303 L375 301 L379 299 L382.5 297.5 L385 296 L387.5 295 L390 295.5 L392.5 295 L396 293 L400 291 L404 289.5 L407.5 288.8 L411 290 L415 291 L418 289.5 L420 287.5 L422.5 284.5 L425 281 L427.5 277 L430 272.5 L432.5 268.5 L435 264 L437.5 257 L441 249 L445 242.5 L449 236 L452.5 230 L456 227 L460 225 L464 218.5 L467.5 212.5 L471 208 L475 203.8 L479 203 L482.5 202.5 L486 199.5 L490 196.2 L492.5 193.5 L495 190 L497.5 184.5 L500 178.8 L502.5 173.5 L505 168.8 L507.5 165 L510 161 L514 156 L517.5 152.5 L520 153.5 L522.5 153.8 L525 152 L527.5 150 L530.5 146 L533.8 141.2 L536 139 L538.8 137.5 L541 137.8 L543.8 137.5 L547 129 L550 120 L553.5 111.5 L557.5 102.5 L561 96 L565 90 L569 84.5 L572.5 80 L575 77 L577.5 74.5 L579.5 74.8 L581.2 76.2 L583.5 81 L586.2 87.5 L589 92.5 L591.2 96.2 L594 95 L597.5 92.5 L601 88.5 L605 85 L607.5 88 L610 92.5 L612.5 98.5 L615 105 L617.5 109.5 L620 112.5 L622.5 113.5 L625 113.8 L629 111.5 L632.5 108.8 L636 107.5 L640 106.2 L642.5 103.5 L645 100 L649 94.5 L652.5 90 L656 87 L660 85 L662.5 84.5 L665 85 L667 88 L668.8 92.5 L670.5 98.5 L672.5 105 L675 110 L677.5 113.8 L682 115 L687.5 116.2 L692 117.5 L697.5 118.8 L702 120.5 L707.5 121.2 L711 121.5 L715 122 L719 124 L722.5 126.2 L727 126.5 L732.5 126.2 L736 128.5 L740 131.2 L744 134.5 L747.5 137.5 L751 139 L755 140 L759 141.5 L762.5 142.5 L767 143.3 L772.5 143.8 L776 144.5 L780 145 L784 146 L787.5 147 L791 149.5 L795 152.5 L799 156 L802.5 160 L806 165 L810 170 L814 172.5 L817.5 175 L821 178 L825 181.2 L828 183 L832 186 L835 187.5 L839 194 L842.5 200 L846 204.5 L850 208.8 L854 211.5 L857.5 213.8 L861 214.5 L865 215 L869 217 L872.5 220 L876 225.5 L880 231.2 L884 237 L887.5 242.5 L891 246.5 L895 250 L899 254.5 L902.5 258.8 L906 262 L910 265 L914 268.5 L917.5 271.2 L921 274 L925 277.5 L929 279.5 L932.5 281.5 L936 284.5 L940 287.5 L944 293 L947.5 296.5 L951.7 299.6 L955 300 L957 301.5 L960 301.7 L963 303 L966 302.5 L968.3 303.8 L971 304.5 L974 305.5 L976.7 306.9 L980 307 L982 309 L985 310" stroke="#1FB4DB" stroke-width="1.3"/>
<path d="M63.2 343.8 L65.2 344.5 L67.2 345.1 L69.2 345.7 L71.2 346.3 L73.2 346.9 L75.2 347.6 L77.2 348.2 L79.2 348.8 L81.2 349.4 L83.2 350 L85.2 350.6 L87.2 351.2 L89.2 351.7 L91.2 352.3 L93.2 352.8 L95.2 353.3 L97.2 353.7 L99.2 354.2 L101.2 354.8 L103.2 355.3 L105.2 355.9 L107.2 356.5 L109.2 357.1 L111.2 357.8 L113.2 358.4 L115.2 359 L117.2 359.6 L119.2 360.2 L121.2 360.8 L123.2 361.3 L125.2 361.8 L127.2 362.4 L129.2 362.9 L131.2 363.4 L133.2 363.9 L135.2 364.4 L137.2 364.9 L139.2 365.4 L141.2 365.9 L143.2 366.3 L145.2 366.6 L147.2 367 L149.2 367.3 L151.2 367.6 L153.2 367.9 L155.2 368.3 L157.2 368.6 L159.2 368.9 L161.2 369.1 L163.2 369.4 L165.2 369.7 L167.2 369.9 L169.2 370.2 L171.2 370.4 L173.2 370.7 L175.2 370.9 L177.2 371.2 L179.2 371.3 L181.2 371.5 L183.2 371.7 L185.2 371.8 L187.2 371.9 L189.2 372.1 L191.2 372.2 L193.2 372.3 L195.2 372.3 L197.2 372.3 L199.2 372.3 L201.2 372.2 L203.2 372.1 L205.2 371.9 L207.2 371.7 L209.2 371.5 L211.2 371.2 L213.2 370.9 L215.2 370.6 L217.2 370.4 L219.2 370.4 L221.2 370.5 L223.2 370.6 L225.2 370.7 L227.2 370.7 L229.2 370.6 L231.2 370.6 L233.2 370.5 L235.2 370.3 L237.2 370 L239.2 369.6 L241.2 369.2 L243.2 368.8 L245.2 368.3 L247.2 367.8 L249.2 367.2 L251.2 366.7 L253.2 366.2 L255.2 365.8 L257.2 365.4 L259.2 365 L261.2 364.6 L263.2 364.3 L265.2 363.9 L267.2 363.5 L269.2 363.1 L271.2 362.8 L273.2 362.4 L275.2 362.1 L277.2 361.7 L279.2 361.4 L281.2 361 L283.2 360.6 L285.2 360.2 L287.2 359.7 L289.2 359.2 L291.2 358.6 L293.2 358 L295.2 357.4 L297.2 356.8 L299.2 356.2 L301.2 355.5 L303.2 354.9 L305.2 354.2 L307.2 353.5 L309.2 352.9 L311.2 352.3 L313.2 351.7 L315.2 351.2 L317.2 350.6 L319.2 350.1 L321.2 349.5 L323.2 348.8 L325.2 348.1 L327.2 347.3 L329.2 346.4 L331.2 345.5 L333.2 344.4 L335.2 343.4 L337.2 342.3 L339.2 341.1 L341.2 339.9 L343.2 338.6 L345.2 337.3 L347.2 336 L349.2 334.7 L351.2 333.4 L353.2 332.1 L355.2 330.8 L357.2 329.4 L359.2 328 L361.2 326.6 L363.2 325.1 L365.2 323.6 L367.2 322.2 L369.2 320.8 L371.2 319.5 L373.2 318.1 L375.2 316.8 L377.2 315.4 L379.2 314.1 L381.2 312.6 L383.2 311.1 L385.2 309.3 L387.2 307.3 L389.2 305.2 L391.2 303 L393.2 300.8 L395.2 298.5 L397.2 296.3 L399.2 294.2 L401.2 292.1 L403.2 290.1 L405.2 288.1 L407.2 286.2 L409.2 284.2 L411.2 282.2 L413.2 280.3 L415.2 278.2 L417.2 276.2 L419.2 274.1 L421.2 272.1 L423.2 270.1 L425.2 268 L427.2 266 L429.2 264 L431.2 262 L433.2 259.9 L435.2 257.9 L437.2 255.7 L439.2 253.6 L441.2 251.5 L443.2 249.4 L445.2 247.3 L447.2 245.3 L449.2 243.2 L451.2 241.2 L453.2 239.2 L455.2 237.2 L457.2 235.3 L459.2 233.4 L461.2 231.6 L463.2 229.8 L465.2 228 L467.2 226.3 L469.2 224.4 L471.2 222.6 L473.2 220.6 L475.2 218.6 L477.2 216.7 L479.2 214.7 L481.2 212.7 L483.2 210.7 L485.2 208.7 L487.2 206.7 L489.2 204.7 L491.2 202.6 L493.2 200.6 L495.2 198.5 L497.2 196.5 L499.2 194.6 L501.2 192.7 L503.2 190.8 L505.2 189 L507.2 187.2 L509.2 185.5 L511.2 183.7 L513.2 182 L515.2 180.3 L517.2 178.6 L519.2 176.9 L521.2 175.2 L523.2 173.5 L525.2 171.9 L527.2 170.3 L529.2 168.8 L531.2 167.5 L533.2 166.1 L535.2 164.8 L537.2 163.6 L539.2 162.3 L541.2 161.1 L543.2 159.9 L545.2 158.8 L547.2 157.7 L549.2 156.6 L551.2 155.5 L553.2 154.4 L555.2 153.3 L557.2 152.1 L559.2 150.9 L561.2 149.7 L563.2 148.5 L565.2 147.4 L567.2 146.4 L569.2 145.4 L571.2 144.5 L573.2 143.6 L575.2 142.6 L577.2 141.7 L579.2 140.8 L581.2 139.8 L583.2 138.9 L585.2 138 L587.2 137.1 L589.2 136.2 L591.2 135.4 L593.2 134.6 L595.2 133.8 L597.2 133.1 L599.2 132.5 L601.2 131.9 L603.2 131.4 L605.2 130.9 L607.2 130.5 L609.2 130.2 L611.2 130 L613.2 130 L615.2 130.1 L617.2 130.2 L619.2 130.3 L621.2 130.2 L623.2 129.9 L625.2 129.4 L627.2 128.8 L629.2 128.1 L631.2 127.5 L633.2 126.9 L635.2 126.3 L637.2 125.7 L639.2 125.2 L641.2 124.7 L643.2 124.2 L645.2 123.7 L647.2 123.4 L649.2 123.2 L651.2 123.2 L653.2 123.5 L655.2 124.1 L657.2 124.8 L659.2 125.6 L661.2 126.5 L663.2 127.5 L665.2 128.5 L667.2 129.6 L669.2 130.7 L671.2 131.8 L673.2 132.9 L675.2 133.9 L677.2 134.9 L679.2 135.7 L681.2 136.5 L683.2 137.3 L685.2 138.2 L687.2 139.2 L689.2 140.2 L691.2 141.2 L693.2 142.3 L695.2 143.3 L697.2 144.4 L699.2 145.5 L701.2 146.5 L703.2 147.6 L705.2 148.6 L707.2 149.6 L709.2 150.5 L711.2 151.5 L713.2 152.5 L715.2 153.5 L717.2 154.6 L719.2 155.6 L721.2 156.6 L723.2 157.6 L725.2 158.7 L727.2 159.7 L729.2 160.8 L731.2 161.9 L733.2 163.1 L735.2 164.2 L737.2 165.4 L739.2 166.6 L741.2 167.8 L743.2 169 L745.2 170.2 L747.2 171.4 L749.2 172.6 L751.2 173.8 L753.2 175 L755.2 176.2 L757.2 177.5 L759.2 178.8 L761.2 180.1 L763.2 181.4 L765.2 182.7 L767.2 184.1 L769.2 185.6 L771.2 187 L773.2 188.5 L775.2 190 L777.2 191.5 L779.2 193 L781.2 194.5 L783.2 196.1 L785.2 197.7 L787.2 199.3 L789.2 200.9 L791.2 202.5 L793.2 204.1 L795.2 205.7 L797.2 207.3 L799.2 208.9 L801.2 210.5 L803.2 212.1 L805.2 213.7 L807.2 215.3 L809.2 216.9 L811.2 218.4 L813.2 219.9 L815.2 221.4 L817.2 222.9 L819.2 224.4 L821.2 225.9 L823.2 227.4 L825.2 228.9 L827.2 230.4 L829.2 231.9 L831.2 233.4 L833.2 234.9 L835.2 236.4 L837.2 238 L839.2 239.5 L841.2 241 L843.2 242.6 L845.2 244.2 L847.2 245.8 L849.2 247.4 L851.2 249.1 L853.2 250.7 L855.2 252.3 L857.2 254 L859.2 255.6 L861.2 257.3 L863.2 258.9 L865.2 260.6 L867.2 262.2 L869.2 263.9 L871.2 265.5 L873.2 267.1 L875.2 268.7 L877.2 270.3 L879.2 271.9 L881.2 273.5 L883.2 275.1 L885.2 276.7 L887.2 278.3 L889.2 279.9 L891.2 281.5 L893.2 283.1 L895.2 284.7 L897.2 286.3 L899.2 287.8 L901.2 289.4 L903.2 290.8 L905.2 292.3 L907.2 293.8 L909.2 295.2 L911.2 296.6 L913.2 298.1 L915.2 299.5 L917.2 300.8 L919.2 302.2 L921.2 303.6 L923.2 305 L925.2 306.3 L927.2 307.7 L929.2 309 L931.2 310.3 L933.2 311.6 L935.2 312.9 L937.2 314.2 L939.2 315.4 L941.2 316.7 L943.2 317.9 L945.2 319.2 L947.2 320.4 L949.2 321.6 L951.2 322.8 L953.2 324 L955.2 325.1 L957.2 326.2 L959.2 327.3 L961.2 328.4 L963.2 329.5 L965.2 330.7 L967.2 331.9 L969.2 333 L971.2 334.2 L973.2 335.4 L975.2 336.6 L977.2 337.8 L979.2 338.9 L981.2 340.1 L983.2 341.2 L985.2 342.4" stroke="#111" stroke-width="1.35"/>
<path d="M63.5 312.5 L66 312 L70 312 L72 315 L75 317.5 L78 318.5 L81 321.5 L85 323.8 L88 323 L91 326 L94 325.5 L97.5 327.5 L98.8 331.5 L101 325.5 L103 329.5 L106 327.5 L110 328.8 L114 330 L118 330.5 L122.5 332.5 L127 334.5 L131 334 L135 335 L138 338 L141 339 L145 341.5 L148 340 L152.5 340.8 L156 343 L160 343.8 L164 346.5 L167.5 347.5 L171 346 L175 347 L178 350 L180 349.5 L183 348 L187.5 346 L192 343.5 L196 342 L199 344 L202.5 345 L206 348.5 L209 350 L212.5 351.8 L215 349 L217 347 L220 345.5 L223 347.5 L226 346 L230 347.5 L235 347 L238 348 L241 347 L244 343.5 L247.5 341 L250 342.5 L253 341 L257.5 339.5 L261 339.5 L265 338.8 L268.8 335 L271 338 L273.5 342 L276 344 L279 340 L282.5 337.5 L286 333 L290 327.5 L294 322.5 L297.5 317.5 L301 315.5 L303.8 314.5 L307 316 L310 316 L314 317.5 L317.5 318.8 L320 313 L323.8 306 L326 306 L328.8 305 L331 308 L333.8 311 L337 316 L340 320 L343 320.5 L345 320.5 L349 319 L352.5 317.5 L355 315 L358.8 312.5 L362 309 L365 306 L369 304.5 L372.5 303.8 L375 302 L377.5 301 L380 298 L382.5 296 L386 295 L390 293.8 L392 289 L393.8 285 L397 280 L400 276 L404 272.5 L407.5 270 L409 265 L411 260 L413 255.5 L415 253.8 L420 252.5 L425 251.2 L429 247 L432.5 242.5 L436 237 L440 231.2 L444 227.5 L447.5 225 L450 221.5 L452.5 217.5 L455 212.5 L457.5 207.5 L460 202 L462.5 197.5 L466 197 L468.8 196.2 L471 191 L472.5 187.5 L475 184 L477.5 181.2 L481 181.5 L485 181.2 L488 177 L490 173.8 L494 169.5 L497.5 165.5 L501 164 L505 162.5 L509 163 L512.5 162.5 L515 158 L517.5 155 L520 152.5 L522.5 151.2 L526 151.5 L530 151.2 L533 149 L535 147.5 L538 145 L540 142.5 L542 136 L543.8 130 L546 122 L548.8 113.8 L552 111.5 L555 110 L558 107 L560 105 L563 103.5 L565 102.5 L568 99 L571.2 95 L574 98.5 L577.5 102.5 L580 101.5 L582.5 100 L586 96.5 L590 92.5 L593 89 L595 86.2 L599 83 L602.5 80 L605 81.5 L607.5 82.5 L611 79.5 L615 76.2 L618 75.5 L620 75 L622.5 74.5" stroke="#E87FE8" stroke-width="3.5" stroke-linecap="round"/>
</g>
<g stroke="#4a4a4a" stroke-width="1" shape-rendering="crispEdges">
<path d="M60.0 391.5H63.25"/>
<path d="M60.0 346.5H63.25"/>
<path d="M60.0 301.5H63.25"/>
<path d="M60.0 256.5H63.25"/>
<path d="M60.0 211.5H63.25"/>
<path d="M60.0 166.5H63.25"/>
<path d="M60.0 121.5H63.25"/>
<path d="M60.0 76.5H63.25"/>
<path d="M63.5 420.0V423.0"/>
<path d="M141.5 420.0V423.0"/>
<path d="M212.5 420.0V423.0"/>
<path d="M291.5 420.0V423.0"/>
<path d="M367.5 420.0V423.0"/>
<path d="M446.5 420.0V423.0"/>
<path d="M522.5 420.0V423.0"/>
<path d="M600.5 420.0V423.0"/>
<path d="M679.5 420.0V423.0"/>
<path d="M755.5 420.0V423.0"/>
<path d="M833.5 420.0V423.0"/>
<path d="M909.5 420.0V423.0"/>
</g>
<g fill="#4d4d4d" font-size="16">
<text x="58" y="397.85" text-anchor="end">14</text>
<text x="58" y="352.85" text-anchor="end">16</text>
<text x="58" y="307.85" text-anchor="end">18</text>
<text x="58" y="262.85" text-anchor="end">20</text>
<text x="58" y="217.85" text-anchor="end">22</text>
<text x="58" y="172.85" text-anchor="end">24</text>
<text x="58" y="127.85" text-anchor="end">26</text>
<text x="58" y="82.85" text-anchor="end">28</text>
<text x="63.25" y="438.2" text-anchor="middle">Jan</text>
<text x="141.84" y="438.2" text-anchor="middle">Feb</text>
<text x="212.81" y="438.2" text-anchor="middle">Mar</text>
<text x="291.40" y="438.2" text-anchor="middle">Apr</text>
<text x="367.45" y="438.2" text-anchor="middle">May</text>
<text x="446.04" y="438.2" text-anchor="middle">Jun</text>
<text x="522.09" y="438.2" text-anchor="middle">Jul</text>
<text x="600.67" y="438.2" text-anchor="middle">Aug</text>
<text x="679.25" y="438.2" text-anchor="middle">Sep</text>
<text x="755.31" y="438.2" text-anchor="middle">Oct</text>
<text x="833.89" y="438.2" text-anchor="middle">Nov</text>
<text x="909.94" y="438.2" text-anchor="middle">Dec</text>
</g>
<text x="63.5" y="34.6" font-size="20" fill="#000">Mediterranean daily average SST mean NCEI (1982-2024)</text>
<text transform="translate(30.5 194.3) rotate(-90)" font-size="16" fill="#000">Daily SST mean (ºC)</text>
<text x="986" y="463.2" text-anchor="end" font-size="12.13" fill="#666">Data: GHRSST Level 4 AVHRR_OI Global Blended Sea Surface Temperature Analysis v2.1 (GDS2) from NCEI</text>
<rect x="71.3" y="52.5" width="140.7" height="20" rx="3" fill="#fff" stroke="#999" stroke-width="0.8"/>
<text x="76" y="67.6" font-size="14.3" fill="#888">Updated 10-08-2024</text>
<rect x="858" y="396" width="102" height="15" rx="2.5" fill="#fff" stroke="#999" stroke-width="0.8"/>
<text x="861.5" y="407.6" font-size="11" fill="#888">©CEAMMeteo2024</text>
<rect x="506.4" y="328.4" width="293.6" height="34" fill="#fff" stroke="#b3b3b3" stroke-width="1"/>
<path d="M513.4 346H527.1999999999999" stroke="#E69F00" stroke-width="1.35"/>
<text x="535.2" y="350" font-size="10.7" fill="#000">2021</text>
<path d="M565.6 346H579.4" stroke="#94B93A" stroke-width="1.35"/>
<text x="587" y="350" font-size="10.7" fill="#000">2022</text>
<path d="M617.8 346H631.5999999999999" stroke="#1FB4DB" stroke-width="1.35"/>
<text x="639.2" y="350" font-size="10.7" fill="#000">2023</text>
<path d="M669.6 346H683.4" stroke="#E87FE8" stroke-width="3.4"/>
<text x="691" y="350" font-size="10.7" fill="#000">2024</text>
<path d="M722.4 346H736.1999999999999" stroke="#111" stroke-width="1.3"/>
<text x="743.2" y="343.8" font-size="10.7" fill="#000">1982-2011</text>
<text x="743.2" y="356" font-size="10.7" fill="#000">mean</text>
<rect x="919" y="64.5" width="55" height="35" fill="#fff"/>
<g role="img" aria-label="CEAM"><title>CEAM</title>
<text transform="translate(918.3 79.6) scale(0.86 1)" font-size="18.9" fill="#0a0a0a" stroke="#0a0a0a" stroke-width="0.55" stroke-linejoin="round">C</text>
<text transform="translate(931.3 79.6) scale(0.735 1)" font-size="18.9" fill="#0a0a0a" stroke="#0a0a0a" stroke-width="0.55" stroke-linejoin="round">E</text>
<text transform="translate(941.5 79.6) scale(1.08 1)" font-size="18.9" fill="#0a0a0a" stroke="#0a0a0a" stroke-width="0.55" stroke-linejoin="round">A</text>
<text transform="translate(954.6 79.6) scale(1.32 1)" font-size="18.9" fill="#0a0a0a" stroke="#0a0a0a" stroke-width="0.55" stroke-linejoin="round">M</text>
</g>
<rect x="919" y="82.5" width="55" height="16.4" fill="#2D2D87"/>
<path d="M919 82.5 L919.0 92.61 L919.5 92.83 L920.0 92.96 L920.5 93.00 L921.0 92.96 L921.5 92.83 L922.0 92.61 L922.5 92.33 L923.0 91.98 L923.5 91.58 L924.0 91.14 L924.5 90.68 L925.0 90.21 L925.5 89.75 L926.0 89.32 L926.5 88.93 L927.0 88.59 L927.5 88.33 L928.0 88.13 L928.5 88.02 L929.0 88.00 L929.5 88.07 L930.0 88.22 L930.5 88.45 L931.0 88.75 L931.5 89.12 L932.0 89.53 L932.5 89.98 L933.0 90.44 L933.5 90.91 L934.0 91.36 L934.5 91.78 L935.0 92.16 L935.5 92.48 L936.0 92.73 L936.5 92.90 L937.0 92.99 L937.5 92.99 L938.0 92.90 L938.5 92.73 L939.0 92.48 L939.5 92.16 L940.0 91.78 L940.5 91.36 L941.0 90.91 L941.5 90.44 L942.0 89.98 L942.5 89.53 L943.0 89.12 L943.5 88.75 L944.0 88.45 L944.5 88.22 L945.0 88.07 L945.5 88.00 L946.0 88.02 L946.5 88.13 L947.0 88.33 L947.5 88.59 L948.0 88.93 L948.5 89.32 L949.0 89.75 L949.5 90.21 L950.0 90.68 L950.5 91.14 L951.0 91.58 L951.5 91.98 L952.0 92.33 L952.5 92.61 L953.0 92.83 L953.5 92.96 L954.0 93.00 L954.5 92.96 L955.0 92.83 L955.5 92.61 L956.0 92.33 L956.5 91.98 L957.0 91.58 L957.5 91.14 L958.0 90.68 L958.5 90.21 L959.0 89.75 L959.5 89.32 L960.0 88.93 L960.5 88.59 L961.0 88.33 L961.5 88.13 L962.0 88.02 L962.5 88.00 L963.0 88.07 L963.5 88.22 L964.0 88.45 L964.5 88.75 L965.0 89.12 L965.5 89.53 L966.0 89.98 L966.5 90.44 L967.0 90.91 L967.5 91.36 L968.0 91.78 L968.5 92.16 L969.0 92.48 L969.5 92.73 L970.0 92.90 L970.5 92.99 L971.0 92.99 L971.5 92.90 L972.0 92.73 L972.5 92.48 L973.0 92.16 L973.5 91.78 L974.0 91.36 L974 82.5Z" fill="#3D6EB6"/>
<path d="M919.0 92.61 L919.5 92.83 L920.0 92.96 L920.5 93.00 L921.0 92.96 L921.5 92.83 L922.0 92.61 L922.5 92.33 L923.0 91.98 L923.5 91.58 L924.0 91.14 L924.5 90.68 L925.0 90.21 L925.5 89.75 L926.0 89.32 L926.5 88.93 L927.0 88.59 L927.5 88.33 L928.0 88.13 L928.5 88.02 L929.0 88.00 L929.5 88.07 L930.0 88.22 L930.5 88.45 L931.0 88.75 L931.5 89.12 L932.0 89.53 L932.5 89.98 L933.0 90.44 L933.5 90.91 L934.0 91.36 L934.5 91.78 L935.0 92.16 L935.5 92.48 L936.0 92.73 L936.5 92.90 L937.0 92.99 L937.5 92.99 L938.0 92.90 L938.5 92.73 L939.0 92.48 L939.5 92.16 L940.0 91.78 L940.5 91.36 L941.0 90.91 L941.5 90.44 L942.0 89.98 L942.5 89.53 L943.0 89.12 L943.5 88.75 L944.0 88.45 L944.5 88.22 L945.0 88.07 L945.5 88.00 L946.0 88.02 L946.5 88.13 L947.0 88.33 L947.5 88.59 L948.0 88.93 L948.5 89.32 L949.0 89.75 L949.5 90.21 L950.0 90.68 L950.5 91.14 L951.0 91.58 L951.5 91.98 L952.0 92.33 L952.5 92.61 L953.0 92.83 L953.5 92.96 L954.0 93.00 L954.5 92.96 L955.0 92.83 L955.5 92.61 L956.0 92.33 L956.5 91.98 L957.0 91.58 L957.5 91.14 L958.0 90.68 L958.5 90.21 L959.0 89.75 L959.5 89.32 L960.0 88.93 L960.5 88.59 L961.0 88.33 L961.5 88.13 L962.0 88.02 L962.5 88.00 L963.0 88.07 L963.5 88.22 L964.0 88.45 L964.5 88.75 L965.0 89.12 L965.5 89.53 L966.0 89.98 L966.5 90.44 L967.0 90.91 L967.5 91.36 L968.0 91.78 L968.5 92.16 L969.0 92.48 L969.5 92.73 L970.0 92.90 L970.5 92.99 L971.0 92.99 L971.5 92.90 L972.0 92.73 L972.5 92.48 L973.0 92.16 L973.5 91.78 L974.0 91.36" fill="none" stroke="#fff" stroke-width="2.7"/>
</svg>
</body></html>
